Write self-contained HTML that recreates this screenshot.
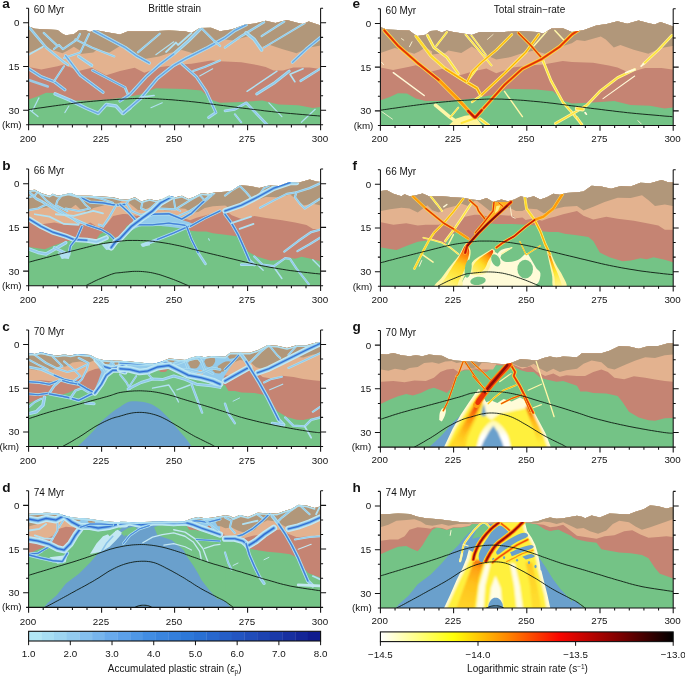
<!DOCTYPE html><html><head><meta charset="utf-8"><title>Figure</title>
<style>html,body{margin:0;padding:0;background:#fff}svg{display:block}text{font-family:"Liberation Sans", sans-serif;font-size:10px;fill:#111;opacity:0.99}.t{font-size:9.8px}</style></head><body>
<svg width="685" height="677" viewBox="0 0 685 677">
<rect width="685" height="677" fill="#fff"/>
<defs><linearGradient id="p1f" gradientUnits="userSpaceOnUse" x1="115.0" y1="84.2" x2="96.6" y2="125.1"><stop offset="0.00" stop-color="#d81c08"/><stop offset="0.18" stop-color="#ff7a08"/><stop offset="0.45" stop-color="#ffd21e"/><stop offset="0.80" stop-color="#ffee50"/><stop offset="1.00" stop-color="#fff590"/></linearGradient><linearGradient id="p2f" gradientUnits="userSpaceOnUse" x1="140.5" y1="88.7" x2="119.1" y2="112.8"><stop offset="0.00" stop-color="#e63208"/><stop offset="0.25" stop-color="#ff9a0a"/><stop offset="0.55" stop-color="#ffdf28"/><stop offset="1.00" stop-color="#fff38a"/></linearGradient><linearGradient id="p3f" gradientUnits="userSpaceOnUse" x1="195.7" y1="89.3" x2="208.0" y2="125.1"><stop offset="0.00" stop-color="#f05008"/><stop offset="0.30" stop-color="#ffb012"/><stop offset="0.60" stop-color="#ffe630"/><stop offset="1.00" stop-color="#fff590"/></linearGradient><filter id="sf1" x="-5%" y="-5%" width="110%" height="110%"><feGaussianBlur stdDeviation="0.55"/></filter><linearGradient id="pgl" gradientUnits="userSpaceOnUse" x1="129.3" y1="72.1" x2="102.7" y2="127.3"><stop offset="0.00" stop-color="#c81408"/><stop offset="0.22" stop-color="#f04a08"/><stop offset="0.45" stop-color="#ff960e"/><stop offset="0.75" stop-color="#ffc81e"/><stop offset="1.00" stop-color="#ffe030"/></linearGradient><linearGradient id="pgr" gradientUnits="userSpaceOnUse" x1="175.3" y1="84.4" x2="189.6" y2="121.1"><stop offset="0.00" stop-color="#f05a08"/><stop offset="0.35" stop-color="#ffb416"/><stop offset="1.00" stop-color="#fff03c"/></linearGradient><linearGradient id="pgw" gradientUnits="userSpaceOnUse" x1="139.5" y1="99.7" x2="139.5" y2="115.0"><stop offset="0.00" stop-color="#fff9b0"/><stop offset="1.00" stop-color="#ffffff"/></linearGradient><clipPath id="bl2"><polygon points="89.4,127.3 92.5,124.2 100.7,106.8 108.9,92.5 117.0,80.3 123.2,71.1 127.2,66.4 134.4,79.9 139.5,78.2 145.6,80.7 151.8,76.6 159.9,79.2 168.1,75.2 174.3,78.2 179.4,84.4 184.5,93.6 193.7,110.9 198.8,124.2 199.8,127.3"/></clipPath><filter id="fbl2" x="-10%" y="-10%" width="120%" height="120%"><feGaussianBlur stdDeviation="0.90"/></filter><linearGradient id="pho" gradientUnits="userSpaceOnUse" x1="127.2" y1="74.3" x2="110.9" y2="127.4"><stop offset="0.00" stop-color="#f05a08"/><stop offset="0.20" stop-color="#ffa010"/><stop offset="0.50" stop-color="#ffc21c"/><stop offset="1.00" stop-color="#ffd62a"/></linearGradient><linearGradient id="phr" gradientUnits="userSpaceOnUse" x1="176.3" y1="78.4" x2="185.5" y2="127.4"><stop offset="0.00" stop-color="#ffc422"/><stop offset="0.40" stop-color="#ffd62a"/><stop offset="1.00" stop-color="#ffe030"/></linearGradient><clipPath id="bl3"><polygon points="90.5,127.4 92.5,124.4 98.6,111.1 104.8,96.8 110.9,84.5 114.6,75.3 117.0,66.5 122.9,69.8 126.4,61.9 131.5,54.0 138.5,46.1 145.1,39.5 148.6,37.4 170.5,37.4 173.3,39.5 175.3,47.9 180.0,54.9 183.5,61.9 186.1,70.6 187.9,79.4 188.8,86.8 189.6,87.6 192.6,99.8 195.7,112.1 198.4,124.4 198.8,127.4"/></clipPath><filter id="fbl3" x="-10%" y="-10%" width="120%" height="120%"><feGaussianBlur stdDeviation="1.10"/></filter>
<linearGradient id="hot" x1="0" x2="1" y1="0" y2="0">
<stop offset="0" stop-color="#ffffff"/><stop offset="0.125" stop-color="#ffff86"/><stop offset="0.25" stop-color="#ffff08"/><stop offset="0.4375" stop-color="#ff8400"/><stop offset="0.61" stop-color="#fa0600"/><stop offset="0.8125" stop-color="#800000"/><stop offset="1" stop-color="#000000"/>
</linearGradient>
</defs>
<clipPath id="c00"><rect x="28.6" y="8.2" width="292.0" height="116.6"/></clipPath>
<g clip-path="url(#c00)">
<g transform="translate(0.00,0.00)">
<clipPath id="ta"><polygon points="25.7,26.4 28.7,26.4 34.8,28.8 57.5,30.0 62.4,33.7 65.6,35.3 73.8,34.2 78.7,30.4 85.2,30.0 90.0,32.0 94.9,30.0 101.4,31.3 111.2,32.9 120.0,34.5 128.1,31.3 152.5,31.3 168.8,30.4 185.0,31.3 191.5,32.9 199.7,28.0 211.0,27.7 220.0,31.3 231.5,29.6 244.5,24.8 255.0,23.5 265.7,20.7 275.4,23.1 286.8,19.9 297.0,22.7 303.0,24.0 308.7,21.5 320.7,25.6 323.7,25.6 323.7,127.3 25.7,127.3"/></clipPath>
<g clip-path="url(#ta)">
<rect x="26.7" y="5.7" width="296.0" height="120.6" fill="#74c386"/>

<polygon points="25.7,2.7 25.7,99.6 28.7,99.6 38.0,96.3 46.1,92.7 55.1,93.0 64.0,97.9 73.8,100.4 90.0,100.4 106.3,99.6 120.0,97.9 139.5,94.7 155.8,88.2 185.0,89.0 201.3,90.6 211.0,99.6 220.0,102.8 241.3,102.0 262.4,100.4 278.7,104.4 298.2,105.2 312.8,108.0 320.7,106.9 323.7,106.9 323.7,2.7" fill="#c58473"/>
<polygon points="25.7,2.7 25.7,67.0 28.7,67.0 41.3,69.5 57.5,66.2 64.0,64.6 78.7,71.1 91.7,67.8 106.3,75.2 120.0,71.1 134.6,67.8 144.4,72.7 160.7,67.0 180.2,64.6 191.5,63.8 211.0,60.5 220.0,61.3 241.3,62.2 257.0,65.0 265.7,67.0 273.5,70.5 283.0,70.5 293.3,67.5 309.6,67.5 320.7,69.0 323.7,69.0 323.7,2.7" fill="#e3b28f"/>
<polygon points="25.7,2.7 25.7,52.4 28.7,52.4 42.9,47.5 52.6,50.0 62.4,53.2 67.3,50.8 73.8,46.7 80.3,50.8 80.3,54.0 93.3,52.4 96.5,50.0 109.5,52.4 120.0,45.9 129.8,52.4 144.4,58.9 159.0,56.5 168.8,53.2 181.8,50.0 193.2,53.2 204.6,47.5 220.0,42.6 225.0,39.5 233.0,40.5 249.0,36.0 254.0,39.0 262.0,47.0 268.6,44.5 281.9,49.1 296.5,53.2 309.5,47.5 320.7,45.5 323.7,45.5 323.7,2.7" fill="#b1977a"/>
<polyline points="29.0,27.2 46.1,47.5 64.0,62.2 68.0,65.0" fill="none" stroke="#b0e0f1" stroke-width="2.70" stroke-linecap="round" stroke-linejoin="round"/><polyline points="29.0,27.2 46.1,47.5 64.0,62.2 68.0,65.0" fill="none" stroke="#93cbec" stroke-width="1.35" stroke-linecap="round" stroke-linejoin="round"/>
<polyline points="43.7,32.9 57.5,45.9" fill="none" stroke="#b0e0f1" stroke-width="2.16" stroke-linecap="round" stroke-linejoin="round"/><polyline points="43.7,32.9 57.5,45.9" fill="none" stroke="#93cbec" stroke-width="1.08" stroke-linecap="round" stroke-linejoin="round"/>
<polyline points="54.0,49.0 59.0,45.0 63.0,49.2 77.0,39.5 80.0,34.0" fill="none" stroke="#b0e0f1" stroke-width="2.16" stroke-linecap="round" stroke-linejoin="round"/><polyline points="54.0,49.0 59.0,45.0 63.0,49.2 77.0,39.5 80.0,34.0" fill="none" stroke="#93cbec" stroke-width="1.08" stroke-linecap="round" stroke-linejoin="round"/>
<polyline points="89.0,34.0 80.3,52.4 64.0,58.0" fill="none" stroke="#b0e0f1" stroke-width="2.16" stroke-linecap="round" stroke-linejoin="round"/><polyline points="89.0,34.0 80.3,52.4 64.0,58.0" fill="none" stroke="#93cbec" stroke-width="1.08" stroke-linecap="round" stroke-linejoin="round"/>
<polyline points="28.7,54.8 42.9,46.7" fill="none" stroke="#b0e0f1" stroke-width="1.89" stroke-linecap="round" stroke-linejoin="round"/>
<polyline points="28.7,68.7 41.3,76.8 54.3,81.7 64.8,89.8" fill="none" stroke="#b0e0f1" stroke-width="3.24" stroke-linecap="round" stroke-linejoin="round"/><polyline points="28.7,68.7 41.3,76.8 54.3,81.7 64.8,89.8" fill="none" stroke="#93cbec" stroke-width="1.62" stroke-linecap="round" stroke-linejoin="round"/><polyline points="28.7,68.7 41.3,76.8 54.3,81.7 64.8,89.8" fill="none" stroke="#8fc6eb" stroke-width="1.87" stroke-linecap="round" stroke-linejoin="round"/><polyline points="28.7,68.7 41.3,76.8 54.3,81.7 64.8,89.8" fill="none" stroke="#5a9ae2" stroke-width="0.83" stroke-linecap="round" stroke-linejoin="round"/>
<polyline points="64.0,66.2 54.3,80.9" fill="none" stroke="#b0e0f1" stroke-width="2.03" stroke-linecap="round" stroke-linejoin="round"/><polyline points="64.0,66.2 54.3,80.9" fill="none" stroke="#93cbec" stroke-width="1.01" stroke-linecap="round" stroke-linejoin="round"/>
<polyline points="28.7,80.0 47.8,86.5" fill="none" stroke="#9ccbe6" stroke-width="2.43" stroke-linecap="round" stroke-linejoin="round"/>
<polyline points="65.6,55.7 80.3,75.2 103.0,92.2" fill="none" stroke="#b0e0f1" stroke-width="3.24" stroke-linecap="round" stroke-linejoin="round"/><polyline points="65.6,55.7 80.3,75.2 103.0,92.2" fill="none" stroke="#93cbec" stroke-width="1.62" stroke-linecap="round" stroke-linejoin="round"/><polyline points="65.6,55.7 80.3,75.2 103.0,92.2" fill="none" stroke="#8fc6eb" stroke-width="1.87" stroke-linecap="round" stroke-linejoin="round"/><polyline points="65.6,55.7 80.3,75.2 103.0,92.2" fill="none" stroke="#5a9ae2" stroke-width="0.83" stroke-linecap="round" stroke-linejoin="round"/>
<polyline points="75.4,39.4 91.7,47.5 114.4,56.5" fill="none" stroke="#b0e0f1" stroke-width="2.03" stroke-linecap="round" stroke-linejoin="round"/><polyline points="75.4,39.4 91.7,47.5 114.4,56.5" fill="none" stroke="#93cbec" stroke-width="1.01" stroke-linecap="round" stroke-linejoin="round"/>
<polyline points="78.7,56.5 91.7,65.4" fill="none" stroke="#b0e0f1" stroke-width="3.24" stroke-linecap="round" stroke-linejoin="round"/><polyline points="78.7,56.5 91.7,65.4" fill="none" stroke="#93cbec" stroke-width="1.62" stroke-linecap="round" stroke-linejoin="round"/>
<polyline points="93.3,30.4 125.0,47.5 136.3,55.7 149.3,63.0" fill="none" stroke="#b0e0f1" stroke-width="3.51" stroke-linecap="round" stroke-linejoin="round"/><polyline points="93.3,30.4 125.0,47.5 136.3,55.7 149.3,63.0" fill="none" stroke="#93cbec" stroke-width="1.76" stroke-linecap="round" stroke-linejoin="round"/><polyline points="93.3,30.4 125.0,47.5 136.3,55.7 149.3,63.0" fill="none" stroke="#8fc6eb" stroke-width="2.03" stroke-linecap="round" stroke-linejoin="round"/><polyline points="93.3,30.4 125.0,47.5 136.3,55.7 149.3,63.0" fill="none" stroke="#5a9ae2" stroke-width="0.90" stroke-linecap="round" stroke-linejoin="round"/>
<polyline points="92.5,70.3 125.0,87.4 128.1,94.7" fill="none" stroke="#b0e0f1" stroke-width="2.70" stroke-linecap="round" stroke-linejoin="round"/><polyline points="92.5,70.3 125.0,87.4 128.1,94.7" fill="none" stroke="#93cbec" stroke-width="1.35" stroke-linecap="round" stroke-linejoin="round"/><polyline points="92.5,70.3 125.0,87.4" fill="none" stroke="#8fc6eb" stroke-width="1.70" stroke-linecap="round" stroke-linejoin="round"/><polyline points="92.5,70.3 125.0,87.4" fill="none" stroke="#5a9ae2" stroke-width="0.75" stroke-linecap="round" stroke-linejoin="round"/>
<polyline points="55.1,93.9 70.5,100.4 86.8,108.5 98.2,113.4 106.3,104.4 116.0,106.0 122.6,113.4 130.0,108.0" fill="none" stroke="#b0e0f1" stroke-width="3.51" stroke-linecap="round" stroke-linejoin="round"/><polyline points="55.1,93.9 70.5,100.4 86.8,108.5 98.2,113.4 106.3,104.4 116.0,106.0 122.6,113.4 130.0,108.0" fill="none" stroke="#93cbec" stroke-width="1.76" stroke-linecap="round" stroke-linejoin="round"/><polyline points="70.5,100.4 86.8,108.5 98.2,113.4 106.3,104.4" fill="none" stroke="#8fc6eb" stroke-width="1.70" stroke-linecap="round" stroke-linejoin="round"/><polyline points="70.5,100.4 86.8,108.5 98.2,113.4 106.3,104.4" fill="none" stroke="#5a9ae2" stroke-width="0.75" stroke-linecap="round" stroke-linejoin="round"/>
<polyline points="38.8,97.9 32.3,110.9" fill="none" stroke="#b0e0f1" stroke-width="1.22" stroke-linecap="round" stroke-linejoin="round"/>
<polyline points="29.9,110.1 38.0,116.6" fill="none" stroke="#b0e0f1" stroke-width="1.22" stroke-linecap="round" stroke-linejoin="round"/>
<polyline points="68.9,106.0 64.8,112.6" fill="none" stroke="#b0e0f1" stroke-width="1.08" stroke-linecap="round" stroke-linejoin="round"/>
<polyline points="201.3,28.0 188.3,41.0 173.7,54.0 160.7,63.8 146.0,76.8 129.8,94.7 120.0,101.0" fill="none" stroke="#b0e0f1" stroke-width="3.24" stroke-linecap="round" stroke-linejoin="round"/><polyline points="201.3,28.0 188.3,41.0 173.7,54.0 160.7,63.8 146.0,76.8 129.8,94.7 120.0,101.0" fill="none" stroke="#93cbec" stroke-width="1.62" stroke-linecap="round" stroke-linejoin="round"/><polyline points="173.7,54.0 160.7,63.8 146.0,76.8 129.8,94.7 120.0,101.0" fill="none" stroke="#8fc6eb" stroke-width="2.12" stroke-linecap="round" stroke-linejoin="round"/><polyline points="173.7,54.0 160.7,63.8 146.0,76.8 129.8,94.7 120.0,101.0" fill="none" stroke="#5a9ae2" stroke-width="0.94" stroke-linecap="round" stroke-linejoin="round"/>
<polyline points="246.1,24.8 234.8,30.4 225.0,37.8 207.8,47.5 185.0,58.9 173.7,65.4 157.4,78.4 141.1,97.9 123.3,113.4" fill="none" stroke="#b0e0f1" stroke-width="3.51" stroke-linecap="round" stroke-linejoin="round"/><polyline points="246.1,24.8 234.8,30.4 225.0,37.8 207.8,47.5 185.0,58.9 173.7,65.4 157.4,78.4 141.1,97.9 123.3,113.4" fill="none" stroke="#93cbec" stroke-width="1.76" stroke-linecap="round" stroke-linejoin="round"/><polyline points="246.1,24.8 234.8,30.4 225.0,37.8 207.8,47.5 185.0,58.9 173.7,65.4 157.4,78.4 141.1,97.9 123.3,113.4" fill="none" stroke="#8fc6eb" stroke-width="2.12" stroke-linecap="round" stroke-linejoin="round"/><polyline points="246.1,24.8 234.8,30.4 225.0,37.8 207.8,47.5 185.0,58.9 173.7,65.4 157.4,78.4 141.1,97.9 123.3,113.4" fill="none" stroke="#5a9ae2" stroke-width="0.94" stroke-linecap="round" stroke-linejoin="round"/>
<polyline points="181.8,63.8 196.4,76.8 206.2,91.4 215.9,112.6 208.6,117.4" fill="none" stroke="#b0e0f1" stroke-width="2.97" stroke-linecap="round" stroke-linejoin="round"/><polyline points="181.8,63.8 196.4,76.8 206.2,91.4 215.9,112.6 208.6,117.4" fill="none" stroke="#93cbec" stroke-width="1.49" stroke-linecap="round" stroke-linejoin="round"/><polyline points="181.8,63.8 196.4,76.8 206.2,91.4 215.9,112.6" fill="none" stroke="#8fc6eb" stroke-width="1.49" stroke-linecap="round" stroke-linejoin="round"/><polyline points="181.8,63.8 196.4,76.8 206.2,91.4 215.9,112.6" fill="none" stroke="#5a9ae2" stroke-width="0.66" stroke-linecap="round" stroke-linejoin="round"/>
<polyline points="220.0,60.5 204.6,67.0 193.2,71.1" fill="none" stroke="#b0e0f1" stroke-width="2.16" stroke-linecap="round" stroke-linejoin="round"/><polyline points="220.0,60.5 204.6,67.0 193.2,71.1" fill="none" stroke="#93cbec" stroke-width="1.08" stroke-linecap="round" stroke-linejoin="round"/>
<polyline points="212.7,68.7 199.7,76.0" fill="none" stroke="#b0e0f1" stroke-width="1.08" stroke-linecap="round" stroke-linejoin="round"/>
<polyline points="159.8,33.7 137.9,52.4" fill="none" stroke="#b0e0f1" stroke-width="2.16" stroke-linecap="round" stroke-linejoin="round"/><polyline points="159.8,33.7 137.9,52.4" fill="none" stroke="#93cbec" stroke-width="1.08" stroke-linecap="round" stroke-linejoin="round"/>
<polyline points="173.7,41.8 155.8,54.8" fill="none" stroke="#b0e0f1" stroke-width="1.08" stroke-linecap="round" stroke-linejoin="round"/>
<polyline points="191.5,33.0 178.0,45.0 176.0,42.5 166.0,52.0" fill="none" stroke="#b0e0f1" stroke-width="1.76" stroke-linecap="round" stroke-linejoin="round"/>
<polyline points="201.3,28.0 214.3,41.0 220.0,45.9" fill="none" stroke="#b0e0f1" stroke-width="2.43" stroke-linecap="round" stroke-linejoin="round"/><polyline points="201.3,28.0 214.3,41.0 220.0,45.9" fill="none" stroke="#93cbec" stroke-width="1.22" stroke-linecap="round" stroke-linejoin="round"/>
<polyline points="141.1,97.1 154.1,95.5" fill="none" stroke="#b0e0f1" stroke-width="1.62" stroke-linecap="round" stroke-linejoin="round"/>
<polyline points="150.9,107.7 162.3,102.8" fill="none" stroke="#b0e0f1" stroke-width="1.08" stroke-linecap="round" stroke-linejoin="round"/>
<polyline points="225.0,47.5 241.3,36.1 264.0,22.3" fill="none" stroke="#b0e0f1" stroke-width="2.43" stroke-linecap="round" stroke-linejoin="round"/><polyline points="225.0,47.5 241.3,36.1 264.0,22.3" fill="none" stroke="#93cbec" stroke-width="1.22" stroke-linecap="round" stroke-linejoin="round"/>
<polyline points="246.1,32.9 254.3,39.4 261.6,50.0" fill="none" stroke="#b0e0f1" stroke-width="3.51" stroke-linecap="round" stroke-linejoin="round"/><polyline points="246.1,32.9 254.3,39.4 261.6,50.0" fill="none" stroke="#93cbec" stroke-width="1.76" stroke-linecap="round" stroke-linejoin="round"/>
<polyline points="284.3,21.5 261.6,36.1" fill="none" stroke="#b0e0f1" stroke-width="2.16" stroke-linecap="round" stroke-linejoin="round"/><polyline points="284.3,21.5 261.6,36.1" fill="none" stroke="#93cbec" stroke-width="1.08" stroke-linecap="round" stroke-linejoin="round"/>
<polyline points="304.7,23.1 264.0,47.5" fill="none" stroke="#b0e0f1" stroke-width="2.03" stroke-linecap="round" stroke-linejoin="round"/><polyline points="304.7,23.1 264.0,47.5" fill="none" stroke="#93cbec" stroke-width="1.01" stroke-linecap="round" stroke-linejoin="round"/>
<polyline points="320.1,37.8 306.3,49.1 292.5,62.2" fill="none" stroke="#b0e0f1" stroke-width="3.24" stroke-linecap="round" stroke-linejoin="round"/><polyline points="320.1,37.8 306.3,49.1 292.5,62.2" fill="none" stroke="#93cbec" stroke-width="1.62" stroke-linecap="round" stroke-linejoin="round"/><polyline points="320.1,37.8 306.3,49.1 292.5,62.2" fill="none" stroke="#8fc6eb" stroke-width="1.87" stroke-linecap="round" stroke-linejoin="round"/><polyline points="320.1,37.8 306.3,49.1 292.5,62.2" fill="none" stroke="#5a9ae2" stroke-width="0.83" stroke-linecap="round" stroke-linejoin="round"/>
<polyline points="320.1,68.7 300.6,80.9" fill="none" stroke="#b0e0f1" stroke-width="2.43" stroke-linecap="round" stroke-linejoin="round"/><polyline points="320.1,68.7 300.6,80.9" fill="none" stroke="#93cbec" stroke-width="1.22" stroke-linecap="round" stroke-linejoin="round"/>
<polyline points="289.2,71.1 273.8,83.3 256.7,93.9" fill="none" stroke="#b0e0f1" stroke-width="2.97" stroke-linecap="round" stroke-linejoin="round"/><polyline points="289.2,71.1 273.8,83.3 256.7,93.9" fill="none" stroke="#93cbec" stroke-width="1.49" stroke-linecap="round" stroke-linejoin="round"/>
<polyline points="277.0,71.1 247.0,91.4" fill="none" stroke="#b0e0f1" stroke-width="1.35" stroke-linecap="round" stroke-linejoin="round"/>
<polyline points="303.0,68.7 290.0,74.3 294.9,81.7" fill="none" stroke="#b0e0f1" stroke-width="1.62" stroke-linecap="round" stroke-linejoin="round"/>
<polyline points="225.0,110.9 234.8,109.3 246.1,102.8 267.3,125.0" fill="none" stroke="#b0e0f1" stroke-width="2.70" stroke-linecap="round" stroke-linejoin="round"/><polyline points="225.0,110.9 234.8,109.3 246.1,102.8 267.3,125.0" fill="none" stroke="#93cbec" stroke-width="1.35" stroke-linecap="round" stroke-linejoin="round"/>
<polyline points="234.8,114.2 241.3,122.3" fill="none" stroke="#b0e0f1" stroke-width="2.03" stroke-linecap="round" stroke-linejoin="round"/><polyline points="234.8,114.2 241.3,122.3" fill="none" stroke="#93cbec" stroke-width="1.01" stroke-linecap="round" stroke-linejoin="round"/>
<polyline points="268.9,102.8 281.9,116.6" fill="none" stroke="#b0e0f1" stroke-width="1.22" stroke-linecap="round" stroke-linejoin="round"/>
<polyline points="315.2,109.3 301.4,122.3" fill="none" stroke="#b0e0f1" stroke-width="1.22" stroke-linecap="round" stroke-linejoin="round"/>
</g>
<polyline points="28.7,109.6 30.3,109.4 32.5,109.0 35.0,108.7 37.9,108.2 40.9,107.8 44.0,107.4 47.1,106.9 50.0,106.5 52.8,106.1 55.7,105.7 58.6,105.3 61.6,104.9 64.6,104.5 67.6,104.1 70.7,103.7 73.8,103.3 77.0,102.9 80.2,102.6 83.5,102.2 86.8,101.8 90.2,101.5 93.5,101.2 96.8,100.9 100.0,100.6 103.2,100.3 106.5,100.1 109.7,99.9 112.9,99.7 116.1,99.5 119.2,99.3 122.2,99.1 125.0,99.0 127.7,98.9 130.1,98.7 132.5,98.6 134.7,98.5 137.0,98.4 139.3,98.4 141.8,98.4 144.4,98.4 147.2,98.5 150.1,98.5 153.1,98.7 156.2,98.8 159.3,99.0 162.5,99.2 165.6,99.4 168.8,99.6 172.0,99.8 175.3,100.1 178.5,100.4 181.9,100.7 185.2,101.0 188.5,101.3 191.8,101.7 195.0,102.0 198.1,102.4 201.2,102.7 204.2,103.1 207.3,103.5 210.3,103.9 213.4,104.3 216.6,104.8 220.0,105.2 223.5,105.6 227.1,106.1 230.9,106.6 234.7,107.1 238.5,107.6 242.4,108.1 246.2,108.5 250.0,109.0 253.7,109.5 257.2,109.9 260.8,110.3 264.3,110.8 268.0,111.2 271.7,111.6 275.7,112.1 280.0,112.5 284.9,113.0 290.4,113.5 296.3,114.0 302.2,114.5 307.9,115.0 313.1,115.5 317.5,115.8 320.7,116.1" fill="none" stroke="#0d1a12" stroke-width="0.90" stroke-linejoin="round"/>
</g></g>
<path d="M28.60 8.23V124.83H320.60V8.23M28.60 8.23h-2.50M320.60 8.23h2.50M28.60 22.80h-5.50M320.60 22.80h5.50M28.60 37.38h-2.50M320.60 37.38h2.50M28.60 51.95h-2.50M320.60 51.95h2.50M28.60 66.53h-5.50M320.60 66.53h5.50M28.60 81.10h-2.50M320.60 81.10h2.50M28.60 95.67h-2.50M320.60 95.67h2.50M28.60 110.25h-5.50M320.60 110.25h5.50M28.60 124.83h-2.50M320.60 124.83h2.50M28.60 124.83v5.30M43.20 124.83v2.60M57.80 124.83v2.60M72.40 124.83v2.60M87.00 124.83v2.60M101.60 124.83v5.30M116.20 124.83v2.60M130.80 124.83v2.60M145.40 124.83v2.60M160.00 124.83v2.60M174.60 124.83v5.30M189.20 124.83v2.60M203.80 124.83v2.60M218.40 124.83v2.60M233.00 124.83v2.60M247.60 124.83v5.30M262.20 124.83v2.60M276.80 124.83v2.60M291.40 124.83v2.60M306.00 124.83v2.60M320.60 124.83v5.30" fill="none" stroke="#111" stroke-width="1.05"/>
<text x="19.4" y="26.2" text-anchor="end" class="t">0</text>
<text x="19.4" y="69.9" text-anchor="end" class="t">15</text>
<text x="19.4" y="113.7" text-anchor="end" class="t">30</text>
<text x="21.6" y="127.8" text-anchor="end" class="t">(km)</text>
<text x="28.0" y="142.2" text-anchor="middle" class="t">200</text>
<text x="101.0" y="142.2" text-anchor="middle" class="t">225</text>
<text x="174.0" y="142.2" text-anchor="middle" class="t">250</text>
<text x="247.0" y="142.2" text-anchor="middle" class="t">275</text>
<text x="320.0" y="142.2" text-anchor="middle" class="t">300</text>
<text x="2.2" y="7.9" style="font-weight:bold;font-size:13.6px">a</text>
<text x="33.8" y="13.2">60 Myr</text>
<clipPath id="c10"><rect x="380.4" y="8.8" width="292.8" height="116.6"/></clipPath>
<g clip-path="url(#c10)">
<g transform="translate(351.80,0.60)">
<clipPath id="te"><polygon points="25.7,26.4 28.7,26.4 34.8,28.8 57.5,30.0 62.4,33.7 65.6,35.3 73.8,34.2 78.7,30.4 85.2,30.0 90.0,32.0 94.9,30.0 101.4,31.3 111.2,32.9 120.0,34.5 128.1,31.3 152.5,31.3 168.8,30.4 185.0,31.3 191.5,32.9 199.7,28.0 211.0,27.7 220.0,31.3 231.5,29.6 244.5,24.8 255.0,23.5 265.7,20.7 275.4,23.1 286.8,19.9 297.0,22.7 303.0,24.0 308.7,21.5 320.7,25.6 323.7,25.6 323.7,127.3 25.7,127.3"/></clipPath>
<g clip-path="url(#te)">
<rect x="26.7" y="5.7" width="296.0" height="120.6" fill="#74c386"/>

<polygon points="25.7,2.7 25.7,99.6 28.7,99.6 38.0,96.3 46.1,92.7 55.1,93.0 64.0,97.9 73.8,100.4 90.0,100.4 106.3,99.6 120.0,97.9 139.5,94.7 155.8,88.2 185.0,89.0 201.3,90.6 211.0,99.6 220.0,102.8 241.3,102.0 262.4,100.4 278.7,104.4 298.2,105.2 312.8,108.0 320.7,106.9 323.7,106.9 323.7,2.7" fill="#c58473"/>
<polygon points="25.7,2.7 25.7,67.0 28.7,67.0 41.3,69.5 57.5,66.2 64.0,64.6 78.7,71.1 91.7,67.8 106.3,75.2 120.0,71.1 134.6,67.8 144.4,72.7 160.7,67.0 180.2,64.6 191.5,63.8 211.0,60.5 220.0,61.3 241.3,62.2 257.0,65.0 265.7,67.0 273.5,70.5 283.0,70.5 293.3,67.5 309.6,67.5 320.7,69.0 323.7,69.0 323.7,2.7" fill="#e3b28f"/>
<polygon points="25.7,2.7 25.7,52.4 28.7,52.4 42.9,47.5 52.6,50.0 62.4,53.2 67.3,50.8 73.8,46.7 80.3,50.8 80.3,54.0 93.3,52.4 96.5,50.0 109.5,52.4 120.0,45.9 129.8,52.4 144.4,58.9 159.0,56.5 168.8,53.2 181.8,50.0 193.2,53.2 204.6,47.5 220.0,42.6 225.0,39.5 233.0,40.5 249.0,36.0 254.0,39.0 262.0,47.0 268.6,44.5 281.9,49.1 296.5,53.2 309.5,47.5 320.7,45.5 323.7,45.5 323.7,2.7" fill="#b1977a"/>
<polyline points="41.5,72.1 72.4,94.9" fill="none" stroke="#fff9d8" stroke-width="1.51" stroke-linecap="round" stroke-linejoin="round"/>
<polyline points="49.6,38.0 52.0,39.6" fill="none" stroke="#fff9d8" stroke-width="0.81" stroke-linecap="round" stroke-linejoin="round"/>
<polyline points="60.2,41.2 57.7,46.1" fill="none" stroke="#fff9d8" stroke-width="0.93" stroke-linecap="round" stroke-linejoin="round"/>
<polyline points="29.8,61.6 31.7,64.0" fill="none" stroke="#fff9d8" stroke-width="0.93" stroke-linecap="round" stroke-linejoin="round"/>
<polyline points="30.1,111.1 40.6,118.5" fill="none" stroke="#fff9d8" stroke-width="0.81" stroke-linecap="round" stroke-linejoin="round"/>
<polyline points="95.1,31.5 84.5,45.3" fill="none" stroke="#fdf4a0" stroke-width="2.17" stroke-linecap="round" stroke-linejoin="round"/><polyline points="95.1,31.5 84.5,45.3" fill="none" stroke="#ffe53a" stroke-width="1.09" stroke-linecap="round" stroke-linejoin="round"/>
<polyline points="113.8,33.9 139.7,64.8" fill="none" stroke="#fdf4a0" stroke-width="2.17" stroke-linecap="round" stroke-linejoin="round"/><polyline points="113.8,33.9 139.7,64.8" fill="none" stroke="#ffe53a" stroke-width="1.09" stroke-linecap="round" stroke-linejoin="round"/>
<polyline points="119.5,34.7 134.0,54.2" fill="none" stroke="#fdf4a0" stroke-width="1.89" stroke-linecap="round" stroke-linejoin="round"/><polyline points="119.5,34.7 134.0,54.2" fill="none" stroke="#ffe53a" stroke-width="0.94" stroke-linecap="round" stroke-linejoin="round"/>
<polyline points="125.2,68.1 115.4,81.1" fill="none" stroke="#fdf4a0" stroke-width="2.17" stroke-linecap="round" stroke-linejoin="round"/><polyline points="125.2,68.1 115.4,81.1" fill="none" stroke="#ffe53a" stroke-width="1.09" stroke-linecap="round" stroke-linejoin="round"/>
<polyline points="83.7,104.6 98.4,116.8 109.8,124.5" fill="none" stroke="#fff6a8" stroke-width="3.48" stroke-linecap="round" stroke-linejoin="round"/>
<polyline points="106.5,107.1 98.4,116.8" fill="none" stroke="#fdf4a0" stroke-width="2.03" stroke-linecap="round" stroke-linejoin="round"/><polyline points="106.5,107.1 98.4,116.8" fill="none" stroke="#ffe53a" stroke-width="1.01" stroke-linecap="round" stroke-linejoin="round"/>
<polyline points="75.6,34.7 82.1,46.9 95.1,56.7 106.5,72.9" fill="none" stroke="#fdf4a0" stroke-width="2.90" stroke-linecap="round" stroke-linejoin="round"/><polyline points="75.6,34.7 82.1,46.9 95.1,56.7 106.5,72.9" fill="none" stroke="#ffe53a" stroke-width="1.45" stroke-linecap="round" stroke-linejoin="round"/>
<polyline points="64.2,35.5 78.9,55.1 93.5,68.1 111.4,79.4 125.2,87.6 129.1,94.9" fill="none" stroke="#fdf08a" stroke-width="3.33" stroke-linecap="round" stroke-linejoin="round"/><polyline points="64.2,35.5 78.9,55.1 93.5,68.1 111.4,79.4 125.2,87.6 129.1,94.9" fill="none" stroke="#ffd828" stroke-width="2.20" stroke-linecap="round" stroke-linejoin="round"/><polyline points="93.5,68.1 111.4,79.4 125.2,87.6 129.1,94.9" fill="none" stroke="#ffa200" stroke-width="1.07" stroke-linecap="round" stroke-linejoin="round"/>
<polyline points="129.1,94.9 120.2,101.4" fill="none" stroke="#fdf4a0" stroke-width="2.32" stroke-linecap="round" stroke-linejoin="round"/><polyline points="129.1,94.9 120.2,101.4" fill="none" stroke="#ffe53a" stroke-width="1.16" stroke-linecap="round" stroke-linejoin="round"/>
<polyline points="152.7,90.8 170.6,116.0" fill="none" stroke="#fff6a8" stroke-width="1.45" stroke-linecap="round" stroke-linejoin="round"/>
<polyline points="195.0,30.7 182.0,45.3" fill="none" stroke="#fff6a8" stroke-width="1.45" stroke-linecap="round" stroke-linejoin="round"/>
<polyline points="203.1,29.8 212.9,40.4" fill="none" stroke="#fff6a8" stroke-width="1.45" stroke-linecap="round" stroke-linejoin="round"/>
<polyline points="141.3,33.9 135.6,38.8" fill="none" stroke="#fff9d8" stroke-width="0.70" stroke-linecap="round" stroke-linejoin="round"/>
<polyline points="128.3,118.5 136.5,124.5" fill="none" stroke="#fdf4a0" stroke-width="3.48" stroke-linecap="round" stroke-linejoin="round"/><polyline points="128.3,118.5 136.5,124.5" fill="none" stroke="#ffe53a" stroke-width="1.74" stroke-linecap="round" stroke-linejoin="round"/>
<polyline points="160.0,33.9 144.6,49.4 130.0,61.6 120.2,71.3 115.4,81.1" fill="none" stroke="#fdf08a" stroke-width="2.61" stroke-linecap="round" stroke-linejoin="round"/><polyline points="160.0,33.9 144.6,49.4 130.0,61.6 120.2,71.3 115.4,81.1" fill="none" stroke="#ffd828" stroke-width="1.72" stroke-linecap="round" stroke-linejoin="round"/><polyline points="160.0,33.9 144.6,49.4 130.0,61.6 120.2,71.3 115.4,81.1" fill="none" stroke="#ffa200" stroke-width="0.84" stroke-linecap="round" stroke-linejoin="round"/>
<polyline points="186.9,33.9 173.9,51.8 152.7,72.9 130.0,94.1" fill="none" stroke="#fdf08a" stroke-width="2.90" stroke-linecap="round" stroke-linejoin="round"/><polyline points="186.9,33.9 173.9,51.8 152.7,72.9 130.0,94.1" fill="none" stroke="#ffd828" stroke-width="1.91" stroke-linecap="round" stroke-linejoin="round"/><polyline points="186.9,33.9 173.9,51.8 152.7,72.9 130.0,94.1" fill="none" stroke="#ffa200" stroke-width="0.93" stroke-linecap="round" stroke-linejoin="round"/>
<polyline points="190.1,57.5 199.2,80.1 211.3,102.0 221.2,112.9 230.0,123.8" fill="none" stroke="#fdf4a0" stroke-width="2.90" stroke-linecap="round" stroke-linejoin="round"/><polyline points="190.1,57.5 199.2,80.1 211.3,102.0 221.2,112.9 230.0,123.8" fill="none" stroke="#ffe53a" stroke-width="1.45" stroke-linecap="round" stroke-linejoin="round"/>
<polyline points="166.5,32.3 178.7,44.5 190.1,57.5" fill="none" stroke="#fde058" stroke-width="2.90" stroke-linecap="round" stroke-linejoin="round"/><polyline points="166.5,32.3 178.7,44.5 190.1,57.5" fill="none" stroke="#ff9a0a" stroke-width="2.09" stroke-linecap="round" stroke-linejoin="round"/><polyline points="166.5,32.3 178.7,44.5 190.1,57.5" fill="none" stroke="#e0300a" stroke-width="1.22" stroke-linecap="round" stroke-linejoin="round"/>
<polygon points="103.2,118.5 113.0,115.2 125.2,113.6 123.5,116.0 130.0,124.5 97.4,124.5" fill="#fff39a"/>
<polyline points="109.8,122.5 121.1,118.5 123.5,117.2" fill="none" stroke="#fdf4a0" stroke-width="4.35" stroke-linecap="round" stroke-linejoin="round"/><polyline points="109.8,122.5 121.1,118.5 123.5,117.2" fill="none" stroke="#ffe53a" stroke-width="2.17" stroke-linecap="round" stroke-linejoin="round"/>
<polyline points="32.5,29.8 46.3,45.3 65.9,62.4 87.0,79.4 106.5,99.0 122.8,116.8" fill="none" stroke="#fde058" stroke-width="3.92" stroke-linecap="round" stroke-linejoin="round"/><polyline points="32.5,29.8 46.3,45.3 65.9,62.4 87.0,79.4 106.5,99.0 122.8,116.8" fill="none" stroke="#ff9a0a" stroke-width="2.82" stroke-linecap="round" stroke-linejoin="round"/><polyline points="32.5,29.8 46.3,45.3 65.9,62.4 87.0,79.4" fill="none" stroke="#e0300a" stroke-width="1.64" stroke-linecap="round" stroke-linejoin="round"/>
<polyline points="123.5,116.8 138.1,100.6 152.7,84.3 170.6,68.1 190.1,58.3 208.0,46.1 220.2,33.9 226.8,29.4" fill="none" stroke="#fde058" stroke-width="3.92" stroke-linecap="round" stroke-linejoin="round"/><polyline points="123.5,116.8 138.1,100.6 152.7,84.3 170.6,68.1 190.1,58.3 208.0,46.1 220.2,33.9 226.8,29.4" fill="none" stroke="#ff9a0a" stroke-width="2.82" stroke-linecap="round" stroke-linejoin="round"/><polyline points="123.5,116.8 138.1,100.6 152.7,84.3 170.6,68.1 190.1,58.3 208.0,46.1 220.2,33.9 226.8,29.4" fill="none" stroke="#e0300a" stroke-width="1.64" stroke-linecap="round" stroke-linejoin="round"/>
<polyline points="116.3,110.3 122.8,116.8 123.5,116.8 130.0,109.5" fill="none" stroke="#fdc040" stroke-width="3.92" stroke-linecap="round" stroke-linejoin="round"/><polyline points="116.3,110.3 122.8,116.8 123.5,116.8 130.0,109.5" fill="none" stroke="#f4600a" stroke-width="2.94" stroke-linecap="round" stroke-linejoin="round"/><polyline points="116.3,110.3 122.8,116.8 123.5,116.8 130.0,109.5" fill="none" stroke="#bd1408" stroke-width="1.80" stroke-linecap="round" stroke-linejoin="round"/>
<polyline points="320.3,34.7 306.5,49.4 291.9,63.2" fill="none" stroke="#fdf4a0" stroke-width="2.90" stroke-linecap="round" stroke-linejoin="round"/><polyline points="320.3,34.7 306.5,49.4 291.9,63.2" fill="none" stroke="#ffe53a" stroke-width="1.45" stroke-linecap="round" stroke-linejoin="round"/>
<polyline points="291.9,63.2 289.4,65.6" fill="none" stroke="#fff9d8" stroke-width="1.86" stroke-linecap="round" stroke-linejoin="round"/>
<polyline points="282.9,68.9 265.9,77.0 248.0,90.8 235.0,104.6 221.1,112.9 203.6,122.9" fill="none" stroke="#fdf4a0" stroke-width="2.90" stroke-linecap="round" stroke-linejoin="round"/><polyline points="282.9,68.9 265.9,77.0 248.0,90.8 235.0,104.6 221.1,112.9 203.6,122.9" fill="none" stroke="#ffe53a" stroke-width="1.45" stroke-linecap="round" stroke-linejoin="round"/>
<polyline points="282.9,68.9 274.0,72.1" fill="none" stroke="#fff9d8" stroke-width="1.86" stroke-linecap="round" stroke-linejoin="round"/>
<polyline points="282.9,75.4 251.2,98.1" fill="none" stroke="#fff9d8" stroke-width="1.04" stroke-linecap="round" stroke-linejoin="round"/>
<polyline points="225.2,107.9 230.9,108.7" fill="none" stroke="#fdf4a0" stroke-width="4.35" stroke-linecap="round" stroke-linejoin="round"/><polyline points="225.2,107.9 230.9,108.7" fill="none" stroke="#ffe53a" stroke-width="2.17" stroke-linecap="round" stroke-linejoin="round"/>
<polyline points="225.2,116.8 230.1,124.5" fill="none" stroke="#fdf4a0" stroke-width="2.32" stroke-linecap="round" stroke-linejoin="round"/><polyline points="225.2,116.8 230.1,124.5" fill="none" stroke="#ffe53a" stroke-width="1.16" stroke-linecap="round" stroke-linejoin="round"/>
<polyline points="286.2,120.1 289.4,123.3" fill="none" stroke="#fff9d8" stroke-width="0.93" stroke-linecap="round" stroke-linejoin="round"/>
<polyline points="233.3,112.0 234.6,113.6" fill="none" stroke="#fff9d8" stroke-width="1.74" stroke-linecap="round" stroke-linejoin="round"/>
</g>
<polyline points="28.7,109.6 30.3,109.4 32.5,109.0 35.0,108.7 37.9,108.2 40.9,107.8 44.0,107.4 47.1,106.9 50.0,106.5 52.8,106.1 55.7,105.7 58.6,105.3 61.6,104.9 64.6,104.5 67.6,104.1 70.7,103.7 73.8,103.3 77.0,102.9 80.2,102.6 83.5,102.2 86.8,101.8 90.2,101.5 93.5,101.2 96.8,100.9 100.0,100.6 103.2,100.3 106.5,100.1 109.7,99.9 112.9,99.7 116.1,99.5 119.2,99.3 122.2,99.1 125.0,99.0 127.7,98.9 130.1,98.7 132.5,98.6 134.7,98.5 137.0,98.4 139.3,98.4 141.8,98.4 144.4,98.4 147.2,98.5 150.1,98.5 153.1,98.7 156.2,98.8 159.3,99.0 162.5,99.2 165.6,99.4 168.8,99.6 172.0,99.8 175.3,100.1 178.5,100.4 181.9,100.7 185.2,101.0 188.5,101.3 191.8,101.7 195.0,102.0 198.1,102.4 201.2,102.7 204.2,103.1 207.3,103.5 210.3,103.9 213.4,104.3 216.6,104.8 220.0,105.2 223.5,105.6 227.1,106.1 230.9,106.6 234.7,107.1 238.5,107.6 242.4,108.1 246.2,108.5 250.0,109.0 253.7,109.5 257.2,109.9 260.8,110.3 264.3,110.8 268.0,111.2 271.7,111.6 275.7,112.1 280.0,112.5 284.9,113.0 290.4,113.5 296.3,114.0 302.2,114.5 307.9,115.0 313.1,115.5 317.5,115.8 320.7,116.1" fill="none" stroke="#0d1a12" stroke-width="0.90" stroke-linejoin="round"/>
</g></g>
<path d="M380.40 8.83V125.43H673.20V8.83M380.40 8.83h-2.50M673.20 8.83h2.50M380.40 23.40h-5.50M673.20 23.40h5.50M380.40 37.98h-2.50M673.20 37.98h2.50M380.40 52.55h-2.50M673.20 52.55h2.50M380.40 67.12h-5.50M673.20 67.12h5.50M380.40 81.70h-2.50M673.20 81.70h2.50M380.40 96.28h-2.50M673.20 96.28h2.50M380.40 110.85h-5.50M673.20 110.85h5.50M380.40 125.43h-2.50M673.20 125.43h2.50M380.40 125.43v5.30M395.04 125.43v2.60M409.68 125.43v2.60M424.32 125.43v2.60M438.96 125.43v2.60M453.60 125.43v5.30M468.24 125.43v2.60M482.88 125.43v2.60M497.52 125.43v2.60M512.16 125.43v2.60M526.80 125.43v5.30M541.44 125.43v2.60M556.08 125.43v2.60M570.72 125.43v2.60M585.36 125.43v2.60M600.00 125.43v5.30M614.64 125.43v2.60M629.28 125.43v2.60M643.92 125.43v2.60M658.56 125.43v2.60M673.20 125.43v5.30" fill="none" stroke="#111" stroke-width="1.05"/>
<text x="371.2" y="26.8" text-anchor="end" class="t">0</text>
<text x="371.2" y="70.5" text-anchor="end" class="t">15</text>
<text x="371.2" y="114.3" text-anchor="end" class="t">30</text>
<text x="373.4" y="129.3" text-anchor="end" class="t">(km)</text>
<text x="379.8" y="141.6" text-anchor="middle" class="t">200</text>
<text x="453.0" y="141.6" text-anchor="middle" class="t">225</text>
<text x="526.2" y="141.6" text-anchor="middle" class="t">250</text>
<text x="599.4" y="141.6" text-anchor="middle" class="t">275</text>
<text x="672.6" y="141.6" text-anchor="middle" class="t">300</text>
<text x="352.6" y="7.9" style="font-weight:bold;font-size:13.6px">e</text>
<text x="385.6" y="13.8">60 Myr</text>
<clipPath id="c01"><rect x="28.6" y="169.1" width="292.0" height="116.6"/></clipPath>
<g clip-path="url(#c01)">
<g transform="translate(0.00,160.85)">
<clipPath id="tb"><polygon points="25.7,29.5 29.3,29.5 35.0,28.9 41.5,32.4 49.6,34.9 52.8,32.8 57.7,34.9 64.2,33.7 70.7,32.1 77.2,34.9 90.2,34.9 101.6,35.7 113.0,36.5 119.5,38.1 125.1,38.6 128.3,38.9 134.8,36.5 141.3,40.6 149.5,38.1 156.0,39.8 162.5,38.1 169.0,34.9 175.5,36.5 182.0,34.9 188.5,38.1 195.0,35.7 201.5,32.4 208.0,33.2 214.5,31.6 225.2,30.8 231.7,30.0 239.8,24.3 249.6,25.1 259.3,27.2 269.1,24.6 278.9,25.1 288.6,21.4 298.4,21.9 309.8,18.6 316.3,20.7 321.1,21.1 323.7,21.1 323.7,127.3 25.7,127.3"/></clipPath>
<g clip-path="url(#tb)">
<rect x="26.7" y="5.7" width="296.0" height="120.6" fill="#74c386"/>

<polygon points="25.7,2.7 25.7,86.1 29.3,86.1 44.7,88.5 54.5,84.5 65.9,80.4 77.2,78.8 87.0,79.6 93.5,82.8 100.0,73.1 106.5,69.8 113.0,74.7 117.9,79.6 120.2,78.8 126.7,65.0 136.5,61.7 144.6,62.5 160.9,62.5 173.9,63.3 185.2,64.1 190.1,69.8 198.2,70.6 206.4,70.6 212.9,72.3 225.2,73.9 236.6,75.5 241.5,79.6 248.0,91.0 257.7,95.9 270.7,99.9 278.9,99.1 288.6,96.7 295.1,97.8 301.6,95.9 313.0,98.3 321.1,100.7 323.7,100.7 323.7,2.7" fill="#c58473"/>
<polygon points="25.7,2.7 25.7,60.9 29.3,60.9 41.5,63.3 54.5,61.7 65.9,64.1 74.0,63.3 87.0,63.3 90.2,61.7 98.4,66.6 106.5,63.3 113.0,55.2 122.8,53.2 125.1,53.2 130.0,53.6 136.5,55.2 147.8,53.6 160.9,54.4 164.1,56.8 170.6,56.0 173.9,58.5 182.0,56.8 190.1,59.3 196.6,56.8 203.1,55.2 211.3,52.8 225.2,49.5 231.7,54.4 241.5,58.1 254.5,55.2 265.9,57.2 282.1,59.3 295.1,61.7 306.5,64.1 313.0,68.2 321.1,68.2 323.7,68.2 323.7,2.7" fill="#e3b28f"/>
<polygon points="25.7,2.7 25.7,49.5 29.3,49.5 38.2,47.9 49.6,46.3 57.7,47.1 65.9,51.1 75.6,43.8 80.5,48.7 87.0,51.1 93.5,47.1 103.2,44.6 109.8,42.2 116.3,44.6 122.8,39.3 125.1,39.3 130.0,43.0 138.1,49.5 144.6,48.7 152.7,45.4 159.2,47.1 164.1,49.5 170.6,49.5 175.5,47.1 185.2,47.9 191.7,51.9 198.2,51.1 204.8,47.1 212.9,45.4 225.2,44.6 231.7,49.0 241.5,45.4 252.8,40.6 265.9,36.2 278.9,36.5 290.2,33.7 296.7,38.9 303.2,44.6 313.0,43.0 321.1,44.6 323.7,44.6 323.7,2.7" fill="#b1977a"/>
<polyline points="29.1,31.4 36.4,37.9 42.9,41.2 57.5,50.1 73.8,58.2 86.8,63.9 101.4,68.8 109.6,73.7 116.1,80.2" fill="none" stroke="#b0e0f1" stroke-width="2.70" stroke-linecap="round" stroke-linejoin="round"/><polyline points="29.1,31.4 36.4,37.9 42.9,41.2 57.5,50.1 73.8,58.2 86.8,63.9 101.4,68.8 109.6,73.7 116.1,80.2" fill="none" stroke="#93cbec" stroke-width="1.35" stroke-linecap="round" stroke-linejoin="round"/><polyline points="86.8,63.9 101.4,68.8 109.6,73.7 116.1,80.2" fill="none" stroke="#86c0ea" stroke-width="1.84" stroke-linecap="round" stroke-linejoin="round"/><polyline points="86.8,63.9 101.4,68.8 109.6,73.7 116.1,80.2" fill="none" stroke="#609fe3" stroke-width="1.22" stroke-linecap="round" stroke-linejoin="round"/><polyline points="86.8,63.9 101.4,68.8 109.6,73.7 116.1,80.2" fill="none" stroke="#2f6ad0" stroke-width="0.61" stroke-linecap="round" stroke-linejoin="round"/>
<polyline points="39.6,32.2 46.1,39.5 57.5,47.7 67.3,54.2 78.7,62.3" fill="none" stroke="#b0e0f1" stroke-width="2.16" stroke-linecap="round" stroke-linejoin="round"/><polyline points="39.6,32.2 46.1,39.5 57.5,47.7 67.3,54.2 78.7,62.3" fill="none" stroke="#93cbec" stroke-width="1.08" stroke-linecap="round" stroke-linejoin="round"/>
<polyline points="29.1,49.3 38.0,47.7 46.1,43.6 42.9,41.2" fill="none" stroke="#b0e0f1" stroke-width="2.16" stroke-linecap="round" stroke-linejoin="round"/><polyline points="29.1,49.3 38.0,47.7 46.1,43.6 42.9,41.2" fill="none" stroke="#93cbec" stroke-width="1.08" stroke-linecap="round" stroke-linejoin="round"/>
<polyline points="29.1,36.3 34.8,34.7 38.0,30.6" fill="none" stroke="#b0e0f1" stroke-width="2.03" stroke-linecap="round" stroke-linejoin="round"/><polyline points="29.1,36.3 34.8,34.7 38.0,30.6" fill="none" stroke="#93cbec" stroke-width="1.01" stroke-linecap="round" stroke-linejoin="round"/>
<polyline points="64.0,32.2 57.5,39.5 55.9,44.4 67.3,50.1" fill="none" stroke="#b0e0f1" stroke-width="2.16" stroke-linecap="round" stroke-linejoin="round"/><polyline points="64.0,32.2 57.5,39.5 55.9,44.4 67.3,50.1" fill="none" stroke="#93cbec" stroke-width="1.08" stroke-linecap="round" stroke-linejoin="round"/>
<polyline points="49.4,33.0 65.7,32.2 78.7,35.5 90.0,41.2 103.0,42.0 116.1,44.4 125.0,43.6" fill="none" stroke="#b0e0f1" stroke-width="3.24" stroke-linecap="round" stroke-linejoin="round"/><polyline points="49.4,33.0 65.7,32.2 78.7,35.5 90.0,41.2 103.0,42.0 116.1,44.4 125.0,43.6" fill="none" stroke="#93cbec" stroke-width="1.62" stroke-linecap="round" stroke-linejoin="round"/><polyline points="78.7,35.5 90.0,41.2 103.0,42.0 116.1,44.4 125.0,43.6" fill="none" stroke="#86c0ea" stroke-width="2.10" stroke-linecap="round" stroke-linejoin="round"/><polyline points="78.7,35.5 90.0,41.2 103.0,42.0 116.1,44.4 125.0,43.6" fill="none" stroke="#609fe3" stroke-width="1.40" stroke-linecap="round" stroke-linejoin="round"/><polyline points="78.7,35.5 90.0,41.2 103.0,42.0 116.1,44.4 125.0,43.6" fill="none" stroke="#2f6ad0" stroke-width="0.70" stroke-linecap="round" stroke-linejoin="round"/>
<polyline points="78.7,35.5 85.2,43.6 90.0,47.7 78.7,50.1 65.7,47.7" fill="none" stroke="#b0e0f1" stroke-width="2.03" stroke-linecap="round" stroke-linejoin="round"/><polyline points="78.7,35.5 85.2,43.6 90.0,47.7 78.7,50.1 65.7,47.7" fill="none" stroke="#93cbec" stroke-width="1.01" stroke-linecap="round" stroke-linejoin="round"/>
<polyline points="90.0,35.5 101.4,37.9 112.8,42.0" fill="none" stroke="#b0e0f1" stroke-width="2.16" stroke-linecap="round" stroke-linejoin="round"/><polyline points="90.0,35.5 101.4,37.9 112.8,42.0" fill="none" stroke="#93cbec" stroke-width="1.08" stroke-linecap="round" stroke-linejoin="round"/>
<polyline points="116.1,44.4 109.6,55.8 103.0,65.6 99.0,63.9" fill="none" stroke="#b0e0f1" stroke-width="2.43" stroke-linecap="round" stroke-linejoin="round"/><polyline points="116.1,44.4 109.6,55.8 103.0,65.6 99.0,63.9" fill="none" stroke="#93cbec" stroke-width="1.22" stroke-linecap="round" stroke-linejoin="round"/>
<polyline points="55.9,53.4 73.8,55.0 93.3,50.1 103.0,52.5" fill="none" stroke="#b0e0f1" stroke-width="1.89" stroke-linecap="round" stroke-linejoin="round"/>
<polyline points="29.1,58.2 41.3,65.6 52.6,71.2 65.7,75.3 73.8,78.6 86.8,79.4 96.5,81.0 106.3,76.9" fill="none" stroke="#c3e8f4" stroke-width="5.09" stroke-linecap="round" stroke-linejoin="round"/><polyline points="29.1,58.2 41.3,65.6 52.6,71.2 65.7,75.3 73.8,78.6 86.8,79.4 96.5,81.0 106.3,76.9" fill="none" stroke="#b0e0f1" stroke-width="3.51" stroke-linecap="round" stroke-linejoin="round"/><polyline points="29.1,58.2 41.3,65.6 52.6,71.2 65.7,75.3 73.8,78.6 86.8,79.4 96.5,81.0 106.3,76.9" fill="none" stroke="#93cbec" stroke-width="1.76" stroke-linecap="round" stroke-linejoin="round"/><polyline points="29.1,58.2 41.3,65.6 52.6,71.2 65.7,75.3 73.8,78.6 86.8,79.4" fill="none" stroke="#86c0ea" stroke-width="2.62" stroke-linecap="round" stroke-linejoin="round"/><polyline points="29.1,58.2 41.3,65.6 52.6,71.2 65.7,75.3 73.8,78.6 86.8,79.4" fill="none" stroke="#609fe3" stroke-width="1.75" stroke-linecap="round" stroke-linejoin="round"/><polyline points="29.1,58.2 41.3,65.6 52.6,71.2 65.7,75.3 73.8,78.6 86.8,79.4" fill="none" stroke="#2f6ad0" stroke-width="0.88" stroke-linecap="round" stroke-linejoin="round"/>
<polyline points="34.8,53.4 49.4,55.8 64.0,63.1 78.7,63.9" fill="none" stroke="#b0e0f1" stroke-width="1.76" stroke-linecap="round" stroke-linejoin="round"/>
<polyline points="29.1,88.3 38.0,91.6 46.1,93.2 57.5,86.7 65.7,81.8" fill="none" stroke="#b0e0f1" stroke-width="3.51" stroke-linecap="round" stroke-linejoin="round"/><polyline points="29.1,88.3 38.0,91.6 46.1,93.2 57.5,86.7 65.7,81.8" fill="none" stroke="#93cbec" stroke-width="1.76" stroke-linecap="round" stroke-linejoin="round"/>
<polyline points="81.9,65.6 77.0,76.9 70.5,85.1 68.9,93.2 62.4,96.5" fill="none" stroke="#b0e0f1" stroke-width="2.97" stroke-linecap="round" stroke-linejoin="round"/><polyline points="81.9,65.6 77.0,76.9 70.5,85.1 68.9,93.2 62.4,96.5" fill="none" stroke="#93cbec" stroke-width="1.49" stroke-linecap="round" stroke-linejoin="round"/><polyline points="81.9,65.6 77.0,76.9 70.5,85.1 68.9,93.2" fill="none" stroke="#86c0ea" stroke-width="1.84" stroke-linecap="round" stroke-linejoin="round"/><polyline points="81.9,65.6 77.0,76.9 70.5,85.1 68.9,93.2" fill="none" stroke="#609fe3" stroke-width="1.22" stroke-linecap="round" stroke-linejoin="round"/><polyline points="81.9,65.6 77.0,76.9 70.5,85.1 68.9,93.2" fill="none" stroke="#2f6ad0" stroke-width="0.61" stroke-linecap="round" stroke-linejoin="round"/>
<polyline points="54.3,86.7 68.9,94.0" fill="none" stroke="#b0e0f1" stroke-width="2.97" stroke-linecap="round" stroke-linejoin="round"/><polyline points="54.3,86.7 68.9,94.0" fill="none" stroke="#93cbec" stroke-width="1.49" stroke-linecap="round" stroke-linejoin="round"/>
<polygon points="57.5,91.6 70.5,91.6 68.9,98.1 61.6,97.3" fill="#b0e0f1"/>
<polygon points="101.4,83.4 116.9,81.0 113.6,88.3 106.3,89.1" fill="#b0e0f1"/>
<polygon points="133.2,59.4 136.4,57.8 141.2,55.6 146.3,53.8 152.0,52.9 158.1,52.3 163.7,52.5 168.4,53.9 172.5,55.9 176.9,57.9 182.7,59.5 188.6,61.1 192.2,62.6 192.1,64.5 189.5,66.5 185.7,67.7 180.6,67.6 174.2,66.7 168.1,65.9 162.8,65.3 157.7,64.7 152.8,64.4 148.2,64.4 143.8,64.7 139.7,65.6 135.5,67.3 131.5,69.6 128.8,71.2" fill="#93cbec"/>
<polyline points="120.0,43.6 128.1,50.9 136.3,59.9" fill="none" stroke="#b0e0f1" stroke-width="3.24" stroke-linecap="round" stroke-linejoin="round"/><polyline points="120.0,43.6 128.1,50.9 136.3,59.9" fill="none" stroke="#93cbec" stroke-width="1.62" stroke-linecap="round" stroke-linejoin="round"/><polyline points="120.0,43.6 128.1,50.9 136.3,59.9" fill="none" stroke="#86c0ea" stroke-width="1.84" stroke-linecap="round" stroke-linejoin="round"/><polyline points="120.0,43.6 128.1,50.9 136.3,59.9" fill="none" stroke="#609fe3" stroke-width="1.22" stroke-linecap="round" stroke-linejoin="round"/><polyline points="120.0,43.6 128.1,50.9 136.3,59.9" fill="none" stroke="#2f6ad0" stroke-width="0.61" stroke-linecap="round" stroke-linejoin="round"/>
<polyline points="129.8,37.9 126.5,42.8 131.4,50.1 141.1,54.2 152.5,50.1" fill="none" stroke="#b0e0f1" stroke-width="2.43" stroke-linecap="round" stroke-linejoin="round"/><polyline points="129.8,37.9 126.5,42.8 131.4,50.1 141.1,54.2 152.5,50.1" fill="none" stroke="#93cbec" stroke-width="1.22" stroke-linecap="round" stroke-linejoin="round"/>
<polyline points="142.8,39.5 141.1,47.7 147.6,50.1 157.4,41.2" fill="none" stroke="#b0e0f1" stroke-width="2.16" stroke-linecap="round" stroke-linejoin="round"/><polyline points="142.8,39.5 141.1,47.7 147.6,50.1 157.4,41.2" fill="none" stroke="#93cbec" stroke-width="1.08" stroke-linecap="round" stroke-linejoin="round"/>
<polyline points="173.7,37.9 175.3,47.7 180.2,50.1" fill="none" stroke="#b0e0f1" stroke-width="2.03" stroke-linecap="round" stroke-linejoin="round"/><polyline points="173.7,37.9 175.3,47.7 180.2,50.1" fill="none" stroke="#93cbec" stroke-width="1.01" stroke-linecap="round" stroke-linejoin="round"/>
<polyline points="159.0,47.7 175.3,48.5 189.9,39.5 198.0,34.7" fill="none" stroke="#b0e0f1" stroke-width="2.16" stroke-linecap="round" stroke-linejoin="round"/><polyline points="159.0,47.7 175.3,48.5 189.9,39.5 198.0,34.7" fill="none" stroke="#93cbec" stroke-width="1.08" stroke-linecap="round" stroke-linejoin="round"/>
<polyline points="176.9,55.8 189.9,50.1 201.3,42.8" fill="none" stroke="#b0e0f1" stroke-width="2.16" stroke-linecap="round" stroke-linejoin="round"/><polyline points="176.9,55.8 189.9,50.1 201.3,42.8" fill="none" stroke="#93cbec" stroke-width="1.08" stroke-linecap="round" stroke-linejoin="round"/>
<polyline points="212.7,33.0 201.3,42.8 191.5,52.5 181.8,58.2 168.8,52.9 152.5,53.4 141.1,58.2" fill="none" stroke="#b0e0f1" stroke-width="3.24" stroke-linecap="round" stroke-linejoin="round"/><polyline points="212.7,33.0 201.3,42.8 191.5,52.5 181.8,58.2 168.8,52.9 152.5,53.4 141.1,58.2" fill="none" stroke="#93cbec" stroke-width="1.62" stroke-linecap="round" stroke-linejoin="round"/><polyline points="212.7,33.0 201.3,42.8 191.5,52.5 181.8,58.2 168.8,52.9 152.5,53.4 141.1,58.2" fill="none" stroke="#86c0ea" stroke-width="2.10" stroke-linecap="round" stroke-linejoin="round"/><polyline points="212.7,33.0 201.3,42.8 191.5,52.5 181.8,58.2 168.8,52.9 152.5,53.4 141.1,58.2" fill="none" stroke="#609fe3" stroke-width="1.40" stroke-linecap="round" stroke-linejoin="round"/><polyline points="212.7,33.0 201.3,42.8 191.5,52.5 181.8,58.2 168.8,52.9 152.5,53.4 141.1,58.2" fill="none" stroke="#2f6ad0" stroke-width="0.70" stroke-linecap="round" stroke-linejoin="round"/>
<polyline points="220.0,50.1 204.6,57.4 189.9,65.6 181.8,63.9 168.8,62.3 152.5,63.9 136.3,63.9" fill="none" stroke="#b0e0f1" stroke-width="2.97" stroke-linecap="round" stroke-linejoin="round"/><polyline points="220.0,50.1 204.6,57.4 189.9,65.6 181.8,63.9 168.8,62.3 152.5,63.9 136.3,63.9" fill="none" stroke="#93cbec" stroke-width="1.49" stroke-linecap="round" stroke-linejoin="round"/><polyline points="220.0,50.1 204.6,57.4 189.9,65.6 181.8,63.9 168.8,62.3 152.5,63.9 136.3,63.9" fill="none" stroke="#86c0ea" stroke-width="1.84" stroke-linecap="round" stroke-linejoin="round"/><polyline points="220.0,50.1 204.6,57.4 189.9,65.6 181.8,63.9 168.8,62.3 152.5,63.9 136.3,63.9" fill="none" stroke="#609fe3" stroke-width="1.22" stroke-linecap="round" stroke-linejoin="round"/><polyline points="220.0,50.1 204.6,57.4 189.9,65.6 181.8,63.9 168.8,62.3 152.5,63.9 136.3,63.9" fill="none" stroke="#2f6ad0" stroke-width="0.61" stroke-linecap="round" stroke-linejoin="round"/>
<polyline points="188.3,65.6 173.7,72.1 157.4,78.6 142.8,84.3" fill="none" stroke="#b0e0f1" stroke-width="3.24" stroke-linecap="round" stroke-linejoin="round"/><polyline points="188.3,65.6 173.7,72.1 157.4,78.6 142.8,84.3" fill="none" stroke="#93cbec" stroke-width="1.62" stroke-linecap="round" stroke-linejoin="round"/><polyline points="188.3,65.6 173.7,72.1 157.4,78.6" fill="none" stroke="#86c0ea" stroke-width="1.84" stroke-linecap="round" stroke-linejoin="round"/><polyline points="188.3,65.6 173.7,72.1 157.4,78.6" fill="none" stroke="#609fe3" stroke-width="1.22" stroke-linecap="round" stroke-linejoin="round"/><polyline points="188.3,65.6 173.7,72.1 157.4,78.6" fill="none" stroke="#2f6ad0" stroke-width="0.61" stroke-linecap="round" stroke-linejoin="round"/>
<polygon points="140.3,83.1 149.3,80.2 150.1,84.3 142.8,85.9" fill="#b0e0f1"/>
<polyline points="186.7,65.6 191.5,78.6 198.0,91.6 205.4,103.0" fill="none" stroke="#b0e0f1" stroke-width="2.70" stroke-linecap="round" stroke-linejoin="round"/><polyline points="186.7,65.6 191.5,78.6 198.0,91.6 205.4,103.0" fill="none" stroke="#93cbec" stroke-width="1.35" stroke-linecap="round" stroke-linejoin="round"/><polyline points="186.7,65.6 191.5,78.6 198.0,91.6" fill="none" stroke="#86c0ea" stroke-width="1.84" stroke-linecap="round" stroke-linejoin="round"/><polyline points="186.7,65.6 191.5,78.6 198.0,91.6" fill="none" stroke="#609fe3" stroke-width="1.22" stroke-linecap="round" stroke-linejoin="round"/><polyline points="186.7,65.6 191.5,78.6 198.0,91.6" fill="none" stroke="#2f6ad0" stroke-width="0.61" stroke-linecap="round" stroke-linejoin="round"/>
<polyline points="208.6,77.8 209.4,79.4" fill="none" stroke="#b0e0f1" stroke-width="1.08" stroke-linecap="round" stroke-linejoin="round"/>
<polyline points="172.0,35.5 160.7,42.0 152.5,50.1 141.1,58.2 131.4,65.6 120.0,77.8 116.1,80.2 111.2,86.7" fill="none" stroke="#c3e8f4" stroke-width="5.87" stroke-linecap="round" stroke-linejoin="round"/><polyline points="172.0,35.5 160.7,42.0 152.5,50.1 141.1,58.2 131.4,65.6 120.0,77.8 116.1,80.2 111.2,86.7" fill="none" stroke="#b0e0f1" stroke-width="4.05" stroke-linecap="round" stroke-linejoin="round"/><polyline points="172.0,35.5 160.7,42.0 152.5,50.1 141.1,58.2 131.4,65.6 120.0,77.8 116.1,80.2 111.2,86.7" fill="none" stroke="#93cbec" stroke-width="2.03" stroke-linecap="round" stroke-linejoin="round"/><polyline points="172.0,35.5 160.7,42.0 152.5,50.1 141.1,58.2 131.4,65.6 120.0,77.8 116.1,80.2 111.2,86.7" fill="none" stroke="#86c0ea" stroke-width="3.15" stroke-linecap="round" stroke-linejoin="round"/><polyline points="172.0,35.5 160.7,42.0 152.5,50.1 141.1,58.2 131.4,65.6 120.0,77.8 116.1,80.2 111.2,86.7" fill="none" stroke="#609fe3" stroke-width="2.10" stroke-linecap="round" stroke-linejoin="round"/><polyline points="172.0,35.5 160.7,42.0 152.5,50.1 141.1,58.2 131.4,65.6 120.0,77.8 116.1,80.2 111.2,86.7" fill="none" stroke="#2f6ad0" stroke-width="1.05" stroke-linecap="round" stroke-linejoin="round"/>
<polyline points="198.0,32.2 204.6,39.5 211.1,34.7" fill="none" stroke="#b0e0f1" stroke-width="2.03" stroke-linecap="round" stroke-linejoin="round"/><polyline points="198.0,32.2 204.6,39.5 211.1,34.7" fill="none" stroke="#93cbec" stroke-width="1.01" stroke-linecap="round" stroke-linejoin="round"/>
<polyline points="225.0,34.7 231.5,29.8 239.6,24.9 246.1,31.4 251.0,37.1" fill="none" stroke="#b0e0f1" stroke-width="2.16" stroke-linecap="round" stroke-linejoin="round"/><polyline points="225.0,34.7 231.5,29.8 239.6,24.9 246.1,31.4 251.0,37.1" fill="none" stroke="#93cbec" stroke-width="1.08" stroke-linecap="round" stroke-linejoin="round"/>
<polyline points="258.3,35.5 264.0,27.3 268.9,24.9" fill="none" stroke="#b0e0f1" stroke-width="2.03" stroke-linecap="round" stroke-linejoin="round"/><polyline points="258.3,35.5 264.0,27.3 268.9,24.9" fill="none" stroke="#93cbec" stroke-width="1.01" stroke-linecap="round" stroke-linejoin="round"/>
<polyline points="260.0,46.9 273.8,39.5 286.8,33.0 296.5,31.4" fill="none" stroke="#b0e0f1" stroke-width="2.16" stroke-linecap="round" stroke-linejoin="round"/><polyline points="260.0,46.9 273.8,39.5 286.8,33.0 296.5,31.4" fill="none" stroke="#93cbec" stroke-width="1.08" stroke-linecap="round" stroke-linejoin="round"/>
<polyline points="320.1,22.5 309.6,27.3 296.5,31.4 294.9,36.3 299.8,42.8 304.7,47.7 320.1,37.9" fill="none" stroke="#b0e0f1" stroke-width="2.29" stroke-linecap="round" stroke-linejoin="round"/><polyline points="320.1,22.5 309.6,27.3 296.5,31.4 294.9,36.3 299.8,42.8 304.7,47.7 320.1,37.9" fill="none" stroke="#93cbec" stroke-width="1.15" stroke-linecap="round" stroke-linejoin="round"/>
<polyline points="225.0,50.1 241.3,44.4 257.5,36.3 273.8,27.3 290.0,21.7 296.5,21.7" fill="none" stroke="#c3e8f4" stroke-width="5.48" stroke-linecap="round" stroke-linejoin="round"/><polyline points="225.0,50.1 241.3,44.4 257.5,36.3 273.8,27.3 290.0,21.7 296.5,21.7" fill="none" stroke="#b0e0f1" stroke-width="3.78" stroke-linecap="round" stroke-linejoin="round"/><polyline points="225.0,50.1 241.3,44.4 257.5,36.3 273.8,27.3 290.0,21.7 296.5,21.7" fill="none" stroke="#93cbec" stroke-width="1.89" stroke-linecap="round" stroke-linejoin="round"/><polyline points="225.0,50.1 241.3,44.4 257.5,36.3 273.8,27.3 290.0,21.7" fill="none" stroke="#86c0ea" stroke-width="2.62" stroke-linecap="round" stroke-linejoin="round"/><polyline points="225.0,50.1 241.3,44.4 257.5,36.3 273.8,27.3 290.0,21.7" fill="none" stroke="#609fe3" stroke-width="1.75" stroke-linecap="round" stroke-linejoin="round"/><polyline points="225.0,50.1 241.3,44.4 257.5,36.3 273.8,27.3 290.0,21.7" fill="none" stroke="#2f6ad0" stroke-width="0.88" stroke-linecap="round" stroke-linejoin="round"/>
<polyline points="225.0,53.4 231.5,62.3 238.0,73.7 244.5,88.3 249.4,99.7 254.3,103.8" fill="none" stroke="#b0e0f1" stroke-width="3.24" stroke-linecap="round" stroke-linejoin="round"/><polyline points="225.0,53.4 231.5,62.3 238.0,73.7 244.5,88.3 249.4,99.7 254.3,103.8" fill="none" stroke="#93cbec" stroke-width="1.62" stroke-linecap="round" stroke-linejoin="round"/><polyline points="225.0,53.4 231.5,62.3 238.0,73.7 244.5,88.3 249.4,99.7" fill="none" stroke="#86c0ea" stroke-width="2.10" stroke-linecap="round" stroke-linejoin="round"/><polyline points="225.0,53.4 231.5,62.3 238.0,73.7 244.5,88.3 249.4,99.7" fill="none" stroke="#609fe3" stroke-width="1.40" stroke-linecap="round" stroke-linejoin="round"/><polyline points="225.0,53.4 231.5,62.3 238.0,73.7 244.5,88.3 249.4,99.7" fill="none" stroke="#2f6ad0" stroke-width="0.70" stroke-linecap="round" stroke-linejoin="round"/>
<polyline points="241.3,103.8 254.3,103.8" fill="none" stroke="#b0e0f1" stroke-width="2.70" stroke-linecap="round" stroke-linejoin="round"/><polyline points="241.3,103.8 254.3,103.8" fill="none" stroke="#93cbec" stroke-width="1.35" stroke-linecap="round" stroke-linejoin="round"/>
<polyline points="231.5,62.3 241.3,59.1 251.0,55.8" fill="none" stroke="#b0e0f1" stroke-width="1.89" stroke-linecap="round" stroke-linejoin="round"/>
<polyline points="239.6,68.0 253.5,63.1" fill="none" stroke="#b0e0f1" stroke-width="1.76" stroke-linecap="round" stroke-linejoin="round"/>
<polyline points="320.1,68.8 311.2,71.2 298.2,80.2 284.3,90.8" fill="none" stroke="#b0e0f1" stroke-width="2.29" stroke-linecap="round" stroke-linejoin="round"/><polyline points="320.1,68.8 311.2,71.2 298.2,80.2 284.3,90.8" fill="none" stroke="#93cbec" stroke-width="1.15" stroke-linecap="round" stroke-linejoin="round"/>
<polyline points="320.1,76.9 309.6,83.4 297.4,90.3" fill="none" stroke="#b0e0f1" stroke-width="2.16" stroke-linecap="round" stroke-linejoin="round"/><polyline points="320.1,76.9 309.6,83.4 297.4,90.3" fill="none" stroke="#93cbec" stroke-width="1.08" stroke-linecap="round" stroke-linejoin="round"/>
<polyline points="254.3,95.6 262.4,103.8 273.8,105.4 285.2,97.3 290.0,98.1 296.5,107.8 308.7,123.3" fill="none" stroke="#b0e0f1" stroke-width="2.29" stroke-linecap="round" stroke-linejoin="round"/><polyline points="254.3,95.6 262.4,103.8 273.8,105.4 285.2,97.3 290.0,98.1 296.5,107.8 308.7,123.3" fill="none" stroke="#93cbec" stroke-width="1.15" stroke-linecap="round" stroke-linejoin="round"/>
<polyline points="257.5,103.8 263.2,109.5" fill="none" stroke="#b0e0f1" stroke-width="1.35" stroke-linecap="round" stroke-linejoin="round"/>
<polyline points="273.8,106.2 281.9,117.6" fill="none" stroke="#b0e0f1" stroke-width="1.49" stroke-linecap="round" stroke-linejoin="round"/>
<polyline points="312.8,98.9 320.1,106.2" fill="none" stroke="#b0e0f1" stroke-width="1.35" stroke-linecap="round" stroke-linejoin="round"/>
<polyline points="29.3,30.4 35.0,29.8 41.5,33.3 49.6,35.8 52.8,33.7 57.7,35.8 64.2,34.6 70.7,33.0 77.2,35.8 90.2,35.8 101.6,36.6 113.0,37.4 119.5,39.0 125.1,39.5 128.3,39.8 134.8,37.4 141.3,41.5 149.5,39.0 156.0,40.7 162.5,39.0 169.0,35.8 175.5,37.4 182.0,35.8 188.5,39.0 195.0,36.6 201.5,33.3 208.0,34.1 214.5,32.5" fill="none" stroke="#b0e0f1" stroke-width="1.70" stroke-linecap="round" stroke-linejoin="round"/>
</g>
<polyline points="29.3,101.2 30.8,100.8 32.8,100.3 35.2,99.6 37.9,98.9 40.8,98.2 43.7,97.4 46.7,96.6 49.6,95.9 52.4,95.1 55.4,94.4 58.4,93.6 61.5,92.8 64.7,92.0 67.8,91.2 70.9,90.4 74.0,89.7 77.1,88.9 80.2,88.1 83.4,87.3 86.6,86.5 89.7,85.7 92.7,84.9 95.6,84.3 98.4,83.7 100.9,83.1 103.4,82.7 105.7,82.3 108.0,82.0 110.1,81.7 112.2,81.4 114.3,81.1 116.3,80.9 118.1,80.6 119.8,80.4 121.3,80.2 122.8,80.0 124.3,79.9 126.0,79.7 127.8,79.6 130.0,79.6 132.4,79.6 135.0,79.6 137.8,79.6 140.7,79.7 143.7,79.8 146.7,79.9 149.7,80.1 152.7,80.4 155.7,80.8 158.8,81.2 162.0,81.7 165.1,82.2 168.3,82.7 171.3,83.3 174.3,83.9 177.1,84.5 179.7,85.0 182.1,85.6 184.4,86.1 186.6,86.7 188.9,87.3 191.2,88.0 193.8,88.6 196.6,89.3 199.7,90.1 203.0,90.9 206.5,91.8 210.1,92.7 213.8,93.6 217.6,94.5 221.4,95.4 225.2,96.3 229.1,97.3 233.1,98.2 237.1,99.2 241.2,100.2 245.4,101.2 249.5,102.2 253.6,103.1 257.7,104.0 261.8,104.8 265.9,105.6 270.0,106.4 274.1,107.1 278.2,107.8 282.2,108.4 286.3,109.1 290.2,109.7 294.4,110.2 298.8,110.8 303.3,111.3 307.7,111.8 311.9,112.3 315.6,112.7 318.8,113.0 321.1,113.2" fill="none" stroke="#0d1a12" stroke-width="0.90" stroke-linejoin="round"/><polyline points="86.2,124.6 87.1,124.2 88.3,123.5 89.7,122.8 91.4,122.0 93.1,121.1 94.9,120.2 96.6,119.4 98.4,118.6 100.1,117.9 102.0,117.1 104.0,116.3 106.0,115.5 108.0,114.7 109.8,114.0 111.5,113.4 113.0,112.9 114.2,112.6 115.1,112.3 115.8,112.2 116.5,112.1 117.2,112.0 117.9,112.0 118.9,111.9 120.2,111.8 121.8,111.6 123.6,111.4 125.6,111.2 127.8,111.0 130.0,110.8 132.2,110.6 134.4,110.5 136.5,110.5 138.5,110.5 140.5,110.6 142.6,110.7 144.6,110.9 146.6,111.1 148.7,111.4 150.7,111.7 152.7,112.1 154.8,112.6 156.8,113.1 158.8,113.6 160.9,114.2 162.9,114.9 164.9,115.6 166.9,116.3 169.0,117.0 171.1,117.8 173.4,118.6 175.6,119.5 177.9,120.4 180.1,121.3 182.1,122.2 183.8,122.9 185.2,123.5 186.3,123.9 187.0,124.3 187.6,124.5 187.9,124.7 188.1,124.8 188.2,124.9 188.3,125.0 188.5,125.1" fill="none" stroke="#0d1a12" stroke-width="0.90" stroke-linejoin="round"/>
</g></g>
<path d="M28.60 169.08V285.68H320.60V169.08M28.60 169.08h-2.50M320.60 169.08h2.50M28.60 183.65h-5.50M320.60 183.65h5.50M28.60 198.22h-2.50M320.60 198.22h2.50M28.60 212.80h-2.50M320.60 212.80h2.50M28.60 227.38h-5.50M320.60 227.38h5.50M28.60 241.95h-2.50M320.60 241.95h2.50M28.60 256.52h-2.50M320.60 256.52h2.50M28.60 271.10h-5.50M320.60 271.10h5.50M28.60 285.68h-2.50M320.60 285.68h2.50M28.60 285.68v5.30M43.20 285.68v2.60M57.80 285.68v2.60M72.40 285.68v2.60M87.00 285.68v2.60M101.60 285.68v5.30M116.20 285.68v2.60M130.80 285.68v2.60M145.40 285.68v2.60M160.00 285.68v2.60M174.60 285.68v5.30M189.20 285.68v2.60M203.80 285.68v2.60M218.40 285.68v2.60M233.00 285.68v2.60M247.60 285.68v5.30M262.20 285.68v2.60M276.80 285.68v2.60M291.40 285.68v2.60M306.00 285.68v2.60M320.60 285.68v5.30" fill="none" stroke="#111" stroke-width="1.05"/>
<text x="19.4" y="187.1" text-anchor="end" class="t">0</text>
<text x="19.4" y="230.8" text-anchor="end" class="t">15</text>
<text x="19.4" y="274.5" text-anchor="end" class="t">30</text>
<text x="21.6" y="288.7" text-anchor="end" class="t">(km)</text>
<text x="28.0" y="303.1" text-anchor="middle" class="t">200</text>
<text x="101.0" y="303.1" text-anchor="middle" class="t">225</text>
<text x="174.0" y="303.1" text-anchor="middle" class="t">250</text>
<text x="247.0" y="303.1" text-anchor="middle" class="t">275</text>
<text x="320.0" y="303.1" text-anchor="middle" class="t">300</text>
<text x="2.2" y="169.8" style="font-weight:bold;font-size:13.6px">b</text>
<text x="33.8" y="174.1">66 Myr</text>
<clipPath id="c11"><rect x="380.4" y="169.7" width="292.8" height="116.6"/></clipPath>
<g clip-path="url(#c11)">
<g transform="translate(351.80,161.45)">
<clipPath id="tf"><polygon points="25.7,29.5 29.3,29.5 35.0,28.9 41.5,32.4 49.6,34.9 52.8,32.8 57.7,34.9 64.2,33.7 70.7,32.1 77.2,34.9 90.2,34.9 101.6,35.7 113.0,36.5 119.5,38.1 125.1,38.6 128.3,38.9 134.8,36.5 141.3,40.6 149.5,38.1 156.0,39.8 162.5,38.1 169.0,34.9 175.5,36.5 182.0,34.9 188.5,38.1 195.0,35.7 201.5,32.4 208.0,33.2 214.5,31.6 225.2,30.8 231.7,30.0 239.8,24.3 249.6,25.1 259.3,27.2 269.1,24.6 278.9,25.1 288.6,21.4 298.4,21.9 309.8,18.6 316.3,20.7 321.1,21.1 323.7,21.1 323.7,127.3 25.7,127.3"/></clipPath>
<g clip-path="url(#tf)">
<rect x="26.7" y="5.7" width="296.0" height="120.6" fill="#74c386"/>

<polygon points="25.7,2.7 25.7,86.1 29.3,86.1 44.7,88.5 54.5,84.5 65.9,80.4 77.2,78.8 87.0,79.6 93.5,82.8 100.0,73.1 106.5,69.8 113.0,74.7 117.9,79.6 120.2,78.8 126.7,65.0 136.5,61.7 144.6,62.5 160.9,62.5 173.9,63.3 185.2,64.1 190.1,69.8 198.2,70.6 206.4,70.6 212.9,72.3 225.2,73.9 236.6,75.5 241.5,79.6 248.0,91.0 257.7,95.9 270.7,99.9 278.9,99.1 288.6,96.7 295.1,97.8 301.6,95.9 313.0,98.3 321.1,100.7 323.7,100.7 323.7,2.7" fill="#c58473"/>
<polygon points="25.7,2.7 25.7,60.9 29.3,60.9 41.5,63.3 54.5,61.7 65.9,64.1 74.0,63.3 87.0,63.3 90.2,61.7 98.4,66.6 106.5,63.3 113.0,55.2 122.8,53.2 125.1,53.2 130.0,53.6 136.5,55.2 147.8,53.6 160.9,54.4 164.1,56.8 170.6,56.0 173.9,58.5 182.0,56.8 190.1,59.3 196.6,56.8 203.1,55.2 211.3,52.8 225.2,49.5 231.7,54.4 241.5,58.1 254.5,55.2 265.9,57.2 282.1,59.3 295.1,61.7 306.5,64.1 313.0,68.2 321.1,68.2 323.7,68.2 323.7,2.7" fill="#e3b28f"/>
<polygon points="25.7,2.7 25.7,49.5 29.3,49.5 38.2,47.9 49.6,46.3 57.7,47.1 65.9,51.1 75.6,43.8 80.5,48.7 87.0,51.1 93.5,47.1 103.2,44.6 109.8,42.2 116.3,44.6 122.8,39.3 125.1,39.3 130.0,43.0 138.1,49.5 144.6,48.7 152.7,45.4 159.2,47.1 164.1,49.5 170.6,49.5 175.5,47.1 185.2,47.9 191.7,51.9 198.2,51.1 204.8,47.1 212.9,45.4 225.2,44.6 231.7,49.0 241.5,45.4 252.8,40.6 265.9,36.2 278.9,36.5 290.2,33.7 296.7,38.9 303.2,44.6 313.0,43.0 321.1,44.6 323.7,44.6 323.7,2.7" fill="#b1977a"/>
<g filter="url(#sf1)"><polygon points="108.9,124.1 109.7,122.3 110.9,119.7 112.4,116.9 114.0,114.9 115.7,113.7 117.5,112.9 119.7,112.4 122.1,111.8 125.1,111.0 128.5,110.1 132.1,109.4 135.4,109.1 138.5,109.3 141.4,109.8 144.4,110.5 147.7,111.4 151.5,112.4 155.7,113.7 160.0,115.1 164.0,116.5 168.0,118.0 172.1,119.7 175.7,121.3 178.3,122.6 181.4,123.6 184.7,124.4 185.3,125.1 180.4,125.5 166.0,125.7 144.7,125.7 123.4,125.6 108.9,125.5" fill="#fffbd8"/>
<polygon points="118.1,112.8 118.2,111.3 118.4,109.1 118.7,106.7 119.1,104.6 119.6,103.1 120.2,101.8 121.0,100.7 122.1,99.5 123.6,98.4 125.3,97.4 127.2,96.4 129.3,95.4 131.8,94.3 134.5,93.1 137.2,92.1 139.5,91.4 141.2,90.9 142.4,90.8 143.5,90.9 144.6,91.4 145.7,92.4 146.6,93.9 147.6,95.5 148.7,96.9 149.8,98.1 151.0,99.2 152.4,100.1 154.2,100.6 156.8,100.6 160.0,100.2 163.2,99.5 166.1,98.5 168.5,97.0 170.7,95.0 172.7,93.1 174.3,92.0 175.3,91.7 175.9,92.0 176.4,92.9 177.3,94.4 178.9,97.0 180.8,100.4 182.8,103.9 184.5,106.7 185.9,108.4 187.1,109.4 188.0,110.4 188.6,111.8 188.6,114.0 188.2,116.5 187.5,119.0 186.5,121.0 185.3,122.4 183.8,123.5 181.8,124.2 179.4,124.1 176.1,122.9 172.3,121.0 168.1,118.8 164.0,116.9 159.9,115.4 155.7,114.0 151.5,112.8 147.7,111.8 144.3,110.9 141.2,110.3 138.3,109.8 135.4,109.5 132.5,109.7 129.5,110.2 127.0,110.8 125.2,111.2" fill="#fffbd8"/>
<polygon points="145.6,92.4 146.5,91.2 147.8,89.7 149.7,88.3 153.4,87.1 157.8,86.2 159.9,86.2 157.7,88.0 153.2,90.8 149.7,93.4 148.7,95.7 148.6,98.0 148.7,99.5" fill="#fffbd8"/>
<polygon points="114.6,81.1 115.4,82.5 116.7,84.4 117.9,86.5 118.7,88.7 118.8,90.8 118.7,92.9 118.3,95.2 117.8,97.5 117.4,99.9 116.9,102.4 116.2,105.0 115.4,107.7 114.4,110.6 113.1,113.6 111.9,116.4 110.9,118.9 110.7,121.1 111.0,122.9 110.6,124.4 108.4,125.5 103.0,126.2 95.3,126.4 87.9,126.2 83.3,125.5 82.6,124.0 84.3,121.9 87.0,119.4 89.4,116.9 91.3,114.3 93.3,111.5 95.5,108.5 97.6,105.7 100.0,102.8 102.4,99.9 104.8,97.0 106.8,94.4 108.4,91.9 109.6,89.4 110.6,87.3 111.3,85.8" fill="#fff7a6"/>
<polygon points="115.0,82.2 115.5,83.5 116.3,85.5 117.1,87.7 117.4,89.9 117.4,92.0 117.0,94.1 116.4,96.2 115.8,98.5 115.2,101.0 114.4,103.5 113.5,106.1 112.5,108.7 111.3,111.4 109.9,114.1 108.5,116.7 107.2,118.9 106.5,121.0 106.1,122.9 105.4,124.4 103.7,125.5 100.3,126.2 95.5,126.5 91.0,126.3 88.4,125.5 88.3,123.8 89.9,121.4 92.1,118.6 94.1,115.9 95.8,113.2 97.5,110.4 99.3,107.5 101.1,104.6 103.0,101.7 105.0,98.8 106.9,96.0 108.4,93.4 109.7,91.1 110.7,88.9 111.6,87.1 112.1,85.8" fill="url(#p1f)"/>
<polygon points="140.5,87.3 141.2,87.7 142.1,88.3 142.9,89.1 143.2,90.3 142.7,92.0 141.6,94.1 140.5,96.3 139.5,98.5 139.0,100.6 138.6,102.7 138.2,104.8 137.5,106.7 136.5,108.5 135.3,110.2 133.8,111.7 131.7,112.8 128.8,113.5 125.1,113.9 121.5,113.9 119.1,113.2 118.0,111.6 117.9,109.3 118.2,106.8 118.7,104.6 119.2,103.0 119.9,101.6 120.9,100.2 122.1,98.9 123.8,97.5 125.9,96.1 127.9,94.9 129.3,94.0" fill="#fff7a6"/>
<polygon points="140.5,88.3 140.8,88.7 141.1,89.3 141.4,90.2 141.1,91.4 140.3,93.1 139.1,95.2 137.7,97.4 136.4,99.5 135.5,101.5 134.8,103.5 134.0,105.4 133.0,107.1 131.7,108.6 130.3,109.9 128.8,111.0 127.2,111.8 125.6,112.3 123.8,112.5 122.2,112.4 121.1,111.8 120.6,110.6 120.5,108.8 120.7,106.8 121.1,105.1 121.7,103.6 122.5,102.2 123.6,100.9 124.8,99.5 126.5,98.0 128.5,96.4 130.4,95.0 131.7,94.0" fill="url(#p2f)"/>
<polygon points="194.7,88.3 195.2,88.2 195.8,88.0 196.7,88.2 197.8,89.3 199.1,91.8 200.6,95.3 202.2,99.1 203.9,102.6 205.7,105.8 207.6,108.9 209.5,111.9 211.0,114.9 212.6,117.9 214.1,120.9 215.0,123.6 214.7,125.5 212.4,126.5 208.6,126.8 204.6,126.5 201.8,125.5 200.7,123.6 200.5,120.9 200.6,117.9 200.4,114.9 199.8,111.6 199.0,108.1 198.3,104.8 197.8,102.6" fill="#fff7a6"/>
<polygon points="195.5,89.3 195.7,89.1 196.0,88.8 196.5,88.9 197.1,89.9 198.1,92.3 199.3,95.5 200.6,99.2 201.8,102.6 203.1,105.7 204.5,108.9 205.8,111.9 207.0,114.9 208.1,117.9 209.2,120.9 209.9,123.6 210.0,125.5 209.0,126.5 207.2,126.8 205.3,126.5 203.9,125.5 203.2,123.6 203.0,120.9 202.8,117.9 202.5,114.9 201.7,111.6 200.7,108.1 199.8,104.8 199.2,102.6" fill="url(#p3f)"/>
<ellipse cx="116.4" cy="107.1" rx="3.3" ry="9.2" transform="rotate(8 116.4 107.1)" fill="#74c386"/>
<ellipse cx="144.0" cy="98.9" rx="4.1" ry="6.5" transform="rotate(-25 144.0 98.9)" fill="#74c386"/>
<ellipse cx="173.4" cy="107.7" rx="7.8" ry="9.4" transform="rotate(0 173.4 107.7)" fill="#74c386"/>
<ellipse cx="126.2" cy="119.4" rx="7.8" ry="4.1" transform="rotate(-8 126.2 119.4)" fill="#74c386"/></g>
<polyline points="168.1,80.1 174.3,93.4 188.6,84.2" fill="none" stroke="#fdf08a" stroke-width="1.30" stroke-linecap="round" stroke-linejoin="round"/><polyline points="168.1,80.1 174.3,93.4 188.6,84.2" fill="none" stroke="#ffd828" stroke-width="0.86" stroke-linecap="round" stroke-linejoin="round"/><polyline points="168.1,80.1 174.3,93.4 188.6,84.2" fill="none" stroke="#ffa200" stroke-width="0.42" stroke-linecap="round" stroke-linejoin="round"/>
<polyline points="159.9,86.2 149.7,92.4" fill="none" stroke="#fff6a8" stroke-width="1.45" stroke-linecap="round" stroke-linejoin="round"/>
<polyline points="78.9,34.9 85.4,43.0 90.2,49.5" fill="none" stroke="#fdf4a0" stroke-width="2.17" stroke-linecap="round" stroke-linejoin="round"/><polyline points="78.9,34.9 85.4,43.0 90.2,49.5" fill="none" stroke="#ffe53a" stroke-width="1.09" stroke-linecap="round" stroke-linejoin="round"/>
<polyline points="91.9,45.4 95.1,43.0" fill="none" stroke="#fff9d8" stroke-width="1.39" stroke-linecap="round" stroke-linejoin="round"/>
<polyline points="118.7,43.0 109.8,56.8 103.2,66.6 93.5,79.6" fill="none" stroke="#fdf4a0" stroke-width="2.61" stroke-linecap="round" stroke-linejoin="round"/><polyline points="118.7,43.0 109.8,56.8 103.2,66.6 93.5,79.6" fill="none" stroke="#ffe53a" stroke-width="1.30" stroke-linecap="round" stroke-linejoin="round"/>
<polyline points="71.5,76.3 78.9,78.0 90.2,81.2 98.4,86.1 106.5,92.6" fill="none" stroke="#fdf4a0" stroke-width="1.74" stroke-linecap="round" stroke-linejoin="round"/><polyline points="71.5,76.3 78.9,78.0 90.2,81.2 98.4,86.1 106.5,92.6" fill="none" stroke="#ffe53a" stroke-width="0.87" stroke-linecap="round" stroke-linejoin="round"/>
<polyline points="101.6,73.1 96.7,82.8" fill="none" stroke="#fff6a8" stroke-width="1.45" stroke-linecap="round" stroke-linejoin="round"/>
<polyline points="69.9,92.6 81.3,100.7" fill="none" stroke="#fff6a8" stroke-width="1.45" stroke-linecap="round" stroke-linejoin="round"/>
<polyline points="69.9,99.1 67.5,104.8" fill="none" stroke="#fff9d8" stroke-width="0.93" stroke-linecap="round" stroke-linejoin="round"/>
<polyline points="111.4,37.3 101.6,50.3 91.9,61.7 82.1,71.5 77.2,78.8 70.7,91.0 62.6,107.2" fill="none" stroke="#fdf08a" stroke-width="2.46" stroke-linecap="round" stroke-linejoin="round"/><polyline points="111.4,37.3 101.6,50.3 91.9,61.7 82.1,71.5 77.2,78.8 70.7,91.0 62.6,107.2" fill="none" stroke="#ffd828" stroke-width="1.63" stroke-linecap="round" stroke-linejoin="round"/><polyline points="111.4,37.3 101.6,50.3 91.9,61.7 82.1,71.5" fill="none" stroke="#ffa200" stroke-width="0.79" stroke-linecap="round" stroke-linejoin="round"/>
<polyline points="61.0,34.9 74.0,47.1 91.9,61.7 101.6,67.4 116.3,77.2" fill="none" stroke="#fde058" stroke-width="2.90" stroke-linecap="round" stroke-linejoin="round"/><polyline points="61.0,34.9 74.0,47.1 91.9,61.7 101.6,67.4 116.3,77.2" fill="none" stroke="#ff9a0a" stroke-width="2.09" stroke-linecap="round" stroke-linejoin="round"/><polyline points="74.0,47.1 91.9,61.7 101.6,67.4" fill="none" stroke="#e0300a" stroke-width="1.22" stroke-linecap="round" stroke-linejoin="round"/>
<polyline points="117.9,38.9 125.2,45.4 126.7,49.5 133.2,57.6" fill="none" stroke="#fde058" stroke-width="2.61" stroke-linecap="round" stroke-linejoin="round"/><polyline points="117.9,38.9 125.2,45.4 126.7,49.5 133.2,57.6" fill="none" stroke="#ff9a0a" stroke-width="1.88" stroke-linecap="round" stroke-linejoin="round"/><polyline points="117.9,38.9 125.2,45.4 126.7,49.5 133.2,57.6" fill="none" stroke="#e0300a" stroke-width="1.10" stroke-linecap="round" stroke-linejoin="round"/>
<polyline points="158.4,45.4 160.0,55.2 163.3,56.8" fill="none" stroke="#fff9d8" stroke-width="0.81" stroke-linecap="round" stroke-linejoin="round"/>
<polyline points="173.0,35.7 174.7,47.1 182.8,58.5 188.5,69.8 193.4,82.8 198.2,92.6" fill="none" stroke="#fdf08a" stroke-width="2.90" stroke-linecap="round" stroke-linejoin="round"/><polyline points="173.0,35.7 174.7,47.1 182.8,58.5 188.5,69.8 193.4,82.8 198.2,92.6" fill="none" stroke="#ffd828" stroke-width="1.91" stroke-linecap="round" stroke-linejoin="round"/><polyline points="182.8,58.5 188.5,69.8 193.4,82.8 198.2,92.6" fill="none" stroke="#ffa200" stroke-width="0.93" stroke-linecap="round" stroke-linejoin="round"/>
<polyline points="210.4,33.2 201.5,47.1 191.7,55.2 182.8,58.5 173.9,65.0 162.5,74.7 151.1,81.2 144.6,86.1" fill="none" stroke="#fde058" stroke-width="3.19" stroke-linecap="round" stroke-linejoin="round"/><polyline points="210.4,33.2 201.5,47.1 191.7,55.2 182.8,58.5 173.9,65.0 162.5,74.7 151.1,81.2 144.6,86.1" fill="none" stroke="#ff9a0a" stroke-width="2.30" stroke-linecap="round" stroke-linejoin="round"/><polyline points="182.8,58.5 173.9,65.0 162.5,74.7 151.1,81.2 144.6,86.1" fill="none" stroke="#e0300a" stroke-width="1.34" stroke-linecap="round" stroke-linejoin="round"/>
<polyline points="182.8,58.5 173.9,65.0 162.5,74.7 152.7,80.4" fill="none" stroke="#c41a08" stroke-width="1.20" stroke-linecap="round" stroke-linejoin="round"/>
<polygon points="142.2,40.6 159.2,40.6 149.5,49.5 136.5,61.7 131.6,61.7 141.3,49.5" fill="#ffb020"/>
<polygon points="144.6,44.6 148.7,43.8 146.2,49.5 143.0,51.9" fill="#fff080"/>
<polyline points="142.2,40.6 141.3,49.5 131.6,61.7 123.5,71.5" fill="none" stroke="#fde058" stroke-width="2.61" stroke-linecap="round" stroke-linejoin="round"/><polyline points="142.2,40.6 141.3,49.5 131.6,61.7 123.5,71.5" fill="none" stroke="#ff9a0a" stroke-width="1.88" stroke-linecap="round" stroke-linejoin="round"/><polyline points="142.2,40.6 141.3,49.5 131.6,61.7 123.5,71.5" fill="none" stroke="#e0300a" stroke-width="1.10" stroke-linecap="round" stroke-linejoin="round"/>
<polyline points="147.0,41.4 152.7,46.3" fill="none" stroke="#fde058" stroke-width="2.03" stroke-linecap="round" stroke-linejoin="round"/><polyline points="147.0,41.4 152.7,46.3" fill="none" stroke="#ff9a0a" stroke-width="1.46" stroke-linecap="round" stroke-linejoin="round"/><polyline points="147.0,41.4 152.7,46.3" fill="none" stroke="#e0300a" stroke-width="0.85" stroke-linecap="round" stroke-linejoin="round"/>
<polyline points="159.2,40.6 149.5,49.5 136.5,61.7 126.7,71.5 120.2,78.8 115.4,84.2 113.4,91.4" fill="none" stroke="#fdc040" stroke-width="3.92" stroke-linecap="round" stroke-linejoin="round"/><polyline points="159.2,40.6 149.5,49.5 136.5,61.7 126.7,71.5 120.2,78.8 115.4,84.2 113.4,91.4" fill="none" stroke="#f4600a" stroke-width="2.94" stroke-linecap="round" stroke-linejoin="round"/><polyline points="159.2,40.6 149.5,49.5 136.5,61.7 126.7,71.5 120.2,78.8 115.4,84.2 113.4,91.4" fill="none" stroke="#bd1408" stroke-width="1.80" stroke-linecap="round" stroke-linejoin="round"/>
<polyline points="155.2,44.6 136.5,61.7 126.7,71.5 120.2,78.8 116.0,84.2" fill="none" stroke="#7a0c0c" stroke-width="1.50" stroke-linecap="round" stroke-linejoin="round"/>
</g>
<polyline points="29.3,101.2 30.8,100.8 32.8,100.3 35.2,99.6 37.9,98.9 40.8,98.2 43.7,97.4 46.7,96.6 49.6,95.9 52.4,95.1 55.4,94.4 58.4,93.6 61.5,92.8 64.7,92.0 67.8,91.2 70.9,90.4 74.0,89.7 77.1,88.9 80.2,88.1 83.4,87.3 86.6,86.5 89.7,85.7 92.7,84.9 95.6,84.3 98.4,83.7 100.9,83.1 103.4,82.7 105.7,82.3 108.0,82.0 110.1,81.7 112.2,81.4 114.3,81.1 116.3,80.9 118.1,80.6 119.8,80.4 121.3,80.2 122.8,80.0 124.3,79.9 126.0,79.7 127.8,79.6 130.0,79.6 132.4,79.6 135.0,79.6 137.8,79.6 140.7,79.7 143.7,79.8 146.7,79.9 149.7,80.1 152.7,80.4 155.7,80.8 158.8,81.2 162.0,81.7 165.1,82.2 168.3,82.7 171.3,83.3 174.3,83.9 177.1,84.5 179.7,85.0 182.1,85.6 184.4,86.1 186.6,86.7 188.9,87.3 191.2,88.0 193.8,88.6 196.6,89.3 199.7,90.1 203.0,90.9 206.5,91.8 210.1,92.7 213.8,93.6 217.6,94.5 221.4,95.4 225.2,96.3 229.1,97.3 233.1,98.2 237.1,99.2 241.2,100.2 245.4,101.2 249.5,102.2 253.6,103.1 257.7,104.0 261.8,104.8 265.9,105.6 270.0,106.4 274.1,107.1 278.2,107.8 282.2,108.4 286.3,109.1 290.2,109.7 294.4,110.2 298.8,110.8 303.3,111.3 307.7,111.8 311.9,112.3 315.6,112.7 318.8,113.0 321.1,113.2" fill="none" stroke="#0d1a12" stroke-width="0.90" stroke-linejoin="round"/><polyline points="86.2,124.6 87.1,124.2 88.3,123.5 89.7,122.8 91.4,122.0 93.1,121.1 94.9,120.2 96.6,119.4 98.4,118.6 100.1,117.9 102.0,117.1 104.0,116.3 106.0,115.5 108.0,114.7 109.8,114.0 111.5,113.4 113.0,112.9 114.2,112.6 115.1,112.3 115.8,112.2 116.5,112.1 117.2,112.0 117.9,112.0 118.9,111.9 120.2,111.8 121.8,111.6 123.6,111.4 125.6,111.2 127.8,111.0 130.0,110.8 132.2,110.6 134.4,110.5 136.5,110.5 138.5,110.5 140.5,110.6 142.6,110.7 144.6,110.9 146.6,111.1 148.7,111.4 150.7,111.7 152.7,112.1 154.8,112.6 156.8,113.1 158.8,113.6 160.9,114.2 162.9,114.9 164.9,115.6 166.9,116.3 169.0,117.0 171.1,117.8 173.4,118.6 175.6,119.5 177.9,120.4 180.1,121.3 182.1,122.2 183.8,122.9 185.2,123.5 186.3,123.9 187.0,124.3 187.6,124.5 187.9,124.7 188.1,124.8 188.2,124.9 188.3,125.0 188.5,125.1" fill="none" stroke="#0d1a12" stroke-width="0.90" stroke-linejoin="round"/>
</g></g>
<path d="M380.40 169.68V286.27H673.20V169.68M380.40 169.68h-2.50M673.20 169.68h2.50M380.40 184.25h-5.50M673.20 184.25h5.50M380.40 198.82h-2.50M673.20 198.82h2.50M380.40 213.40h-2.50M673.20 213.40h2.50M380.40 227.97h-5.50M673.20 227.97h5.50M380.40 242.55h-2.50M673.20 242.55h2.50M380.40 257.12h-2.50M673.20 257.12h2.50M380.40 271.70h-5.50M673.20 271.70h5.50M380.40 286.27h-2.50M673.20 286.27h2.50M380.40 286.27v5.30M395.04 286.27v2.60M409.68 286.27v2.60M424.32 286.27v2.60M438.96 286.27v2.60M453.60 286.27v5.30M468.24 286.27v2.60M482.88 286.27v2.60M497.52 286.27v2.60M512.16 286.27v2.60M526.80 286.27v5.30M541.44 286.27v2.60M556.08 286.27v2.60M570.72 286.27v2.60M585.36 286.27v2.60M600.00 286.27v5.30M614.64 286.27v2.60M629.28 286.27v2.60M643.92 286.27v2.60M658.56 286.27v2.60M673.20 286.27v5.30" fill="none" stroke="#111" stroke-width="1.05"/>
<text x="371.2" y="187.7" text-anchor="end" class="t">0</text>
<text x="371.2" y="231.4" text-anchor="end" class="t">15</text>
<text x="371.2" y="275.1" text-anchor="end" class="t">30</text>
<text x="372.4" y="290.2" text-anchor="end" class="t">(km)</text>
<text x="379.8" y="302.5" text-anchor="middle" class="t">200</text>
<text x="453.0" y="302.5" text-anchor="middle" class="t">225</text>
<text x="526.2" y="302.5" text-anchor="middle" class="t">250</text>
<text x="599.4" y="302.5" text-anchor="middle" class="t">275</text>
<text x="672.6" y="302.5" text-anchor="middle" class="t">300</text>
<text x="352.6" y="169.8" style="font-weight:bold;font-size:13.6px">f</text>
<text x="385.6" y="174.7">66 Myr</text>
<clipPath id="c02"><rect x="28.6" y="329.9" width="292.0" height="116.6"/></clipPath>
<g clip-path="url(#c02)">
<g transform="translate(0.00,321.70)">
<clipPath id="tc"><polygon points="25.7,31.8 29.3,31.8 35.0,32.3 41.5,30.6 49.6,32.9 57.7,33.9 64.2,32.9 70.7,33.9 77.2,32.3 83.7,32.9 90.2,33.4 96.7,36.7 103.2,38.3 109.8,38.8 116.3,39.1 120.2,39.1 130.0,39.9 139.7,40.7 146.2,41.5 152.7,42.0 159.2,40.7 169.0,36.7 177.1,37.5 185.2,38.3 191.7,35.8 198.2,34.2 204.8,35.5 211.3,34.2 225.2,35.0 230.1,31.0 241.5,31.0 249.6,31.0 257.7,28.5 267.5,23.6 277.2,24.1 287.0,26.4 296.7,23.6 306.5,23.6 316.3,20.9 321.1,20.9 323.7,20.9 323.7,127.3 25.7,127.3"/></clipPath>
<g clip-path="url(#tc)">
<rect x="26.7" y="5.7" width="296.0" height="120.6" fill="#74c386"/>
<polygon points="76.2,125.9 78.8,123.5 82.4,120.2 86.4,116.4 90.0,112.9 93.1,109.5 95.9,106.2 98.6,102.9 101.4,99.9 104.4,97.1 107.4,94.5 110.3,92.1 112.8,90.1 114.9,88.5 116.6,87.4 118.2,86.3 120.0,85.2 122.0,83.9 124.0,82.5 126.1,81.3 128.1,80.3 130.1,79.8 132.0,79.5 134.0,79.5 136.3,79.5 138.9,79.7 141.8,80.0 144.8,80.5 147.6,81.2 150.2,82.0 152.6,83.1 155.0,84.5 157.4,86.0 159.8,87.9 162.3,90.1 164.7,92.5 167.2,95.0 169.6,97.6 172.0,100.5 174.5,103.5 176.9,106.4 179.4,109.3 182.0,112.3 184.5,115.1 186.7,117.7 188.5,120.2 190.1,122.5 191.4,124.5 192.4,125.9" fill="#6aa0cc"/>
<polygon points="25.7,2.7 25.7,81.4 29.3,81.4 38.2,77.3 46.3,74.0 54.5,71.6 61.0,73.2 69.1,70.8 77.2,66.7 82.1,65.4 90.2,68.4 95.1,70.8 100.0,65.1 104.9,55.4 107.3,49.7 113.0,48.0 122.8,48.0 122.6,46.7 128.3,49.7 134.8,49.7 143.0,42.7 160.9,44.3 169.0,48.0 175.5,49.7 182.0,49.7 188.5,55.4 196.6,57.8 204.8,59.4 211.3,58.6 225.2,63.5 228.5,69.2 235.0,69.2 241.5,70.8 254.5,71.3 265.9,73.6 270.7,79.7 277.2,89.5 287.0,95.2 296.7,98.0 303.2,98.4 313.0,96.0 321.1,95.7 323.7,95.7 323.7,2.7" fill="#c58473"/>
<polygon points="25.7,2.7 25.7,59.4 29.3,59.4 41.5,58.6 52.8,59.9 62.6,58.3 74.0,58.6 82.1,55.4 88.6,49.7 95.1,47.2 101.6,46.4 106.5,49.7 113.0,47.2 122.8,47.2 122.6,45.9 130.0,47.2 141.3,47.2 144.6,42.0 160.9,42.3 170.6,46.4 178.7,44.0 185.2,49.7 193.4,53.7 201.5,51.3 208.0,54.5 214.5,52.9 225.2,53.7 233.3,53.7 241.5,49.7 249.6,47.2 256.1,49.7 262.6,55.4 272.4,57.0 282.1,54.0 293.5,55.4 303.2,57.3 313.0,58.6 321.1,59.4 323.7,59.4 323.7,2.7" fill="#e3b28f"/>
<polygon points="25.7,2.7 25.7,47.2 29.3,47.2 36.6,48.5 43.1,46.4 52.8,48.0 57.7,45.6 65.9,44.8 72.4,40.7 80.5,39.9 87.0,41.5 93.5,39.1 100.0,38.6 104.9,40.7 111.4,39.4 116.3,45.6 122.8,46.4 122.6,45.3 126.7,44.8 130.0,40.4 139.7,41.0 160.9,41.5 169.0,44.8 175.5,44.8 182.0,41.5 188.5,46.4 195.0,49.7 201.5,46.4 208.0,49.7 214.5,48.0 225.2,46.4 231.7,41.5 239.8,38.3 249.6,39.9 256.1,45.6 262.6,47.2 274.0,42.3 283.7,38.3 293.5,35.0 303.2,35.8 313.0,32.9 321.1,32.3 323.7,32.3 323.7,2.7" fill="#b1977a"/>
<polygon points="94.9,36.4 103.0,38.1 112.8,38.9 125.0,38.9 129.8,39.7 152.5,41.3 162.3,38.1 173.7,39.7 185.0,37.3 198.0,34.0 207.8,34.5 220.0,34.0 230.6,30.9 238.7,29.6 238.7,34.5 232.2,42.9 224.9,53.5 220.0,64.1 211.1,62.5 201.3,57.9 188.3,55.6 180.2,51.9 168.8,46.2 157.4,47.5 147.6,51.4 139.5,52.4 129.8,49.8 120.0,49.0 119.3,50.3 112.8,49.8 106.3,54.3 101.4,62.5 96.5,69.8 94.1,69.0 98.2,59.2 101.4,50.3 96.5,42.1" fill="#93cbec"/>
<polygon points="166.8,39.7 167.3,39.0 167.9,38.1 168.8,37.4 170.1,37.3 171.6,37.4 172.8,37.7 173.6,38.4 174.0,39.2 174.0,40.0 173.1,40.7 171.7,41.2 170.7,41.6" fill="#b1977a"/>
<polygon points="188.0,41.3 188.8,40.3 190.0,38.8 191.5,37.7 193.7,37.2 196.1,37.0 198.0,37.3 199.2,38.2 199.9,39.7 200.0,41.3 199.3,43.2 198.0,45.2 196.4,46.5 194.5,46.8 192.3,46.5 190.7,46.2" fill="#b1977a"/>
<polygon points="204.2,39.7 205.1,38.4 206.3,36.5 207.8,35.1 209.7,34.5 211.8,34.4 213.5,34.8 214.5,36.0 215.2,37.8 215.1,39.7 214.2,41.8 212.7,43.9 211.1,45.4 209.3,45.6 207.5,45.0 206.2,44.6" fill="#b1977a"/>
<polygon points="212.4,48.6 213.8,47.9 215.8,46.9 217.6,46.2 218.9,46.1 220.0,46.4 220.8,47.0 221.3,48.4 221.4,50.1 220.8,51.4 219.1,51.7 216.8,51.6 215.1,51.4" fill="#b1977a"/>
<polygon points="157.7,47.8 158.6,47.3 160.0,46.6 161.5,46.2 163.3,46.2 165.4,46.5 166.8,47.0 167.3,47.9 167.1,48.9 166.3,49.8 164.6,50.2 162.3,50.3 160.7,50.4" fill="#c58473"/>
<polygon points="180.2,51.4 181.1,51.0 182.5,50.5 183.7,50.3 184.9,50.6 186.1,51.3 186.7,52.0 186.4,52.8 185.6,53.5 184.7,54.0 183.6,54.0 182.4,53.8 181.5,53.7" fill="#c58473"/>
<polygon points="196.4,50.3 197.4,49.4 198.7,48.4 200.0,47.8 201.2,48.2 202.3,49.2 202.9,50.3 203.1,51.5 202.8,53.0 202.1,54.0 200.8,54.4 199.0,54.4 197.7,54.3" fill="#e3b28f"/>
<polygon points="226.5,33.5 228.0,32.8 230.1,31.9 232.2,31.2 234.2,31.0 236.2,31.1 237.4,31.6 237.7,32.7 237.3,34.3 236.3,35.6 234.2,36.4 231.6,36.9 229.8,37.3" fill="#b1977a"/>
<polygon points="217.6,44.6 219.7,43.1 222.8,41.0 225.7,39.7 228.5,39.5 231.1,40.1 232.2,41.3 231.0,43.5 228.3,46.4 225.7,48.6 223.3,49.7 220.9,50.0 219.2,50.3" fill="#b1977a"/>
<polygon points="103.0,40.0 103.9,39.6 105.1,39.1 106.3,38.9 107.6,39.0 109.0,39.5 109.9,40.0 110.0,40.8 109.5,41.7 108.7,42.3 107.5,42.5 105.8,42.4 104.7,42.3" fill="#b1977a"/>
<polygon points="113.6,41.3 114.6,40.8 116.1,40.1 117.7,39.7 119.5,39.8 121.3,40.3 122.6,41.0 122.9,42.2 122.7,43.7 121.9,44.9 120.1,45.4 117.8,45.5 116.1,45.5" fill="#b1977a"/>
<polyline points="29.1,32.4 38.0,30.7 49.4,32.4 62.4,31.6 77.0,32.4 90.0,34.0 96.5,38.1" fill="none" stroke="#b0e0f1" stroke-width="2.70" stroke-linecap="round" stroke-linejoin="round"/><polyline points="29.1,32.4 38.0,30.7 49.4,32.4 62.4,31.6 77.0,32.4 90.0,34.0 96.5,38.1" fill="none" stroke="#93cbec" stroke-width="1.35" stroke-linecap="round" stroke-linejoin="round"/><polyline points="29.1,32.4 38.0,30.7 49.4,32.4 62.4,31.6 77.0,32.4 90.0,34.0 96.5,38.1" fill="none" stroke="#86c0ea" stroke-width="1.31" stroke-linecap="round" stroke-linejoin="round"/><polyline points="29.1,32.4 38.0,30.7 49.4,32.4 62.4,31.6 77.0,32.4 90.0,34.0 96.5,38.1" fill="none" stroke="#609fe3" stroke-width="0.88" stroke-linecap="round" stroke-linejoin="round"/><polyline points="29.1,32.4 38.0,30.7 49.4,32.4 62.4,31.6 77.0,32.4 90.0,34.0 96.5,38.1" fill="none" stroke="#2f6ad0" stroke-width="0.44" stroke-linecap="round" stroke-linejoin="round"/>
<polyline points="34.8,33.2 46.1,41.3 57.5,47.0 62.4,44.6 52.6,34.8" fill="none" stroke="#b0e0f1" stroke-width="2.16" stroke-linecap="round" stroke-linejoin="round"/><polyline points="34.8,33.2 46.1,41.3 57.5,47.0 62.4,44.6 52.6,34.8" fill="none" stroke="#93cbec" stroke-width="1.08" stroke-linecap="round" stroke-linejoin="round"/>
<polyline points="29.1,45.4 41.3,47.8 54.3,53.5 64.0,57.6 78.7,60.8" fill="none" stroke="#b0e0f1" stroke-width="2.70" stroke-linecap="round" stroke-linejoin="round"/><polyline points="29.1,45.4 41.3,47.8 54.3,53.5 64.0,57.6 78.7,60.8" fill="none" stroke="#93cbec" stroke-width="1.35" stroke-linecap="round" stroke-linejoin="round"/><polyline points="54.3,53.5 64.0,57.6 78.7,60.8" fill="none" stroke="#86c0ea" stroke-width="1.58" stroke-linecap="round" stroke-linejoin="round"/><polyline points="54.3,53.5 64.0,57.6 78.7,60.8" fill="none" stroke="#609fe3" stroke-width="1.05" stroke-linecap="round" stroke-linejoin="round"/><polyline points="54.3,53.5 64.0,57.6 78.7,60.8" fill="none" stroke="#2f6ad0" stroke-width="0.52" stroke-linecap="round" stroke-linejoin="round"/>
<polyline points="29.1,38.1 38.0,42.9 47.8,47.8" fill="none" stroke="#b0e0f1" stroke-width="2.03" stroke-linecap="round" stroke-linejoin="round"/><polyline points="29.1,38.1 38.0,42.9 47.8,47.8" fill="none" stroke="#93cbec" stroke-width="1.01" stroke-linecap="round" stroke-linejoin="round"/>
<polyline points="64.0,39.7 73.8,47.8 80.3,54.3 73.8,59.2" fill="none" stroke="#b0e0f1" stroke-width="2.16" stroke-linecap="round" stroke-linejoin="round"/><polyline points="64.0,39.7 73.8,47.8 80.3,54.3 73.8,59.2" fill="none" stroke="#93cbec" stroke-width="1.08" stroke-linecap="round" stroke-linejoin="round"/>
<polyline points="78.7,36.4 88.4,41.3 86.8,47.8 81.9,57.6 78.7,60.8" fill="none" stroke="#b0e0f1" stroke-width="2.29" stroke-linecap="round" stroke-linejoin="round"/><polyline points="78.7,36.4 88.4,41.3 86.8,47.8 81.9,57.6 78.7,60.8" fill="none" stroke="#93cbec" stroke-width="1.15" stroke-linecap="round" stroke-linejoin="round"/>
<polyline points="57.5,47.0 67.3,50.3 77.0,47.8 86.8,42.9" fill="none" stroke="#b0e0f1" stroke-width="2.03" stroke-linecap="round" stroke-linejoin="round"/><polyline points="57.5,47.0 67.3,50.3 77.0,47.8 86.8,42.9" fill="none" stroke="#93cbec" stroke-width="1.01" stroke-linecap="round" stroke-linejoin="round"/>
<polyline points="29.1,60.0 39.6,60.8 49.4,62.5 60.8,58.4 68.9,60.8 78.7,62.5" fill="none" stroke="#b0e0f1" stroke-width="2.97" stroke-linecap="round" stroke-linejoin="round"/><polyline points="29.1,60.0 39.6,60.8 49.4,62.5 60.8,58.4 68.9,60.8 78.7,62.5" fill="none" stroke="#93cbec" stroke-width="1.49" stroke-linecap="round" stroke-linejoin="round"/><polyline points="29.1,60.0 39.6,60.8 49.4,62.5 60.8,58.4 68.9,60.8 78.7,62.5" fill="none" stroke="#86c0ea" stroke-width="1.58" stroke-linecap="round" stroke-linejoin="round"/><polyline points="29.1,60.0 39.6,60.8 49.4,62.5 60.8,58.4 68.9,60.8 78.7,62.5" fill="none" stroke="#609fe3" stroke-width="1.05" stroke-linecap="round" stroke-linejoin="round"/><polyline points="29.1,60.0 39.6,60.8 49.4,62.5 60.8,58.4 68.9,60.8 78.7,62.5" fill="none" stroke="#2f6ad0" stroke-width="0.52" stroke-linecap="round" stroke-linejoin="round"/>
<polyline points="29.1,72.2 38.0,73.0 49.4,71.4 54.3,64.1 60.8,58.4" fill="none" stroke="#b0e0f1" stroke-width="2.70" stroke-linecap="round" stroke-linejoin="round"/><polyline points="29.1,72.2 38.0,73.0 49.4,71.4 54.3,64.1 60.8,58.4" fill="none" stroke="#93cbec" stroke-width="1.35" stroke-linecap="round" stroke-linejoin="round"/><polyline points="29.1,72.2 38.0,73.0 49.4,71.4" fill="none" stroke="#86c0ea" stroke-width="1.58" stroke-linecap="round" stroke-linejoin="round"/><polyline points="29.1,72.2 38.0,73.0 49.4,71.4" fill="none" stroke="#609fe3" stroke-width="1.05" stroke-linecap="round" stroke-linejoin="round"/><polyline points="29.1,72.2 38.0,73.0 49.4,71.4" fill="none" stroke="#2f6ad0" stroke-width="0.52" stroke-linecap="round" stroke-linejoin="round"/>
<polyline points="49.4,72.2 62.4,74.6 70.5,76.3 78.7,78.7 90.0,73.0 96.5,70.6" fill="none" stroke="#b0e0f1" stroke-width="3.24" stroke-linecap="round" stroke-linejoin="round"/><polyline points="49.4,72.2 62.4,74.6 70.5,76.3 78.7,78.7 90.0,73.0 96.5,70.6" fill="none" stroke="#93cbec" stroke-width="1.62" stroke-linecap="round" stroke-linejoin="round"/><polyline points="49.4,72.2 62.4,74.6 70.5,76.3 78.7,78.7 90.0,73.0 96.5,70.6" fill="none" stroke="#86c0ea" stroke-width="2.10" stroke-linecap="round" stroke-linejoin="round"/><polyline points="49.4,72.2 62.4,74.6 70.5,76.3 78.7,78.7 90.0,73.0 96.5,70.6" fill="none" stroke="#609fe3" stroke-width="1.40" stroke-linecap="round" stroke-linejoin="round"/><polyline points="49.4,72.2 62.4,74.6 70.5,76.3 78.7,78.7 90.0,73.0 96.5,70.6" fill="none" stroke="#2f6ad0" stroke-width="0.70" stroke-linecap="round" stroke-linejoin="round"/>
<polyline points="70.5,76.3 75.4,69.0 81.9,66.5 88.4,70.6" fill="none" stroke="#b0e0f1" stroke-width="2.43" stroke-linecap="round" stroke-linejoin="round"/><polyline points="70.5,76.3 75.4,69.0 81.9,66.5 88.4,70.6" fill="none" stroke="#93cbec" stroke-width="1.22" stroke-linecap="round" stroke-linejoin="round"/>
<polyline points="78.7,62.5 86.8,67.3 94.9,71.4" fill="none" stroke="#b0e0f1" stroke-width="2.97" stroke-linecap="round" stroke-linejoin="round"/><polyline points="78.7,62.5 86.8,67.3 94.9,71.4" fill="none" stroke="#93cbec" stroke-width="1.49" stroke-linecap="round" stroke-linejoin="round"/><polyline points="78.7,62.5 86.8,67.3 94.9,71.4" fill="none" stroke="#86c0ea" stroke-width="2.12" stroke-linecap="round" stroke-linejoin="round"/><polyline points="78.7,62.5 86.8,67.3 94.9,71.4" fill="none" stroke="#609fe3" stroke-width="1.41" stroke-linecap="round" stroke-linejoin="round"/><polyline points="78.7,62.5 86.8,67.3 94.9,71.4" fill="none" stroke="#2f6ad0" stroke-width="0.71" stroke-linecap="round" stroke-linejoin="round"/>
<polyline points="44.5,75.5 42.9,83.6 36.4,90.1 29.9,91.7" fill="none" stroke="#b0e0f1" stroke-width="3.51" stroke-linecap="round" stroke-linejoin="round"/><polyline points="44.5,75.5 42.9,83.6 36.4,90.1 29.9,91.7" fill="none" stroke="#93cbec" stroke-width="1.76" stroke-linecap="round" stroke-linejoin="round"/>
<polyline points="29.1,85.2 34.8,80.3 41.3,77.1" fill="none" stroke="#b0e0f1" stroke-width="2.16" stroke-linecap="round" stroke-linejoin="round"/><polyline points="29.1,85.2 34.8,80.3 41.3,77.1" fill="none" stroke="#93cbec" stroke-width="1.08" stroke-linecap="round" stroke-linejoin="round"/>
<polyline points="85.2,81.2 94.1,82.0" fill="none" stroke="#b0e0f1" stroke-width="2.97" stroke-linecap="round" stroke-linejoin="round"/><polyline points="85.2,81.2 94.1,82.0" fill="none" stroke="#93cbec" stroke-width="1.49" stroke-linecap="round" stroke-linejoin="round"/>
<polyline points="96.5,38.1 103.0,44.6 111.2,47.0 119.3,45.4 125.0,42.1" fill="none" stroke="#c3e8f4" stroke-width="5.87" stroke-linecap="round" stroke-linejoin="round"/><polyline points="96.5,38.1 103.0,44.6 111.2,47.0 119.3,45.4 125.0,42.1" fill="none" stroke="#b0e0f1" stroke-width="4.05" stroke-linecap="round" stroke-linejoin="round"/><polyline points="96.5,38.1 103.0,44.6 111.2,47.0 119.3,45.4 125.0,42.1" fill="none" stroke="#93cbec" stroke-width="2.03" stroke-linecap="round" stroke-linejoin="round"/><polyline points="96.5,38.1 103.0,44.6 111.2,47.0 119.3,45.4 125.0,42.1" fill="none" stroke="#86c0ea" stroke-width="2.62" stroke-linecap="round" stroke-linejoin="round"/><polyline points="96.5,38.1 103.0,44.6 111.2,47.0 119.3,45.4 125.0,42.1" fill="none" stroke="#609fe3" stroke-width="1.75" stroke-linecap="round" stroke-linejoin="round"/><polyline points="96.5,38.1 103.0,44.6 111.2,47.0 119.3,45.4 125.0,42.1" fill="none" stroke="#2f6ad0" stroke-width="0.88" stroke-linecap="round" stroke-linejoin="round"/>
<polyline points="94.9,71.4 101.4,62.5 106.3,53.5 112.8,48.6 119.3,48.6 125.0,50.3" fill="none" stroke="#c3e8f4" stroke-width="5.09" stroke-linecap="round" stroke-linejoin="round"/><polyline points="94.9,71.4 101.4,62.5 106.3,53.5 112.8,48.6 119.3,48.6 125.0,50.3" fill="none" stroke="#b0e0f1" stroke-width="3.51" stroke-linecap="round" stroke-linejoin="round"/><polyline points="94.9,71.4 101.4,62.5 106.3,53.5 112.8,48.6 119.3,48.6 125.0,50.3" fill="none" stroke="#93cbec" stroke-width="1.76" stroke-linecap="round" stroke-linejoin="round"/><polyline points="94.9,71.4 101.4,62.5 106.3,53.5 112.8,48.6 119.3,48.6 125.0,50.3" fill="none" stroke="#86c0ea" stroke-width="2.62" stroke-linecap="round" stroke-linejoin="round"/><polyline points="94.9,71.4 101.4,62.5 106.3,53.5 112.8,48.6 119.3,48.6 125.0,50.3" fill="none" stroke="#609fe3" stroke-width="1.75" stroke-linecap="round" stroke-linejoin="round"/><polyline points="94.9,71.4 101.4,62.5 106.3,53.5 112.8,48.6 119.3,48.6 125.0,50.3" fill="none" stroke="#2f6ad0" stroke-width="0.88" stroke-linecap="round" stroke-linejoin="round"/>
<polyline points="96.5,38.9 101.4,42.9 105.5,50.3" fill="none" stroke="#b0e0f1" stroke-width="2.43" stroke-linecap="round" stroke-linejoin="round"/><polyline points="96.5,38.9 101.4,42.9 105.5,50.3" fill="none" stroke="#93cbec" stroke-width="1.22" stroke-linecap="round" stroke-linejoin="round"/>
<polyline points="111.2,38.1 114.4,43.8" fill="none" stroke="#b0e0f1" stroke-width="2.03" stroke-linecap="round" stroke-linejoin="round"/><polyline points="111.2,38.1 114.4,43.8" fill="none" stroke="#93cbec" stroke-width="1.01" stroke-linecap="round" stroke-linejoin="round"/>
<polyline points="120.0,41.3 136.3,42.1 152.5,42.9 162.3,39.7 173.7,42.9 185.0,38.9 198.0,35.6 201.3,39.7" fill="none" stroke="#b0e0f1" stroke-width="3.51" stroke-linecap="round" stroke-linejoin="round"/><polyline points="120.0,41.3 136.3,42.1 152.5,42.9 162.3,39.7 173.7,42.9 185.0,38.9 198.0,35.6 201.3,39.7" fill="none" stroke="#93cbec" stroke-width="1.76" stroke-linecap="round" stroke-linejoin="round"/><polyline points="120.0,41.3 136.3,42.1 152.5,42.9 162.3,39.7 173.7,42.9" fill="none" stroke="#86c0ea" stroke-width="1.58" stroke-linecap="round" stroke-linejoin="round"/><polyline points="120.0,41.3 136.3,42.1 152.5,42.9 162.3,39.7 173.7,42.9" fill="none" stroke="#609fe3" stroke-width="1.05" stroke-linecap="round" stroke-linejoin="round"/><polyline points="120.0,41.3 136.3,42.1 152.5,42.9 162.3,39.7 173.7,42.9" fill="none" stroke="#2f6ad0" stroke-width="0.52" stroke-linecap="round" stroke-linejoin="round"/>
<polyline points="185.0,38.9 188.3,47.8 196.4,55.1" fill="none" stroke="#b0e0f1" stroke-width="2.43" stroke-linecap="round" stroke-linejoin="round"/><polyline points="185.0,38.9 188.3,47.8 196.4,55.1" fill="none" stroke="#93cbec" stroke-width="1.22" stroke-linecap="round" stroke-linejoin="round"/>
<polyline points="201.3,39.7 204.6,47.8 212.7,51.9" fill="none" stroke="#b0e0f1" stroke-width="2.43" stroke-linecap="round" stroke-linejoin="round"/><polyline points="201.3,39.7 204.6,47.8 212.7,51.9" fill="none" stroke="#93cbec" stroke-width="1.22" stroke-linecap="round" stroke-linejoin="round"/>
<polyline points="173.7,42.9 178.5,47.8 188.3,47.8 201.3,51.1 211.1,46.2 220.0,47.8" fill="none" stroke="#b0e0f1" stroke-width="2.70" stroke-linecap="round" stroke-linejoin="round"/><polyline points="173.7,42.9 178.5,47.8 188.3,47.8 201.3,51.1 211.1,46.2 220.0,47.8" fill="none" stroke="#93cbec" stroke-width="1.35" stroke-linecap="round" stroke-linejoin="round"/>
<polyline points="120.0,47.0 129.8,47.8 139.5,50.3 147.6,49.4 157.4,45.4 168.8,43.8 180.2,49.4 188.3,53.5 201.3,56.0 212.7,59.2 220.0,62.5" fill="none" stroke="#c3e8f4" stroke-width="6.66" stroke-linecap="round" stroke-linejoin="round"/><polyline points="120.0,47.0 129.8,47.8 139.5,50.3 147.6,49.4 157.4,45.4 168.8,43.8 180.2,49.4 188.3,53.5 201.3,56.0 212.7,59.2 220.0,62.5" fill="none" stroke="#b0e0f1" stroke-width="4.59" stroke-linecap="round" stroke-linejoin="round"/><polyline points="120.0,47.0 129.8,47.8 139.5,50.3 147.6,49.4 157.4,45.4 168.8,43.8 180.2,49.4 188.3,53.5 201.3,56.0 212.7,59.2 220.0,62.5" fill="none" stroke="#93cbec" stroke-width="2.29" stroke-linecap="round" stroke-linejoin="round"/><polyline points="120.0,47.0 129.8,47.8 139.5,50.3 147.6,49.4 157.4,45.4 168.8,43.8 180.2,49.4 188.3,53.5 201.3,56.0 212.7,59.2 220.0,62.5" fill="none" stroke="#86c0ea" stroke-width="3.15" stroke-linecap="round" stroke-linejoin="round"/><polyline points="120.0,47.0 129.8,47.8 139.5,50.3 147.6,49.4 157.4,45.4 168.8,43.8 180.2,49.4 188.3,53.5 201.3,56.0 212.7,59.2 220.0,62.5" fill="none" stroke="#609fe3" stroke-width="2.10" stroke-linecap="round" stroke-linejoin="round"/><polyline points="120.0,47.0 129.8,47.8 139.5,50.3 147.6,49.4 157.4,45.4 168.8,43.8 180.2,49.4 188.3,53.5 201.3,56.0 212.7,59.2 220.0,62.5" fill="none" stroke="#2f6ad0" stroke-width="1.05" stroke-linecap="round" stroke-linejoin="round"/>
<polyline points="120.0,52.7 126.5,60.8 129.8,67.3" fill="none" stroke="#b0e0f1" stroke-width="2.16" stroke-linecap="round" stroke-linejoin="round"/><polyline points="120.0,52.7 126.5,60.8 129.8,67.3" fill="none" stroke="#93cbec" stroke-width="1.08" stroke-linecap="round" stroke-linejoin="round"/>
<polyline points="136.3,54.3 129.8,64.1" fill="none" stroke="#b0e0f1" stroke-width="2.03" stroke-linecap="round" stroke-linejoin="round"/><polyline points="136.3,54.3 129.8,64.1" fill="none" stroke="#93cbec" stroke-width="1.01" stroke-linecap="round" stroke-linejoin="round"/>
<polyline points="128.1,67.3 141.1,60.8 152.5,57.3 162.3,57.9 173.7,54.3 185.0,57.6 196.4,62.5 211.1,64.1 220.0,65.7" fill="none" stroke="#b0e0f1" stroke-width="2.97" stroke-linecap="round" stroke-linejoin="round"/><polyline points="128.1,67.3 141.1,60.8 152.5,57.3 162.3,57.9 173.7,54.3 185.0,57.6 196.4,62.5 211.1,64.1 220.0,65.7" fill="none" stroke="#93cbec" stroke-width="1.49" stroke-linecap="round" stroke-linejoin="round"/>
<polyline points="152.5,66.5 168.8,63.3 173.7,70.6 178.5,80.3" fill="none" stroke="#b0e0f1" stroke-width="1.35" stroke-linecap="round" stroke-linejoin="round"/>
<polyline points="176.9,68.1 189.9,63.3" fill="none" stroke="#b0e0f1" stroke-width="1.35" stroke-linecap="round" stroke-linejoin="round"/>
<polyline points="191.5,62.5 196.4,75.5 202.1,90.9" fill="none" stroke="#b0e0f1" stroke-width="2.43" stroke-linecap="round" stroke-linejoin="round"/><polyline points="191.5,62.5 196.4,75.5 202.1,90.9" fill="none" stroke="#93cbec" stroke-width="1.22" stroke-linecap="round" stroke-linejoin="round"/>
<polyline points="148.5,52.7 152.5,57.3" fill="none" stroke="#b0e0f1" stroke-width="2.16" stroke-linecap="round" stroke-linejoin="round"/><polyline points="148.5,52.7 152.5,57.3" fill="none" stroke="#93cbec" stroke-width="1.08" stroke-linecap="round" stroke-linejoin="round"/>
<polyline points="225.0,47.8 233.1,39.7 240.4,31.6" fill="none" stroke="#b0e0f1" stroke-width="2.70" stroke-linecap="round" stroke-linejoin="round"/><polyline points="225.0,47.8 233.1,39.7 240.4,31.6" fill="none" stroke="#93cbec" stroke-width="1.35" stroke-linecap="round" stroke-linejoin="round"/><polyline points="225.0,47.8 233.1,39.7 240.4,31.6" fill="none" stroke="#86c0ea" stroke-width="1.58" stroke-linecap="round" stroke-linejoin="round"/><polyline points="225.0,47.8 233.1,39.7 240.4,31.6" fill="none" stroke="#609fe3" stroke-width="1.05" stroke-linecap="round" stroke-linejoin="round"/><polyline points="225.0,47.8 233.1,39.7 240.4,31.6" fill="none" stroke="#2f6ad0" stroke-width="0.52" stroke-linecap="round" stroke-linejoin="round"/>
<polyline points="268.9,23.4 260.8,29.9 254.3,36.4 249.4,41.3" fill="none" stroke="#b0e0f1" stroke-width="2.29" stroke-linecap="round" stroke-linejoin="round"/><polyline points="268.9,23.4 260.8,29.9 254.3,36.4 249.4,41.3" fill="none" stroke="#93cbec" stroke-width="1.15" stroke-linecap="round" stroke-linejoin="round"/>
<polyline points="268.9,23.4 277.0,33.2 280.3,36.4" fill="none" stroke="#b0e0f1" stroke-width="2.03" stroke-linecap="round" stroke-linejoin="round"/><polyline points="268.9,23.4 277.0,33.2 280.3,36.4" fill="none" stroke="#93cbec" stroke-width="1.01" stroke-linecap="round" stroke-linejoin="round"/>
<polyline points="296.5,24.2 288.4,33.2" fill="none" stroke="#b0e0f1" stroke-width="2.03" stroke-linecap="round" stroke-linejoin="round"/><polyline points="296.5,24.2 288.4,33.2" fill="none" stroke="#93cbec" stroke-width="1.01" stroke-linecap="round" stroke-linejoin="round"/>
<polyline points="320.1,31.6 306.3,38.1 288.4,46.2" fill="none" stroke="#b0e0f1" stroke-width="2.16" stroke-linecap="round" stroke-linejoin="round"/><polyline points="320.1,31.6 306.3,38.1 288.4,46.2" fill="none" stroke="#93cbec" stroke-width="1.08" stroke-linecap="round" stroke-linejoin="round"/>
<polyline points="281.9,55.1 270.5,57.6 264.0,60.8" fill="none" stroke="#b0e0f1" stroke-width="2.03" stroke-linecap="round" stroke-linejoin="round"/><polyline points="281.9,55.1 270.5,57.6 264.0,60.8" fill="none" stroke="#93cbec" stroke-width="1.01" stroke-linecap="round" stroke-linejoin="round"/>
<polyline points="282.7,62.5 269.7,68.1" fill="none" stroke="#b0e0f1" stroke-width="1.22" stroke-linecap="round" stroke-linejoin="round"/>
<polyline points="320.1,85.2 312.8,90.1" fill="none" stroke="#b0e0f1" stroke-width="2.03" stroke-linecap="round" stroke-linejoin="round"/><polyline points="320.1,85.2 312.8,90.1" fill="none" stroke="#93cbec" stroke-width="1.01" stroke-linecap="round" stroke-linejoin="round"/>
<polyline points="320.1,95.8 311.2,98.2 304.7,104.7 293.3,103.9 285.2,95.8" fill="none" stroke="#b0e0f1" stroke-width="2.43" stroke-linecap="round" stroke-linejoin="round"/><polyline points="320.1,95.8 311.2,98.2 304.7,104.7 293.3,103.9 285.2,95.8" fill="none" stroke="#93cbec" stroke-width="1.22" stroke-linecap="round" stroke-linejoin="round"/>
<polyline points="304.7,104.7 311.2,116.1" fill="none" stroke="#b0e0f1" stroke-width="1.76" stroke-linecap="round" stroke-linejoin="round"/>
<polyline points="225.0,82.0 228.3,91.7 234.8,101.5" fill="none" stroke="#b0e0f1" stroke-width="2.43" stroke-linecap="round" stroke-linejoin="round"/><polyline points="225.0,82.0 228.3,91.7 234.8,101.5" fill="none" stroke="#93cbec" stroke-width="1.22" stroke-linecap="round" stroke-linejoin="round"/>
<polyline points="233.1,79.5 239.6,76.3" fill="none" stroke="#b0e0f1" stroke-width="0.94" stroke-linecap="round" stroke-linejoin="round"/>
<polyline points="320.1,21.8 306.3,28.3 293.3,34.8 280.3,41.3 268.9,47.0 257.5,51.1" fill="none" stroke="#c3e8f4" stroke-width="5.87" stroke-linecap="round" stroke-linejoin="round"/><polyline points="320.1,21.8 306.3,28.3 293.3,34.8 280.3,41.3 268.9,47.0 257.5,51.1" fill="none" stroke="#b0e0f1" stroke-width="4.05" stroke-linecap="round" stroke-linejoin="round"/><polyline points="320.1,21.8 306.3,28.3 293.3,34.8 280.3,41.3 268.9,47.0 257.5,51.1" fill="none" stroke="#93cbec" stroke-width="2.03" stroke-linecap="round" stroke-linejoin="round"/><polyline points="320.1,21.8 306.3,28.3 293.3,34.8 280.3,41.3 268.9,47.0 257.5,51.1" fill="none" stroke="#86c0ea" stroke-width="2.62" stroke-linecap="round" stroke-linejoin="round"/><polyline points="320.1,21.8 306.3,28.3 293.3,34.8 280.3,41.3 268.9,47.0 257.5,51.1" fill="none" stroke="#609fe3" stroke-width="1.75" stroke-linecap="round" stroke-linejoin="round"/><polyline points="320.1,21.8 306.3,28.3 293.3,34.8 280.3,41.3 268.9,47.0 257.5,51.1" fill="none" stroke="#2f6ad0" stroke-width="0.88" stroke-linecap="round" stroke-linejoin="round"/>
<polyline points="225.0,59.2 236.4,52.7 249.4,45.4" fill="none" stroke="#c3e8f4" stroke-width="5.87" stroke-linecap="round" stroke-linejoin="round"/><polyline points="225.0,59.2 236.4,52.7 249.4,45.4" fill="none" stroke="#b0e0f1" stroke-width="4.05" stroke-linecap="round" stroke-linejoin="round"/><polyline points="225.0,59.2 236.4,52.7 249.4,45.4" fill="none" stroke="#93cbec" stroke-width="2.03" stroke-linecap="round" stroke-linejoin="round"/><polyline points="225.0,59.2 236.4,52.7 249.4,45.4" fill="none" stroke="#86c0ea" stroke-width="3.15" stroke-linecap="round" stroke-linejoin="round"/><polyline points="225.0,59.2 236.4,52.7 249.4,45.4" fill="none" stroke="#609fe3" stroke-width="2.10" stroke-linecap="round" stroke-linejoin="round"/><polyline points="225.0,59.2 236.4,52.7 249.4,45.4" fill="none" stroke="#2f6ad0" stroke-width="1.05" stroke-linecap="round" stroke-linejoin="round"/>
<polyline points="240.4,31.6 246.1,39.7 251.0,47.8 259.1,60.8 267.3,75.5 273.8,88.5 278.7,98.2 283.5,103.1" fill="none" stroke="#b0e0f1" stroke-width="3.78" stroke-linecap="round" stroke-linejoin="round"/><polyline points="240.4,31.6 246.1,39.7 251.0,47.8 259.1,60.8 267.3,75.5 273.8,88.5 278.7,98.2 283.5,103.1" fill="none" stroke="#93cbec" stroke-width="1.89" stroke-linecap="round" stroke-linejoin="round"/><polyline points="246.1,39.7 251.0,47.8 259.1,60.8 267.3,75.5 273.8,88.5 278.7,98.2" fill="none" stroke="#86c0ea" stroke-width="2.10" stroke-linecap="round" stroke-linejoin="round"/><polyline points="246.1,39.7 251.0,47.8 259.1,60.8 267.3,75.5 273.8,88.5 278.7,98.2" fill="none" stroke="#609fe3" stroke-width="1.40" stroke-linecap="round" stroke-linejoin="round"/><polyline points="246.1,39.7 251.0,47.8 259.1,60.8 267.3,75.5 273.8,88.5 278.7,98.2" fill="none" stroke="#2f6ad0" stroke-width="0.70" stroke-linecap="round" stroke-linejoin="round"/>
<polyline points="272.2,101.5 283.5,103.1" fill="none" stroke="#b0e0f1" stroke-width="2.97" stroke-linecap="round" stroke-linejoin="round"/><polyline points="272.2,101.5 283.5,103.1" fill="none" stroke="#93cbec" stroke-width="1.49" stroke-linecap="round" stroke-linejoin="round"/>
<polyline points="29.3,32.7 35.0,33.2 41.5,31.5 49.6,33.8 57.7,34.8 64.2,33.8 70.7,34.8 77.2,33.2 83.7,33.8 90.2,34.3 96.7,37.6 103.2,39.2 109.8,39.7 116.3,40.0 120.2,40.0 130.0,40.8 139.7,41.6 146.2,42.4 152.7,42.9 159.2,41.6 169.0,37.6 177.1,38.4 185.2,39.2 191.7,36.7 198.2,35.1 204.8,36.4 211.3,35.1 225.2,35.9 230.1,31.9 241.5,31.9 249.6,31.9 257.7,29.4 267.5,24.5 277.2,25.0 287.0,27.3 296.7,24.5 306.5,24.5 316.3,21.8" fill="none" stroke="#b0e0f1" stroke-width="1.70" stroke-linecap="round" stroke-linejoin="round"/>
</g>
<polyline points="29.3,96.8 30.8,96.3 32.8,95.6 35.2,94.9 37.9,94.0 40.8,93.0 43.7,92.1 46.7,91.2 49.6,90.3 52.5,89.5 55.5,88.7 58.6,87.8 61.7,87.0 64.9,86.2 68.0,85.4 71.1,84.6 74.0,83.8 76.8,83.0 79.6,82.3 82.4,81.5 85.2,80.8 87.8,80.1 90.4,79.4 92.8,78.7 95.1,78.1 97.3,77.5 99.3,77.0 101.3,76.4 103.1,75.9 104.9,75.4 106.5,75.0 108.2,74.5 109.8,74.0 111.2,73.6 112.5,73.1 113.7,72.7 114.9,72.3 116.0,71.9 117.3,71.5 118.6,71.1 120.2,70.8 122.0,70.5 123.9,70.2 125.9,70.0 128.0,69.7 130.1,69.5 132.3,69.4 134.4,69.2 136.5,69.2 138.5,69.1 140.5,69.1 142.6,69.2 144.6,69.3 146.6,69.4 148.7,69.6 150.7,69.7 152.7,70.0 154.8,70.3 156.8,70.6 158.8,71.0 160.9,71.4 162.9,71.8 164.9,72.3 166.9,72.7 169.0,73.2 171.0,73.8 173.0,74.3 175.1,74.9 177.1,75.6 179.1,76.2 181.2,76.9 183.2,77.5 185.2,78.1 187.2,78.7 189.1,79.3 191.0,79.8 192.9,80.4 194.9,81.0 196.9,81.6 199.1,82.3 201.5,83.0 204.2,83.8 207.1,84.7 210.2,85.6 213.4,86.6 216.5,87.6 219.6,88.6 222.5,89.5 225.2,90.3 227.5,91.1 229.6,91.8 231.5,92.4 233.3,93.1 235.1,93.7 237.0,94.3 239.1,95.0 241.5,95.7 244.1,96.4 247.0,97.2 250.0,97.9 253.1,98.7 256.3,99.5 259.6,100.3 262.7,101.0 265.9,101.7 268.9,102.4 272.0,103.0 275.1,103.7 278.1,104.3 281.2,104.9 284.3,105.5 287.3,106.0 290.2,106.6 293.3,107.1 296.4,107.7 299.5,108.2 302.6,108.7 305.6,109.2 308.4,109.6 310.9,110.0 313.0,110.3 314.8,110.5 316.3,110.7 317.5,110.8 318.5,110.9 319.3,110.9 320.0,110.9 320.6,110.9 321.1,111.0" fill="none" stroke="#0d1a12" stroke-width="0.90" stroke-linejoin="round"/><polyline points="61.8,125.3 63.1,124.5 64.9,123.5 67.0,122.4 69.3,121.1 71.8,119.7 74.2,118.2 76.6,116.8 78.9,115.5 80.9,114.2 83.0,112.9 85.1,111.5 87.1,110.1 89.2,108.7 91.2,107.4 93.2,106.1 95.1,104.9 97.1,103.8 99.0,102.8 100.9,101.8 102.8,100.8 104.6,99.9 106.4,99.1 108.1,98.3 109.8,97.6 111.2,97.0 112.6,96.5 113.9,96.1 115.1,95.7 116.3,95.4 117.5,95.1 118.8,94.8 120.2,94.4 121.7,93.9 123.3,93.5 124.9,93.0 126.5,92.5 128.2,92.1 129.9,91.7 131.6,91.4 133.2,91.1 134.8,90.9 136.4,90.8 138.0,90.7 139.6,90.7 141.2,90.7 142.8,90.8 144.5,90.9 146.2,91.1 148.0,91.4 149.7,91.7 151.5,92.1 153.3,92.6 155.2,93.1 157.0,93.7 158.9,94.4 160.9,95.2 162.8,96.1 164.8,97.1 166.8,98.1 168.9,99.3 170.9,100.5 173.0,101.7 175.1,102.9 177.1,104.1 179.1,105.3 181.1,106.5 183.1,107.8 185.1,109.0 187.2,110.3 189.2,111.5 191.3,112.7 193.4,113.9 195.6,115.1 198.1,116.3 200.6,117.6 203.1,118.8 205.5,120.0 207.7,121.1 209.7,122.0 211.3,122.8 212.5,123.5 213.3,124.0 214.0,124.3 214.4,124.6 214.7,124.8 214.9,125.0 215.1,125.1 215.3,125.3" fill="none" stroke="#0d1a12" stroke-width="0.90" stroke-linejoin="round"/>
</g></g>
<path d="M28.60 329.93V446.52H320.60V329.93M28.60 329.93h-2.50M320.60 329.93h2.50M28.60 344.50h-5.50M320.60 344.50h5.50M28.60 359.07h-2.50M320.60 359.07h2.50M28.60 373.65h-2.50M320.60 373.65h2.50M28.60 388.23h-5.50M320.60 388.23h5.50M28.60 402.80h-2.50M320.60 402.80h2.50M28.60 417.38h-2.50M320.60 417.38h2.50M28.60 431.95h-5.50M320.60 431.95h5.50M28.60 446.52h-2.50M320.60 446.52h2.50M28.60 446.52v5.30M43.20 446.52v2.60M57.80 446.52v2.60M72.40 446.52v2.60M87.00 446.52v2.60M101.60 446.52v5.30M116.20 446.52v2.60M130.80 446.52v2.60M145.40 446.52v2.60M160.00 446.52v2.60M174.60 446.52v5.30M189.20 446.52v2.60M203.80 446.52v2.60M218.40 446.52v2.60M233.00 446.52v2.60M247.60 446.52v5.30M262.20 446.52v2.60M276.80 446.52v2.60M291.40 446.52v2.60M306.00 446.52v2.60M320.60 446.52v5.30" fill="none" stroke="#111" stroke-width="1.05"/>
<text x="19.4" y="347.9" text-anchor="end" class="t">0</text>
<text x="19.4" y="391.6" text-anchor="end" class="t">15</text>
<text x="19.4" y="435.3" text-anchor="end" class="t">30</text>
<text x="19.1" y="449.5" text-anchor="end" class="t">(km)</text>
<text x="28.0" y="463.9" text-anchor="middle" class="t">200</text>
<text x="101.0" y="463.9" text-anchor="middle" class="t">225</text>
<text x="174.0" y="463.9" text-anchor="middle" class="t">250</text>
<text x="247.0" y="463.9" text-anchor="middle" class="t">275</text>
<text x="320.0" y="463.9" text-anchor="middle" class="t">300</text>
<text x="2.2" y="330.7" style="font-weight:bold;font-size:13.6px">c</text>
<text x="33.8" y="334.9">70 Myr</text>
<clipPath id="c12"><rect x="380.4" y="330.5" width="292.8" height="116.6"/></clipPath>
<g clip-path="url(#c12)">
<g transform="translate(351.80,322.30)">
<clipPath id="tg"><polygon points="25.7,31.8 29.3,31.8 35.0,32.3 41.5,30.6 49.6,32.9 57.7,33.9 64.2,32.9 70.7,33.9 77.2,32.3 83.7,32.9 90.2,33.4 96.7,36.7 103.2,38.3 109.8,38.8 116.3,39.1 120.2,39.1 130.0,39.9 139.7,40.7 146.2,41.5 152.7,42.0 159.2,40.7 169.0,36.7 177.1,37.5 185.2,38.3 191.7,35.8 198.2,34.2 204.8,35.5 211.3,34.2 225.2,35.0 230.1,31.0 241.5,31.0 249.6,31.0 257.7,28.5 267.5,23.6 277.2,24.1 287.0,26.4 296.7,23.6 306.5,23.6 316.3,20.9 321.1,20.9 323.7,20.9 323.7,127.3 25.7,127.3"/></clipPath>
<g clip-path="url(#tg)">
<rect x="26.7" y="5.7" width="296.0" height="120.6" fill="#74c386"/>
<polygon points="76.2,125.9 78.8,123.5 82.4,120.2 86.4,116.4 90.0,112.9 93.1,109.5 95.9,106.2 98.6,102.9 101.4,99.9 104.4,97.1 107.4,94.5 110.3,92.1 112.8,90.1 114.9,88.5 116.6,87.4 118.2,86.3 120.0,85.2 122.0,83.9 124.0,82.5 126.1,81.3 128.1,80.3 130.1,79.8 132.0,79.5 134.0,79.5 136.3,79.5 138.9,79.7 141.8,80.0 144.8,80.5 147.6,81.2 150.2,82.0 152.6,83.1 155.0,84.5 157.4,86.0 159.8,87.9 162.3,90.1 164.7,92.5 167.2,95.0 169.6,97.6 172.0,100.5 174.5,103.5 176.9,106.4 179.4,109.3 182.0,112.3 184.5,115.1 186.7,117.7 188.5,120.2 190.1,122.5 191.4,124.5 192.4,125.9" fill="#6aa0cc"/>
<polygon points="25.7,2.7 25.7,81.4 29.3,81.4 38.2,77.3 46.3,74.0 54.5,71.6 61.0,73.2 69.1,70.8 77.2,66.7 82.1,65.4 90.2,68.4 95.1,70.8 100.0,65.1 104.9,55.4 107.3,49.7 113.0,48.0 122.8,48.0 122.6,46.7 128.3,49.7 134.8,49.7 143.0,42.7 160.9,44.3 169.0,48.0 175.5,49.7 182.0,49.7 188.5,55.4 196.6,57.8 204.8,59.4 211.3,58.6 225.2,63.5 228.5,69.2 235.0,69.2 241.5,70.8 254.5,71.3 265.9,73.6 270.7,79.7 277.2,89.5 287.0,95.2 296.7,98.0 303.2,98.4 313.0,96.0 321.1,95.7 323.7,95.7 323.7,2.7" fill="#c58473"/>
<polygon points="25.7,2.7 25.7,59.4 29.3,59.4 41.5,58.6 52.8,59.9 62.6,58.3 74.0,58.6 82.1,55.4 88.6,49.7 95.1,47.2 101.6,46.4 106.5,49.7 113.0,47.2 122.8,47.2 122.6,45.9 130.0,47.2 141.3,47.2 144.6,42.0 160.9,42.3 170.6,46.4 178.7,44.0 185.2,49.7 193.4,53.7 201.5,51.3 208.0,54.5 214.5,52.9 225.2,53.7 233.3,53.7 241.5,49.7 249.6,47.2 256.1,49.7 262.6,55.4 272.4,57.0 282.1,54.0 293.5,55.4 303.2,57.3 313.0,58.6 321.1,59.4 323.7,59.4 323.7,2.7" fill="#e3b28f"/>
<polygon points="25.7,2.7 25.7,47.2 29.3,47.2 36.6,48.5 43.1,46.4 52.8,48.0 57.7,45.6 65.9,44.8 72.4,40.7 80.5,39.9 87.0,41.5 93.5,39.1 100.0,38.6 104.9,40.7 111.4,39.4 116.3,45.6 122.8,46.4 122.6,45.3 126.7,44.8 130.0,40.4 139.7,41.0 160.9,41.5 169.0,44.8 175.5,44.8 182.0,41.5 188.5,46.4 195.0,49.7 201.5,46.4 208.0,49.7 214.5,48.0 225.2,46.4 231.7,41.5 239.8,38.3 249.6,39.9 256.1,45.6 262.6,47.2 274.0,42.3 283.7,38.3 293.5,35.0 303.2,35.8 313.0,32.9 321.1,32.3 323.7,32.3 323.7,2.7" fill="#b1977a"/>
<g clip-path="url(#bl2)"><g filter="url(#fbl2)"><rect x="81.4" y="58.4" width="126.4" height="76.9" fill="#fffbd8"/><polygon points="89.4,127.3 92.5,124.2 100.7,106.8 108.9,92.5 117.0,80.3 123.2,71.1 127.2,66.4 134.4,79.9 139.5,78.2 145.6,80.7 151.8,76.6 159.9,79.2 168.1,75.2 174.3,78.2 179.4,84.4 184.5,93.6 193.7,110.9 198.8,124.2 199.8,127.3" fill="#fffbd8"/>
<polygon points="93.5,127.3 96.2,121.1 103.7,105.8 111.3,93.6 119.1,81.3 124.8,73.1 128.3,70.0 131.7,82.3 134.4,93.6 139.5,97.6 147.7,91.5 159.9,88.9 172.2,86.0 177.9,86.4 182.8,94.6 191.0,110.9 196.3,127.3" fill="#fff03c"/>
<polygon points="135.0,81.3 136.1,80.8 137.7,80.1 139.5,79.9 141.4,80.6 143.5,81.8 145.6,82.3 147.7,81.2 149.9,79.3 152.2,78.2 154.7,79.0 157.3,80.6 159.9,81.3 162.8,80.0 165.7,77.7 168.1,76.6 170.1,77.4 171.7,79.3 172.6,81.3 172.9,83.1 172.6,84.9 171.2,86.4 168.2,87.2 164.1,87.6 159.9,88.0 155.8,88.6 151.5,89.2 147.7,90.1 144.5,91.6 141.8,93.5 139.5,94.6 137.7,94.3 136.3,93.3 135.4,92.5" fill="#fffbd8"/>
<polygon points="128.9,70.0 129.9,71.5 131.2,73.5 131.7,76.2 131.2,79.4 129.9,83.3 128.3,87.4 126.4,92.0 124.3,96.9 122.1,101.7 120.0,106.3 117.9,110.7 116.0,115.0 114.9,119.6 114.0,124.1 111.9,127.3 107.2,128.6 101.3,128.6 97.6,127.3 97.8,124.2 100.1,119.8 102.7,115.0 105.2,110.1 108.1,104.8 110.9,99.7 113.7,94.7 116.5,89.8 119.1,85.4 121.4,81.3 123.4,77.7 124.8,75.2" fill="#ffd726"/>
<polygon points="129.3,71.7 129.8,72.7 130.5,74.3 130.5,76.6 129.6,79.6 128.0,83.3 126.2,87.4 124.2,92.0 121.8,96.9 119.5,101.7 117.2,106.3 114.9,110.7 112.9,115.0 111.5,119.6 110.4,124.1 108.9,127.3 106.1,128.6 102.9,128.6 101.1,127.3 101.6,124.2 103.5,119.8 105.8,115.0 108.1,110.1 110.7,104.8 113.4,99.7 116.0,94.7 118.7,89.8 121.1,85.4 123.2,81.5 125.0,78.1 126.2,75.8" fill="url(#pgl)"/>
<polygon points="173.8,84.4 175.0,83.9 176.6,83.5 178.3,84.4 180.0,87.2 181.7,91.3 183.5,95.6 185.5,99.9 187.7,104.5 189.6,108.9 191.2,113.5 192.4,118.0 192.6,121.1 191.2,122.5 188.8,122.5 186.5,121.1 185.0,118.0 183.7,113.4 182.4,108.9 180.8,104.3 179.1,99.8 177.9,96.6" fill="url(#pgr)"/>
<polygon points="124.2,127.7 124.9,124.9 125.8,121.0 127.0,116.7 128.3,113.0 129.8,110.0 131.5,107.2 133.3,104.8 135.0,102.7 136.7,101.0 138.3,99.6 139.9,98.6 141.6,98.3 143.3,98.6 145.1,99.6 146.9,101.0 148.7,102.7 150.6,104.8 152.5,107.2 154.3,110.0 155.9,113.0 157.1,116.7 158.1,121.0 159.0,124.9 159.5,127.7" fill="url(#pgw)"/>
<polygon points="128.1,128.1 131.7,119.1 137.5,108.9 141.6,103.4 146.1,109.9 150.1,119.1 153.0,128.1" fill="#6aa0cc"/>
<polygon points="129.3,92.9 129.6,91.2 130.1,88.7 130.5,86.4 131.0,84.4 131.5,82.6 132.0,81.9 132.4,83.0 132.9,85.2 133.4,87.4 133.8,89.3 134.2,91.1 134.2,92.5 133.5,93.4 132.5,93.9 131.7,94.2" fill="#6aa0cc"/></g></g>
<polygon points="87.4,97.6 87.5,95.7 87.6,92.9 88.0,90.5 88.8,88.6 89.8,87.0 90.9,86.0 92.1,85.9 93.4,86.4 94.1,87.4 94.1,89.1 93.6,91.4 92.9,93.6 92.0,95.6 90.9,97.7 90.1,99.1" fill="#fffbd8"/>
<polyline points="104.8,53.7 100.7,66.0 95.6,80.3 91.5,88.4" fill="none" stroke="#fde058" stroke-width="1.89" stroke-linecap="round" stroke-linejoin="round"/><polyline points="104.8,53.7 100.7,66.0 95.6,80.3 91.5,88.4" fill="none" stroke="#ff9a0a" stroke-width="1.36" stroke-linecap="round" stroke-linejoin="round"/><polyline points="104.8,53.7 100.7,66.0 95.6,80.3 91.5,88.4" fill="none" stroke="#e0300a" stroke-width="0.79" stroke-linecap="round" stroke-linejoin="round"/>
<polyline points="111.4,39.1 106.5,52.1 104.8,53.7" fill="none" stroke="#fde058" stroke-width="1.89" stroke-linecap="round" stroke-linejoin="round"/><polyline points="111.4,39.1 106.5,52.1 104.8,53.7" fill="none" stroke="#ff9a0a" stroke-width="1.36" stroke-linecap="round" stroke-linejoin="round"/><polyline points="111.4,39.1 106.5,52.1 104.8,53.7" fill="none" stroke="#e0300a" stroke-width="0.79" stroke-linecap="round" stroke-linejoin="round"/>
<polyline points="113.0,39.1 116.3,44.0 122.8,53.7 130.0,63.5 134.8,68.4" fill="none" stroke="#fde058" stroke-width="1.89" stroke-linecap="round" stroke-linejoin="round"/><polyline points="113.0,39.1 116.3,44.0 122.8,53.7 130.0,63.5 134.8,68.4" fill="none" stroke="#ff9a0a" stroke-width="1.36" stroke-linecap="round" stroke-linejoin="round"/><polyline points="113.0,39.1 116.3,44.0 122.8,53.7 130.0,63.5 134.8,68.4" fill="none" stroke="#e0300a" stroke-width="0.79" stroke-linecap="round" stroke-linejoin="round"/>
<polyline points="119.5,39.1 130.0,48.8 139.7,58.6" fill="none" stroke="#fde058" stroke-width="1.74" stroke-linecap="round" stroke-linejoin="round"/><polyline points="119.5,39.1 130.0,48.8 139.7,58.6" fill="none" stroke="#ff9a0a" stroke-width="1.25" stroke-linecap="round" stroke-linejoin="round"/><polyline points="119.5,39.1 130.0,48.8 139.7,58.6" fill="none" stroke="#e0300a" stroke-width="0.73" stroke-linecap="round" stroke-linejoin="round"/>
<polyline points="184.4,39.1 190.1,57.0 196.6,76.5 202.3,94.4" fill="none" stroke="#fff6a8" stroke-width="1.30" stroke-linecap="round" stroke-linejoin="round"/>
<polyline points="159.2,51.3 147.8,59.4" fill="none" stroke="#fff6a8" stroke-width="1.16" stroke-linecap="round" stroke-linejoin="round"/>
<polyline points="189.6,61.9 176.3,68.0" fill="none" stroke="#fff6a8" stroke-width="1.16" stroke-linecap="round" stroke-linejoin="round"/>
<polyline points="189.6,82.3 181.4,85.4" fill="none" stroke="#fff6a8" stroke-width="1.16" stroke-linecap="round" stroke-linejoin="round"/>
<polyline points="164.0,62.9 151.8,68.0 141.6,76.2 136.4,81.3" fill="none" stroke="#fdf08a" stroke-width="1.74" stroke-linecap="round" stroke-linejoin="round"/><polyline points="164.0,62.9 151.8,68.0 141.6,76.2 136.4,81.3" fill="none" stroke="#ffd828" stroke-width="1.15" stroke-linecap="round" stroke-linejoin="round"/><polyline points="164.0,62.9 151.8,68.0 141.6,76.2 136.4,81.3" fill="none" stroke="#ffa200" stroke-width="0.56" stroke-linecap="round" stroke-linejoin="round"/>
<polyline points="171.2,72.1 159.9,76.2 149.7,81.3" fill="none" stroke="#fde058" stroke-width="1.89" stroke-linecap="round" stroke-linejoin="round"/><polyline points="171.2,72.1 159.9,76.2 149.7,81.3" fill="none" stroke="#ff9a0a" stroke-width="1.36" stroke-linecap="round" stroke-linejoin="round"/><polyline points="171.2,72.1 159.9,76.2 149.7,81.3" fill="none" stroke="#e0300a" stroke-width="0.79" stroke-linecap="round" stroke-linejoin="round"/>
<polyline points="158.4,41.5 163.3,49.7 162.0,53.7 168.1,63.9 173.2,74.1 178.3,84.4 181.4,90.5" fill="none" stroke="#fde058" stroke-width="3.48" stroke-linecap="round" stroke-linejoin="round"/><polyline points="158.4,41.5 163.3,49.7 162.0,53.7 168.1,63.9 173.2,74.1 178.3,84.4 181.4,90.5" fill="none" stroke="#ff9a0a" stroke-width="2.51" stroke-linecap="round" stroke-linejoin="round"/><polyline points="158.4,41.5 163.3,49.7 162.0,53.7 168.1,63.9 173.2,74.1 178.3,84.4 181.4,90.5" fill="none" stroke="#e0300a" stroke-width="1.46" stroke-linecap="round" stroke-linejoin="round"/>
<polyline points="171.2,73.1 175.3,82.3 178.3,89.5" fill="none" stroke="#fde058" stroke-width="1.74" stroke-linecap="round" stroke-linejoin="round"/><polyline points="171.2,73.1 175.3,82.3 178.3,89.5" fill="none" stroke="#ff9a0a" stroke-width="1.25" stroke-linecap="round" stroke-linejoin="round"/><polyline points="171.2,73.1 175.3,82.3 178.3,89.5" fill="none" stroke="#e0300a" stroke-width="0.73" stroke-linecap="round" stroke-linejoin="round"/>
<polyline points="157.3,42.0 146.7,53.7 139.5,61.9 132.4,71.1 127.2,78.2 124.8,82.3" fill="none" stroke="#ff9a10" stroke-width="6.60" stroke-linecap="round" stroke-linejoin="round"/>
<polyline points="157.3,42.0 146.7,53.7 139.5,61.9 132.4,71.1 127.2,78.2 126.0,80.3" fill="none" stroke="#e83208" stroke-width="4.80" stroke-linecap="round" stroke-linejoin="round"/>
<polyline points="155.6,42.7 145.6,54.7 139.1,62.3 133.0,70.0" fill="none" stroke="#8a0e0a" stroke-width="2.40" stroke-linecap="round" stroke-linejoin="round"/>
<polyline points="121.1,53.7 129.3,62.9 135.4,69.6" fill="none" stroke="#fde058" stroke-width="1.74" stroke-linecap="round" stroke-linejoin="round"/><polyline points="121.1,53.7 129.3,62.9 135.4,69.6" fill="none" stroke="#ff9a0a" stroke-width="1.25" stroke-linecap="round" stroke-linejoin="round"/><polyline points="121.1,53.7 129.3,62.9 135.4,69.6" fill="none" stroke="#e0300a" stroke-width="0.73" stroke-linecap="round" stroke-linejoin="round"/>
</g>
<polyline points="29.3,96.8 30.8,96.3 32.8,95.6 35.2,94.9 37.9,94.0 40.8,93.0 43.7,92.1 46.7,91.2 49.6,90.3 52.5,89.5 55.5,88.7 58.6,87.8 61.7,87.0 64.9,86.2 68.0,85.4 71.1,84.6 74.0,83.8 76.8,83.0 79.6,82.3 82.4,81.5 85.2,80.8 87.8,80.1 90.4,79.4 92.8,78.7 95.1,78.1 97.3,77.5 99.3,77.0 101.3,76.4 103.1,75.9 104.9,75.4 106.5,75.0 108.2,74.5 109.8,74.0 111.2,73.6 112.5,73.1 113.7,72.7 114.9,72.3 116.0,71.9 117.3,71.5 118.6,71.1 120.2,70.8 122.0,70.5 123.9,70.2 125.9,70.0 128.0,69.7 130.1,69.5 132.3,69.4 134.4,69.2 136.5,69.2 138.5,69.1 140.5,69.1 142.6,69.2 144.6,69.3 146.6,69.4 148.7,69.6 150.7,69.7 152.7,70.0 154.8,70.3 156.8,70.6 158.8,71.0 160.9,71.4 162.9,71.8 164.9,72.3 166.9,72.7 169.0,73.2 171.0,73.8 173.0,74.3 175.1,74.9 177.1,75.6 179.1,76.2 181.2,76.9 183.2,77.5 185.2,78.1 187.2,78.7 189.1,79.3 191.0,79.8 192.9,80.4 194.9,81.0 196.9,81.6 199.1,82.3 201.5,83.0 204.2,83.8 207.1,84.7 210.2,85.6 213.4,86.6 216.5,87.6 219.6,88.6 222.5,89.5 225.2,90.3 227.5,91.1 229.6,91.8 231.5,92.4 233.3,93.1 235.1,93.7 237.0,94.3 239.1,95.0 241.5,95.7 244.1,96.4 247.0,97.2 250.0,97.9 253.1,98.7 256.3,99.5 259.6,100.3 262.7,101.0 265.9,101.7 268.9,102.4 272.0,103.0 275.1,103.7 278.1,104.3 281.2,104.9 284.3,105.5 287.3,106.0 290.2,106.6 293.3,107.1 296.4,107.7 299.5,108.2 302.6,108.7 305.6,109.2 308.4,109.6 310.9,110.0 313.0,110.3 314.8,110.5 316.3,110.7 317.5,110.8 318.5,110.9 319.3,110.9 320.0,110.9 320.6,110.9 321.1,111.0" fill="none" stroke="#0d1a12" stroke-width="0.90" stroke-linejoin="round"/><polyline points="61.8,125.3 63.1,124.5 64.9,123.5 67.0,122.4 69.3,121.1 71.8,119.7 74.2,118.2 76.6,116.8 78.9,115.5 80.9,114.2 83.0,112.9 85.1,111.5 87.1,110.1 89.2,108.7 91.2,107.4 93.2,106.1 95.1,104.9 97.1,103.8 99.0,102.8 100.9,101.8 102.8,100.8 104.6,99.9 106.4,99.1 108.1,98.3 109.8,97.6 111.2,97.0 112.6,96.5 113.9,96.1 115.1,95.7 116.3,95.4 117.5,95.1 118.8,94.8 120.2,94.4 121.7,93.9 123.3,93.5 124.9,93.0 126.5,92.5 128.2,92.1 129.9,91.7 131.6,91.4 133.2,91.1 134.8,90.9 136.4,90.8 138.0,90.7 139.6,90.7 141.2,90.7 142.8,90.8 144.5,90.9 146.2,91.1 148.0,91.4 149.7,91.7 151.5,92.1 153.3,92.6 155.2,93.1 157.0,93.7 158.9,94.4 160.9,95.2 162.8,96.1 164.8,97.1 166.8,98.1 168.9,99.3 170.9,100.5 173.0,101.7 175.1,102.9 177.1,104.1 179.1,105.3 181.1,106.5 183.1,107.8 185.1,109.0 187.2,110.3 189.2,111.5 191.3,112.7 193.4,113.9 195.6,115.1 198.1,116.3 200.6,117.6 203.1,118.8 205.5,120.0 207.7,121.1 209.7,122.0 211.3,122.8 212.5,123.5 213.3,124.0 214.0,124.3 214.4,124.6 214.7,124.8 214.9,125.0 215.1,125.1 215.3,125.3" fill="none" stroke="#0d1a12" stroke-width="0.90" stroke-linejoin="round"/>
</g></g>
<path d="M380.40 330.53V447.12H673.20V330.53M380.40 330.53h-2.50M673.20 330.53h2.50M380.40 345.10h-5.50M673.20 345.10h5.50M380.40 359.68h-2.50M673.20 359.68h2.50M380.40 374.25h-2.50M673.20 374.25h2.50M380.40 388.83h-5.50M673.20 388.83h5.50M380.40 403.40h-2.50M673.20 403.40h2.50M380.40 417.98h-2.50M673.20 417.98h2.50M380.40 432.55h-5.50M673.20 432.55h5.50M380.40 447.12h-2.50M673.20 447.12h2.50M380.40 447.12v5.30M395.04 447.12v2.60M409.68 447.12v2.60M424.32 447.12v2.60M438.96 447.12v2.60M453.60 447.12v5.30M468.24 447.12v2.60M482.88 447.12v2.60M497.52 447.12v2.60M512.16 447.12v2.60M526.80 447.12v5.30M541.44 447.12v2.60M556.08 447.12v2.60M570.72 447.12v2.60M585.36 447.12v2.60M600.00 447.12v5.30M614.64 447.12v2.60M629.28 447.12v2.60M643.92 447.12v2.60M658.56 447.12v2.60M673.20 447.12v5.30" fill="none" stroke="#111" stroke-width="1.05"/>
<text x="371.2" y="348.5" text-anchor="end" class="t">0</text>
<text x="371.2" y="392.2" text-anchor="end" class="t">15</text>
<text x="371.2" y="435.9" text-anchor="end" class="t">30</text>
<text x="371.3" y="449.8" text-anchor="end" class="t">(km)</text>
<text x="379.8" y="463.3" text-anchor="middle" class="t">200</text>
<text x="453.0" y="463.3" text-anchor="middle" class="t">225</text>
<text x="526.2" y="463.3" text-anchor="middle" class="t">250</text>
<text x="599.4" y="463.3" text-anchor="middle" class="t">275</text>
<text x="672.6" y="463.3" text-anchor="middle" class="t">300</text>
<text x="352.6" y="330.7" style="font-weight:bold;font-size:13.6px">g</text>
<text x="385.6" y="335.5">70 Myr</text>
<clipPath id="c03"><rect x="28.6" y="490.8" width="292.0" height="116.6"/></clipPath>
<g clip-path="url(#c03)">
<g transform="translate(0.00,482.55)">
<clipPath id="td"><polygon points="25.7,31.1 29.3,31.1 38.2,30.8 46.3,30.3 57.7,30.8 65.9,33.5 74.0,35.2 87.0,36.0 98.4,37.6 109.8,39.2 119.5,39.6 120.2,39.2 136.5,39.6 152.7,39.2 169.0,38.9 177.1,39.2 185.2,38.4 191.7,36.0 198.2,34.4 204.8,35.7 211.3,35.2 225.2,32.7 230.1,33.5 233.3,35.2 239.8,32.4 248.0,34.4 257.7,30.3 267.5,30.8 277.2,31.1 283.7,28.7 291.9,26.2 298.4,22.2 306.5,23.0 314.6,25.4 321.1,23.8 323.7,23.8 323.7,127.3 25.7,127.3"/></clipPath>
<g clip-path="url(#td)">
<rect x="26.7" y="5.7" width="296.0" height="120.6" fill="#74c386"/>
<polygon points="43.4,125.4 47.6,120.5 56.9,112.4 65.9,101.0 78.9,91.3 90.2,79.9 98.4,70.1 106.5,62.0 113.0,53.9 119.5,47.4 125.2,42.5 130.0,41.7 152.7,40.5 172.2,40.9 175.5,52.2 182.0,63.6 186.1,72.6 193.4,83.1 201.5,96.2 208.8,105.9 217.8,115.7 225.2,118.9 231.7,125.4" fill="#6aa0cc"/>
<polygon points="25.7,2.7 25.7,70.9 29.3,70.9 38.2,66.9 46.3,63.6 54.5,62.8 59.3,65.3 65.9,68.2 70.7,62.0 75.6,53.9 80.5,46.6 85.4,44.1 90.2,45.7 95.1,46.9 101.6,44.6 109.8,44.4 117.9,42.8 120.2,40.9 136.5,40.9 177.1,40.2 185.2,41.7 193.4,46.6 198.2,48.2 206.4,46.6 212.9,49.8 225.2,56.3 235.0,58.4 244.7,59.6 249.6,66.1 257.7,67.7 267.5,69.3 278.9,70.1 290.2,71.8 296.7,75.0 303.2,84.8 308.1,90.5 314.6,92.9 321.1,95.3 323.7,95.3 323.7,2.7" fill="#c58473"/>
<polygon points="25.7,2.7 25.7,57.5 29.3,57.5 38.2,56.3 46.3,56.3 52.8,53.1 57.7,46.6 65.9,44.1 74.0,44.9 78.9,45.7 82.1,44.1 90.2,44.9 95.1,46.6 101.6,44.1 109.8,44.1 117.9,42.5 120.2,40.5 136.5,40.5 176.3,39.9 185.2,40.9 191.7,41.7 198.2,44.1 204.8,43.3 211.3,41.7 225.2,52.6 233.3,53.9 244.7,55.5 252.8,53.1 262.6,52.2 272.4,48.2 280.5,47.0 288.6,51.4 296.7,54.7 306.5,53.9 314.6,53.1 321.1,53.9 323.7,53.9 323.7,2.7" fill="#e3b28f"/>
<polygon points="25.7,2.7 25.7,43.8 29.3,43.8 36.6,41.7 44.7,37.6 54.5,36.8 62.6,36.0 69.1,38.4 74.0,41.7 80.5,42.5 90.2,40.9 96.7,42.5 106.5,40.9 116.3,40.9 120.2,40.2 136.5,40.2 175.5,39.6 185.2,40.1 191.7,38.4 198.2,39.2 204.8,40.9 211.3,39.2 225.2,45.7 231.7,44.9 238.2,48.2 246.3,50.6 254.5,47.4 261.0,40.9 267.5,37.6 277.2,39.2 283.7,43.3 290.2,46.6 298.4,44.1 309.8,40.1 321.1,36.0 323.7,36.0 323.7,2.7" fill="#b1977a"/>
<polygon points="81.9,46.3 96.5,56.1 90.0,69.1 78.7,77.2 67.3,78.9 72.2,62.6 77.0,52.0" fill="#74c386"/>
<polygon points="120.0,50.4 128.1,45.5 134.6,43.9 137.9,47.2 128.1,53.7" fill="#74c386"/>
<polygon points="154.1,44.7 160.7,42.3 173.7,41.5 185.0,43.9 196.4,50.4 207.8,56.1 220.0,59.4 225.7,61.0 225.7,115.5 217.6,116.8 208.6,106.8 201.3,97.1 196.4,87.0 189.9,74.0 181.8,65.9 172.0,57.7 157.4,52.8" fill="#74c386"/>
<polygon points="90.0,71.5 96.5,61.0 103.0,53.7 111.2,50.4 117.7,47.2 122.6,50.4 116.1,57.7 109.6,64.2 101.4,69.1" fill="#c4e8f2"/>
<polygon points="94.9,50.4 103.0,47.2 106.3,50.4 99.8,54.5" fill="#74c386"/>
<polygon points="106.3,49.6 112.8,46.3 115.2,48.8 109.6,53.7" fill="#74c386"/>
<polygon points="120.9,50.4 125.0,48.8 125.0,54.5" fill="#74c386"/>
<polyline points="101.4,69.1 106.3,61.0 112.8,53.7" fill="none" stroke="#8cc4ea" stroke-width="1.62" stroke-linecap="round" stroke-linejoin="round"/>
<polygon points="62.4,31.7 73.8,34.6 86.8,35.8 98.2,37.4 109.6,39.0 125.0,39.5 136.3,39.8 152.5,39.0 168.8,38.5 185.0,38.2 194.8,35.0 204.6,35.8 211.1,36.6 220.0,34.1 220.0,54.5 211.1,52.0 201.3,48.0 193.2,44.7 185.0,43.1 173.7,43.4 162.3,42.8 152.5,42.8 141.1,45.0 129.8,42.8 120.0,44.4 117.7,44.4 109.6,47.2 98.2,48.8 90.0,47.2 80.3,47.2 72.2,43.1 65.7,37.4" fill="#93cbec"/>
<polygon points="194.5,37.4 195.1,36.6 196.1,35.4 197.2,34.6 198.8,34.4 200.7,34.5 202.1,35.0 202.9,35.9 203.4,37.1 203.3,38.2 202.4,39.0 201.1,39.7 199.7,40.2 198.2,40.2 196.7,40.0 195.6,39.8" fill="#b1977a"/>
<polygon points="215.6,39.8 216.3,39.1 217.3,38.1 218.4,37.4 219.5,37.3 220.8,37.5 221.6,38.2 222.0,39.8 222.0,41.9 221.6,43.4 220.4,43.8 218.8,43.6 217.6,43.4" fill="#b1977a"/>
<polygon points="186.7,43.1 187.9,42.5 189.7,41.8 191.5,41.5 193.4,41.8 195.3,42.5 196.4,43.4 196.6,44.5 196.1,45.7 195.1,46.7 193.2,47.1 190.8,47.1 189.1,47.2" fill="#c58473"/>
<polygon points="207.5,43.9 208.1,43.5 209.0,43.0 209.8,42.8 210.5,43.2 211.1,44.0 211.4,44.7 210.9,45.4 210.1,46.2 209.4,46.7" fill="#c58473"/>
<polygon points="212.4,48.3 213.1,47.8 214.2,47.2 215.1,47.0 216.0,47.4 216.7,48.1 217.1,48.8 216.6,49.4 215.8,50.1 215.1,50.6" fill="#c58473"/>
<polygon points="72.2,36.3 73.2,35.6 74.7,34.7 76.2,34.3 77.9,34.7 79.5,35.4 80.6,36.3 80.8,37.1 80.3,37.9 79.5,38.5 77.9,38.7 76.0,38.6 74.6,38.5" fill="#b1977a"/>
<polygon points="87.6,38.5 88.4,37.9 89.6,37.0 90.9,36.6 92.3,36.8 93.9,37.4 94.9,38.2 95.1,39.3 94.8,40.6 94.1,41.5 92.7,41.7 91.0,41.6 89.7,41.5" fill="#b1977a"/>
<polyline points="31.5,30.9 44.5,30.4 57.5,30.9 67.3,33.7 80.3,35.8 93.3,37.4 109.6,39.5 125.0,39.8" fill="none" stroke="#b0e0f1" stroke-width="2.43" stroke-linecap="round" stroke-linejoin="round"/><polyline points="31.5,30.9 44.5,30.4 57.5,30.9 67.3,33.7 80.3,35.8 93.3,37.4 109.6,39.5 125.0,39.8" fill="none" stroke="#93cbec" stroke-width="1.22" stroke-linecap="round" stroke-linejoin="round"/>
<polyline points="57.5,39.8 57.5,48.0 52.6,56.1 49.4,61.8" fill="none" stroke="#b0e0f1" stroke-width="2.16" stroke-linecap="round" stroke-linejoin="round"/><polyline points="57.5,39.8 57.5,48.0 52.6,56.1 49.4,61.8" fill="none" stroke="#93cbec" stroke-width="1.08" stroke-linecap="round" stroke-linejoin="round"/>
<polyline points="64.0,36.6 59.1,44.7" fill="none" stroke="#b0e0f1" stroke-width="2.03" stroke-linecap="round" stroke-linejoin="round"/><polyline points="64.0,36.6 59.1,44.7" fill="none" stroke="#93cbec" stroke-width="1.01" stroke-linecap="round" stroke-linejoin="round"/>
<polyline points="29.1,48.0 39.6,46.3 46.1,41.5" fill="none" stroke="#b0e0f1" stroke-width="1.89" stroke-linecap="round" stroke-linejoin="round"/>
<polyline points="34.8,52.8 44.5,56.1 52.6,56.1" fill="none" stroke="#b0e0f1" stroke-width="1.89" stroke-linecap="round" stroke-linejoin="round"/>
<polyline points="29.1,71.5 38.0,70.7 46.1,65.9 52.6,62.6" fill="none" stroke="#b0e0f1" stroke-width="2.97" stroke-linecap="round" stroke-linejoin="round"/><polyline points="29.1,71.5 38.0,70.7 46.1,65.9 52.6,62.6" fill="none" stroke="#93cbec" stroke-width="1.49" stroke-linecap="round" stroke-linejoin="round"/><polyline points="29.1,71.5 38.0,70.7 46.1,65.9 52.6,62.6" fill="none" stroke="#86c0ea" stroke-width="1.84" stroke-linecap="round" stroke-linejoin="round"/><polyline points="29.1,71.5 38.0,70.7 46.1,65.9 52.6,62.6" fill="none" stroke="#609fe3" stroke-width="1.22" stroke-linecap="round" stroke-linejoin="round"/><polyline points="29.1,71.5 38.0,70.7 46.1,65.9 52.6,62.6" fill="none" stroke="#2f6ad0" stroke-width="0.61" stroke-linecap="round" stroke-linejoin="round"/>
<polygon points="49.4,74.8 67.3,72.4 65.7,79.7 57.5,81.3" fill="#c4e8f2"/>
<polyline points="29.1,72.4 41.3,75.6 52.6,78.1 62.4,78.9 67.3,70.7" fill="none" stroke="#b0e0f1" stroke-width="3.51" stroke-linecap="round" stroke-linejoin="round"/><polyline points="29.1,72.4 41.3,75.6 52.6,78.1 62.4,78.9 67.3,70.7" fill="none" stroke="#93cbec" stroke-width="1.76" stroke-linecap="round" stroke-linejoin="round"/><polyline points="29.1,72.4 41.3,75.6 52.6,78.1 62.4,78.9 67.3,70.7" fill="none" stroke="#86c0ea" stroke-width="2.10" stroke-linecap="round" stroke-linejoin="round"/><polyline points="29.1,72.4 41.3,75.6 52.6,78.1 62.4,78.9 67.3,70.7" fill="none" stroke="#609fe3" stroke-width="1.40" stroke-linecap="round" stroke-linejoin="round"/><polyline points="29.1,72.4 41.3,75.6 52.6,78.1 62.4,78.9 67.3,70.7" fill="none" stroke="#2f6ad0" stroke-width="0.70" stroke-linecap="round" stroke-linejoin="round"/>
<polygon points="42.9,69.1 52.6,63.4 57.5,69.1 49.4,73.2" fill="#74c386"/>
<polyline points="29.1,56.9 38.0,58.5 49.4,61.8 57.5,65.9 64.0,67.5 70.5,61.0 75.4,52.8 80.3,46.3" fill="none" stroke="#c3e8f4" stroke-width="6.66" stroke-linecap="round" stroke-linejoin="round"/><polyline points="29.1,56.9 38.0,58.5 49.4,61.8 57.5,65.9 64.0,67.5 70.5,61.0 75.4,52.8 80.3,46.3" fill="none" stroke="#b0e0f1" stroke-width="4.59" stroke-linecap="round" stroke-linejoin="round"/><polyline points="29.1,56.9 38.0,58.5 49.4,61.8 57.5,65.9 64.0,67.5 70.5,61.0 75.4,52.8 80.3,46.3" fill="none" stroke="#93cbec" stroke-width="2.29" stroke-linecap="round" stroke-linejoin="round"/><polyline points="29.1,56.9 38.0,58.5 49.4,61.8 57.5,65.9 64.0,67.5 70.5,61.0 75.4,52.8 80.3,46.3" fill="none" stroke="#86c0ea" stroke-width="3.15" stroke-linecap="round" stroke-linejoin="round"/><polyline points="29.1,56.9 38.0,58.5 49.4,61.8 57.5,65.9 64.0,67.5 70.5,61.0 75.4,52.8 80.3,46.3" fill="none" stroke="#609fe3" stroke-width="2.10" stroke-linecap="round" stroke-linejoin="round"/><polyline points="29.1,56.9 38.0,58.5 49.4,61.8 57.5,65.9 64.0,67.5 70.5,61.0 75.4,52.8 80.3,46.3" fill="none" stroke="#2f6ad0" stroke-width="1.05" stroke-linecap="round" stroke-linejoin="round"/>
<polyline points="29.1,36.6 38.0,38.2 46.1,35.8 55.9,37.4 64.0,33.3 72.2,39.8 80.3,43.9 90.0,43.9 98.2,45.5 109.6,43.9 117.7,41.5 125.0,41.5" fill="none" stroke="#c3e8f4" stroke-width="7.05" stroke-linecap="round" stroke-linejoin="round"/><polyline points="29.1,36.6 38.0,38.2 46.1,35.8 55.9,37.4 64.0,33.3 72.2,39.8 80.3,43.9 90.0,43.9 98.2,45.5 109.6,43.9 117.7,41.5 125.0,41.5" fill="none" stroke="#b0e0f1" stroke-width="4.86" stroke-linecap="round" stroke-linejoin="round"/><polyline points="29.1,36.6 38.0,38.2 46.1,35.8 55.9,37.4 64.0,33.3 72.2,39.8 80.3,43.9 90.0,43.9 98.2,45.5 109.6,43.9 117.7,41.5 125.0,41.5" fill="none" stroke="#93cbec" stroke-width="2.43" stroke-linecap="round" stroke-linejoin="round"/><polyline points="29.1,36.6 38.0,38.2 46.1,35.8 55.9,37.4 64.0,33.3 72.2,39.8 80.3,43.9 90.0,43.9 98.2,45.5 109.6,43.9 117.7,41.5 125.0,41.5" fill="none" stroke="#86c0ea" stroke-width="3.41" stroke-linecap="round" stroke-linejoin="round"/><polyline points="29.1,36.6 38.0,38.2 46.1,35.8 55.9,37.4 64.0,33.3 72.2,39.8 80.3,43.9 90.0,43.9 98.2,45.5 109.6,43.9 117.7,41.5 125.0,41.5" fill="none" stroke="#609fe3" stroke-width="2.27" stroke-linecap="round" stroke-linejoin="round"/><polyline points="29.1,36.6 38.0,38.2 46.1,35.8 55.9,37.4 64.0,33.3 72.2,39.8 80.3,43.9 90.0,43.9 98.2,45.5 109.6,43.9 117.7,41.5 125.0,41.5" fill="none" stroke="#2f6ad0" stroke-width="1.14" stroke-linecap="round" stroke-linejoin="round"/>
<polyline points="80.3,44.7 90.0,41.5 101.4,41.5 112.8,42.3" fill="none" stroke="#b0e0f1" stroke-width="2.70" stroke-linecap="round" stroke-linejoin="round"/><polyline points="80.3,44.7 90.0,41.5 101.4,41.5 112.8,42.3" fill="none" stroke="#93cbec" stroke-width="1.35" stroke-linecap="round" stroke-linejoin="round"/><polyline points="80.3,44.7 90.0,41.5 101.4,41.5 112.8,42.3" fill="none" stroke="#86c0ea" stroke-width="1.58" stroke-linecap="round" stroke-linejoin="round"/><polyline points="80.3,44.7 90.0,41.5 101.4,41.5 112.8,42.3" fill="none" stroke="#609fe3" stroke-width="1.05" stroke-linecap="round" stroke-linejoin="round"/><polyline points="80.3,44.7 90.0,41.5 101.4,41.5 112.8,42.3" fill="none" stroke="#2f6ad0" stroke-width="0.52" stroke-linecap="round" stroke-linejoin="round"/>
<polyline points="185.0,39.8 196.4,38.2 207.8,39.8 220.0,36.6" fill="none" stroke="#b0e0f1" stroke-width="2.97" stroke-linecap="round" stroke-linejoin="round"/><polyline points="185.0,39.8 196.4,38.2 207.8,39.8 220.0,36.6" fill="none" stroke="#93cbec" stroke-width="1.49" stroke-linecap="round" stroke-linejoin="round"/><polyline points="185.0,39.8 196.4,38.2 207.8,39.8 220.0,36.6" fill="none" stroke="#86c0ea" stroke-width="1.58" stroke-linecap="round" stroke-linejoin="round"/><polyline points="185.0,39.8 196.4,38.2 207.8,39.8 220.0,36.6" fill="none" stroke="#609fe3" stroke-width="1.05" stroke-linecap="round" stroke-linejoin="round"/><polyline points="185.0,39.8 196.4,38.2 207.8,39.8 220.0,36.6" fill="none" stroke="#2f6ad0" stroke-width="0.52" stroke-linecap="round" stroke-linejoin="round"/>
<polyline points="120.0,41.5 129.8,39.8 141.1,42.3 152.5,39.8 162.3,39.8 173.7,40.7 185.0,39.8 193.2,42.3 201.3,45.5 211.1,48.8 220.0,52.0" fill="none" stroke="#c3e8f4" stroke-width="6.26" stroke-linecap="round" stroke-linejoin="round"/><polyline points="120.0,41.5 129.8,39.8 141.1,42.3 152.5,39.8 162.3,39.8 173.7,40.7 185.0,39.8 193.2,42.3 201.3,45.5 211.1,48.8 220.0,52.0" fill="none" stroke="#b0e0f1" stroke-width="4.32" stroke-linecap="round" stroke-linejoin="round"/><polyline points="120.0,41.5 129.8,39.8 141.1,42.3 152.5,39.8 162.3,39.8 173.7,40.7 185.0,39.8 193.2,42.3 201.3,45.5 211.1,48.8 220.0,52.0" fill="none" stroke="#93cbec" stroke-width="2.16" stroke-linecap="round" stroke-linejoin="round"/><polyline points="120.0,41.5 129.8,39.8 141.1,42.3 152.5,39.8 162.3,39.8 173.7,40.7 185.0,39.8 193.2,42.3 201.3,45.5 211.1,48.8 220.0,52.0" fill="none" stroke="#86c0ea" stroke-width="2.62" stroke-linecap="round" stroke-linejoin="round"/><polyline points="120.0,41.5 129.8,39.8 141.1,42.3 152.5,39.8 162.3,39.8 173.7,40.7 185.0,39.8 193.2,42.3 201.3,45.5 211.1,48.8 220.0,52.0" fill="none" stroke="#609fe3" stroke-width="1.75" stroke-linecap="round" stroke-linejoin="round"/><polyline points="120.0,41.5 129.8,39.8 141.1,42.3 152.5,39.8 162.3,39.8 173.7,40.7 185.0,39.8 193.2,42.3 201.3,45.5 211.1,48.8 220.0,52.0" fill="none" stroke="#2f6ad0" stroke-width="0.88" stroke-linecap="round" stroke-linejoin="round"/>
<polyline points="123.3,61.0 129.8,52.8 139.5,46.3 149.3,43.1" fill="none" stroke="#b0e0f1" stroke-width="2.70" stroke-linecap="round" stroke-linejoin="round"/><polyline points="123.3,61.0 129.8,52.8 139.5,46.3 149.3,43.1" fill="none" stroke="#93cbec" stroke-width="1.35" stroke-linecap="round" stroke-linejoin="round"/><polyline points="123.3,61.0 129.8,52.8 139.5,46.3 149.3,43.1" fill="none" stroke="#86c0ea" stroke-width="1.31" stroke-linecap="round" stroke-linejoin="round"/><polyline points="123.3,61.0 129.8,52.8 139.5,46.3 149.3,43.1" fill="none" stroke="#609fe3" stroke-width="0.88" stroke-linecap="round" stroke-linejoin="round"/><polyline points="123.3,61.0 129.8,52.8 139.5,46.3 149.3,43.1" fill="none" stroke="#2f6ad0" stroke-width="0.44" stroke-linecap="round" stroke-linejoin="round"/>
<polyline points="142.8,60.2 152.5,54.5 162.3,52.0 173.7,50.4 185.0,53.7 193.2,59.4 199.7,69.1 201.3,77.2" fill="none" stroke="#c4e8f2" stroke-width="1.35" stroke-linecap="round" stroke-linejoin="round"/>
<polyline points="163.9,62.6 173.7,61.0 185.0,64.2 191.5,67.5" fill="none" stroke="#c4e8f2" stroke-width="1.22" stroke-linecap="round" stroke-linejoin="round"/>
<polyline points="173.7,47.2 185.0,49.6 194.8,56.1 202.9,65.9 207.8,78.9" fill="none" stroke="#c4e8f2" stroke-width="1.35" stroke-linecap="round" stroke-linejoin="round"/>
<polyline points="204.6,65.9 214.3,62.6 220.0,61.8" fill="none" stroke="#c4e8f2" stroke-width="1.22" stroke-linecap="round" stroke-linejoin="round"/>
<polyline points="196.4,56.9 207.8,57.7 220.0,58.5" fill="none" stroke="#b0e0f1" stroke-width="2.16" stroke-linecap="round" stroke-linejoin="round"/><polyline points="196.4,56.9 207.8,57.7 220.0,58.5" fill="none" stroke="#93cbec" stroke-width="1.08" stroke-linecap="round" stroke-linejoin="round"/><polyline points="196.4,56.9 207.8,57.7 220.0,58.5" fill="none" stroke="#86c0ea" stroke-width="1.31" stroke-linecap="round" stroke-linejoin="round"/><polyline points="196.4,56.9 207.8,57.7 220.0,58.5" fill="none" stroke="#609fe3" stroke-width="0.88" stroke-linecap="round" stroke-linejoin="round"/><polyline points="196.4,56.9 207.8,57.7 220.0,58.5" fill="none" stroke="#2f6ad0" stroke-width="0.44" stroke-linecap="round" stroke-linejoin="round"/>
<polyline points="204.6,36.6 211.1,43.1 217.6,48.0" fill="none" stroke="#b0e0f1" stroke-width="2.16" stroke-linecap="round" stroke-linejoin="round"/><polyline points="204.6,36.6 211.1,43.1 217.6,48.0" fill="none" stroke="#93cbec" stroke-width="1.08" stroke-linecap="round" stroke-linejoin="round"/>
<polyline points="225.0,35.0 231.5,38.2 229.9,44.7 234.8,50.4" fill="none" stroke="#b0e0f1" stroke-width="2.16" stroke-linecap="round" stroke-linejoin="round"/><polyline points="225.0,35.0 231.5,38.2 229.9,44.7 234.8,50.4" fill="none" stroke="#93cbec" stroke-width="1.08" stroke-linecap="round" stroke-linejoin="round"/>
<polyline points="233.1,36.6 242.9,32.5 255.9,30.9 264.0,36.6" fill="none" stroke="#b0e0f1" stroke-width="2.03" stroke-linecap="round" stroke-linejoin="round"/><polyline points="233.1,36.6 242.9,32.5 255.9,30.9 264.0,36.6" fill="none" stroke="#93cbec" stroke-width="1.01" stroke-linecap="round" stroke-linejoin="round"/>
<polyline points="242.9,41.5 257.5,38.2" fill="none" stroke="#b0e0f1" stroke-width="1.89" stroke-linecap="round" stroke-linejoin="round"/>
<polyline points="298.2,22.8 290.0,28.5 281.9,35.0 277.0,39.8" fill="none" stroke="#b0e0f1" stroke-width="2.29" stroke-linecap="round" stroke-linejoin="round"/><polyline points="298.2,22.8 290.0,28.5 281.9,35.0 277.0,39.8" fill="none" stroke="#93cbec" stroke-width="1.15" stroke-linecap="round" stroke-linejoin="round"/>
<polyline points="299.8,22.8 309.6,31.7" fill="none" stroke="#b0e0f1" stroke-width="2.03" stroke-linecap="round" stroke-linejoin="round"/><polyline points="299.8,22.8 309.6,31.7" fill="none" stroke="#93cbec" stroke-width="1.01" stroke-linecap="round" stroke-linejoin="round"/>
<polyline points="320.1,23.6 316.1,31.7" fill="none" stroke="#b0e0f1" stroke-width="1.76" stroke-linecap="round" stroke-linejoin="round"/>
<polyline points="320.1,53.7 309.6,54.5 294.9,56.9" fill="none" stroke="#b0e0f1" stroke-width="2.03" stroke-linecap="round" stroke-linejoin="round"/><polyline points="320.1,53.7 309.6,54.5 294.9,56.9" fill="none" stroke="#93cbec" stroke-width="1.01" stroke-linecap="round" stroke-linejoin="round"/>
<polyline points="311.2,61.8 298.2,66.7" fill="none" stroke="#c4e8f2" stroke-width="1.08" stroke-linecap="round" stroke-linejoin="round"/>
<polyline points="225.0,69.9 228.3,80.5 231.5,87.0" fill="none" stroke="#b0e0f1" stroke-width="2.16" stroke-linecap="round" stroke-linejoin="round"/><polyline points="225.0,69.9 228.3,80.5 231.5,87.0" fill="none" stroke="#93cbec" stroke-width="1.08" stroke-linecap="round" stroke-linejoin="round"/>
<polyline points="233.1,82.9 238.0,80.5" fill="none" stroke="#c4e8f2" stroke-width="0.94" stroke-linecap="round" stroke-linejoin="round"/>
<polyline points="264.0,77.2 268.9,74.8" fill="none" stroke="#c4e8f2" stroke-width="0.94" stroke-linecap="round" stroke-linejoin="round"/>
<polyline points="320.1,96.8 312.8,93.5" fill="none" stroke="#b0e0f1" stroke-width="1.76" stroke-linecap="round" stroke-linejoin="round"/>
<polyline points="269.7,30.9 262.4,38.2 252.6,46.3 242.9,52.0 234.8,54.5 225.0,56.1" fill="none" stroke="#b0e0f1" stroke-width="2.97" stroke-linecap="round" stroke-linejoin="round"/><polyline points="269.7,30.9 262.4,38.2 252.6,46.3 242.9,52.0 234.8,54.5 225.0,56.1" fill="none" stroke="#93cbec" stroke-width="1.49" stroke-linecap="round" stroke-linejoin="round"/><polyline points="269.7,30.9 262.4,38.2 252.6,46.3 242.9,52.0 234.8,54.5 225.0,56.1" fill="none" stroke="#86c0ea" stroke-width="1.84" stroke-linecap="round" stroke-linejoin="round"/><polyline points="269.7,30.9 262.4,38.2 252.6,46.3 242.9,52.0 234.8,54.5 225.0,56.1" fill="none" stroke="#609fe3" stroke-width="1.22" stroke-linecap="round" stroke-linejoin="round"/><polyline points="269.7,30.9 262.4,38.2 252.6,46.3 242.9,52.0 234.8,54.5 225.0,56.1" fill="none" stroke="#2f6ad0" stroke-width="0.61" stroke-linecap="round" stroke-linejoin="round"/>
<polyline points="225.0,56.1 234.8,56.1 242.9,58.5 247.8,62.9" fill="none" stroke="#c3e8f4" stroke-width="6.26" stroke-linecap="round" stroke-linejoin="round"/><polyline points="225.0,56.1 234.8,56.1 242.9,58.5 247.8,62.9" fill="none" stroke="#b0e0f1" stroke-width="4.32" stroke-linecap="round" stroke-linejoin="round"/><polyline points="225.0,56.1 234.8,56.1 242.9,58.5 247.8,62.9" fill="none" stroke="#93cbec" stroke-width="2.16" stroke-linecap="round" stroke-linejoin="round"/><polyline points="225.0,56.1 234.8,56.1 242.9,58.5 247.8,62.9" fill="none" stroke="#86c0ea" stroke-width="2.89" stroke-linecap="round" stroke-linejoin="round"/><polyline points="225.0,56.1 234.8,56.1 242.9,58.5 247.8,62.9" fill="none" stroke="#609fe3" stroke-width="1.92" stroke-linecap="round" stroke-linejoin="round"/><polyline points="225.0,56.1 234.8,56.1 242.9,58.5 247.8,62.9" fill="none" stroke="#2f6ad0" stroke-width="0.96" stroke-linecap="round" stroke-linejoin="round"/>
<polyline points="273.8,45.5 264.0,52.0 255.9,58.5 247.8,63.4" fill="none" stroke="#c3e8f4" stroke-width="6.66" stroke-linecap="round" stroke-linejoin="round"/><polyline points="273.8,45.5 264.0,52.0 255.9,58.5 247.8,63.4" fill="none" stroke="#b0e0f1" stroke-width="4.59" stroke-linecap="round" stroke-linejoin="round"/><polyline points="273.8,45.5 264.0,52.0 255.9,58.5 247.8,63.4" fill="none" stroke="#93cbec" stroke-width="2.29" stroke-linecap="round" stroke-linejoin="round"/><polyline points="273.8,45.5 264.0,52.0 255.9,58.5 247.8,63.4" fill="none" stroke="#86c0ea" stroke-width="3.41" stroke-linecap="round" stroke-linejoin="round"/><polyline points="273.8,45.5 264.0,52.0 255.9,58.5 247.8,63.4" fill="none" stroke="#609fe3" stroke-width="2.27" stroke-linecap="round" stroke-linejoin="round"/><polyline points="273.8,45.5 264.0,52.0 255.9,58.5 247.8,63.4" fill="none" stroke="#2f6ad0" stroke-width="1.14" stroke-linecap="round" stroke-linejoin="round"/>
<polyline points="246.1,61.0 249.4,72.4 254.3,83.7 259.1,93.5 264.0,100.8" fill="none" stroke="#b0e0f1" stroke-width="3.24" stroke-linecap="round" stroke-linejoin="round"/><polyline points="246.1,61.0 249.4,72.4 254.3,83.7 259.1,93.5 264.0,100.8" fill="none" stroke="#93cbec" stroke-width="1.62" stroke-linecap="round" stroke-linejoin="round"/><polyline points="246.1,61.0 249.4,72.4 254.3,83.7 259.1,93.5" fill="none" stroke="#86c0ea" stroke-width="2.10" stroke-linecap="round" stroke-linejoin="round"/><polyline points="246.1,61.0 249.4,72.4 254.3,83.7 259.1,93.5" fill="none" stroke="#609fe3" stroke-width="1.40" stroke-linecap="round" stroke-linejoin="round"/><polyline points="246.1,61.0 249.4,72.4 254.3,83.7 259.1,93.5" fill="none" stroke="#2f6ad0" stroke-width="0.70" stroke-linecap="round" stroke-linejoin="round"/>
<polyline points="320.1,35.0 309.6,39.8 298.2,43.9 288.4,46.3" fill="none" stroke="#c3e8f4" stroke-width="6.26" stroke-linecap="round" stroke-linejoin="round"/><polyline points="320.1,35.0 309.6,39.8 298.2,43.9 288.4,46.3" fill="none" stroke="#b0e0f1" stroke-width="4.32" stroke-linecap="round" stroke-linejoin="round"/><polyline points="320.1,35.0 309.6,39.8 298.2,43.9 288.4,46.3" fill="none" stroke="#93cbec" stroke-width="2.16" stroke-linecap="round" stroke-linejoin="round"/><polyline points="320.1,35.0 309.6,39.8 298.2,43.9 288.4,46.3" fill="none" stroke="#86c0ea" stroke-width="2.89" stroke-linecap="round" stroke-linejoin="round"/><polyline points="320.1,35.0 309.6,39.8 298.2,43.9 288.4,46.3" fill="none" stroke="#609fe3" stroke-width="1.92" stroke-linecap="round" stroke-linejoin="round"/><polyline points="320.1,35.0 309.6,39.8 298.2,43.9 288.4,46.3" fill="none" stroke="#2f6ad0" stroke-width="0.96" stroke-linecap="round" stroke-linejoin="round"/>
<polyline points="272.2,33.3 278.7,41.5 285.2,51.2 291.7,62.6 298.2,75.6 303.0,87.0 307.9,98.4 312.8,103.3" fill="none" stroke="#b0e0f1" stroke-width="3.51" stroke-linecap="round" stroke-linejoin="round"/><polyline points="272.2,33.3 278.7,41.5 285.2,51.2 291.7,62.6 298.2,75.6 303.0,87.0 307.9,98.4 312.8,103.3" fill="none" stroke="#93cbec" stroke-width="1.76" stroke-linecap="round" stroke-linejoin="round"/><polyline points="278.7,41.5 285.2,51.2 291.7,62.6 298.2,75.6 303.0,87.0 307.9,98.4" fill="none" stroke="#86c0ea" stroke-width="2.10" stroke-linecap="round" stroke-linejoin="round"/><polyline points="278.7,41.5 285.2,51.2 291.7,62.6 298.2,75.6 303.0,87.0 307.9,98.4" fill="none" stroke="#609fe3" stroke-width="1.40" stroke-linecap="round" stroke-linejoin="round"/><polyline points="278.7,41.5 285.2,51.2 291.7,62.6 298.2,75.6 303.0,87.0 307.9,98.4" fill="none" stroke="#2f6ad0" stroke-width="0.70" stroke-linecap="round" stroke-linejoin="round"/>
<polyline points="298.2,102.4 320.1,103.3" fill="none" stroke="#c4e8f2" stroke-width="2.70" stroke-linecap="round" stroke-linejoin="round"/>
<polyline points="29.3,32.0 38.2,31.7 46.3,31.2 57.7,31.7 65.9,34.4 74.0,36.1 87.0,36.9 98.4,38.5 109.8,40.1 119.5,40.5 120.2,40.1 136.5,40.5 152.7,40.1 169.0,39.8 177.1,40.1 185.2,39.3 191.7,36.9 198.2,35.3 204.8,36.6 211.3,36.1 225.2,33.6 230.1,34.4 233.3,36.1 239.8,33.3 248.0,35.3 257.7,31.2 267.5,31.7 277.2,32.0 283.7,29.6 291.9,27.1 298.4,23.1 306.5,23.9 314.6,26.3" fill="none" stroke="#b0e0f1" stroke-width="1.70" stroke-linecap="round" stroke-linejoin="round"/>
</g>
<polyline points="29.3,92.6 30.8,92.1 32.8,91.5 35.2,90.8 37.9,89.9 40.8,89.1 43.7,88.2 46.7,87.3 49.6,86.4 52.5,85.5 55.5,84.6 58.6,83.7 61.8,82.8 64.9,81.8 68.1,80.9 71.1,80.0 74.0,79.1 76.8,78.2 79.5,77.3 82.2,76.4 84.8,75.6 87.3,74.7 89.8,73.9 92.2,73.0 94.5,72.2 96.8,71.5 98.9,70.7 101.0,69.9 103.0,69.2 105.0,68.5 106.9,67.8 108.9,67.1 110.9,66.5 112.9,66.0 115.0,65.4 117.0,64.9 119.1,64.5 121.1,64.1 123.2,63.7 125.2,63.3 127.2,63.0 129.3,62.8 131.3,62.5 133.4,62.3 135.4,62.2 137.5,62.1 139.5,62.0 141.6,62.0 143.6,62.0 145.6,62.1 147.7,62.3 149.7,62.5 151.8,62.7 153.8,63.0 155.9,63.3 157.9,63.7 159.9,64.1 162.0,64.5 164.0,65.0 166.1,65.5 168.1,66.1 170.2,66.7 172.2,67.3 174.3,67.9 176.3,68.6 178.3,69.2 180.4,69.9 182.4,70.6 184.5,71.3 186.5,72.1 188.6,72.8 190.6,73.6 192.6,74.3 194.7,75.0 196.7,75.7 198.8,76.5 200.8,77.2 202.9,77.9 204.9,78.6 207.0,79.3 209.0,80.0 211.0,80.6 213.1,81.3 215.1,81.9 217.1,82.4 219.1,83.0 221.1,83.6 223.2,84.2 225.2,84.8 227.2,85.4 229.1,85.9 230.9,86.5 232.8,87.0 234.8,87.6 236.8,88.3 239.0,88.9 241.5,89.6 244.1,90.5 247.0,91.3 250.0,92.2 253.1,93.2 256.3,94.2 259.6,95.1 262.7,96.1 265.9,97.0 268.9,97.8 271.8,98.7 274.7,99.5 277.6,100.4 280.6,101.2 283.7,102.0 286.9,102.7 290.2,103.5 294.0,104.2 298.2,104.9 302.7,105.6 307.2,106.3 311.5,106.9 315.4,107.5 318.7,108.0 321.1,108.3" fill="none" stroke="#0d1a12" stroke-width="0.90" stroke-linejoin="round"/><polyline points="43.9,125.4 44.9,124.9 46.3,124.1 48.0,123.3 49.8,122.3 51.8,121.3 53.8,120.2 55.8,119.1 57.7,118.1 59.6,117.1 61.5,116.0 63.4,115.0 65.4,113.9 67.5,112.8 69.6,111.6 71.7,110.4 74.0,109.2 76.4,107.8 78.9,106.5 81.6,105.0 84.3,103.6 87.0,102.1 89.6,100.6 92.2,99.2 94.5,97.8 96.8,96.4 99.0,95.1 101.1,93.7 103.1,92.4 105.1,91.1 107.1,89.8 109.0,88.6 110.9,87.6 112.8,86.6 114.6,85.7 116.4,84.8 118.2,84.0 119.9,83.3 121.7,82.6 123.4,82.0 125.2,81.4 127.0,80.9 128.8,80.4 130.6,80.0 132.4,79.7 134.1,79.3 135.9,79.1 137.7,78.9 139.5,78.8 141.3,78.7 143.1,78.7 144.9,78.7 146.7,78.8 148.5,79.0 150.2,79.2 152.0,79.6 153.8,80.0 155.6,80.6 157.3,81.2 159.1,82.0 160.8,82.8 162.6,83.7 164.4,84.6 166.2,85.6 168.1,86.5 170.1,87.6 172.1,88.6 174.1,89.8 176.2,90.9 178.3,92.1 180.3,93.3 182.4,94.5 184.5,95.7 186.5,97.0 188.5,98.3 190.6,99.5 192.6,100.9 194.6,102.2 196.7,103.5 198.7,104.7 200.8,106.0 203.0,107.2 205.3,108.5 207.7,109.7 210.1,111.0 212.4,112.2 214.6,113.3 216.5,114.3 218.2,115.2 219.6,115.9 220.6,116.4 221.5,116.8 222.2,117.2 222.9,117.5 223.6,117.9 224.3,118.4 225.2,118.9 226.3,119.6 227.5,120.5 228.8,121.4 230.1,122.4 231.4,123.3 232.5,124.2 233.4,124.9 234.1,125.4" fill="none" stroke="#0d1a12" stroke-width="0.90" stroke-linejoin="round"/><polyline points="133.0,125.8 134.0,125.3 135.4,124.6 137.0,123.9 138.5,123.3 139.8,123.0 141.1,122.8 142.3,122.7 143.6,122.7 144.9,122.7 146.2,122.8 147.5,123.0 148.7,123.3 150.0,123.9 151.4,124.6 152.6,125.3 153.4,125.8" fill="none" stroke="#0d1a12" stroke-width="1.00" stroke-linejoin="round"/>
</g></g>
<path d="M28.60 490.77V607.38H320.60V490.77M28.60 490.77h-2.50M320.60 490.77h2.50M28.60 505.35h-5.50M320.60 505.35h5.50M28.60 519.92h-2.50M320.60 519.92h2.50M28.60 534.50h-2.50M320.60 534.50h2.50M28.60 549.07h-5.50M320.60 549.07h5.50M28.60 563.65h-2.50M320.60 563.65h2.50M28.60 578.22h-2.50M320.60 578.22h2.50M28.60 592.80h-5.50M320.60 592.80h5.50M28.60 607.38h-2.50M320.60 607.38h2.50M28.60 607.38v5.30M43.20 607.38v2.60M57.80 607.38v2.60M72.40 607.38v2.60M87.00 607.38v2.60M101.60 607.38v5.30M116.20 607.38v2.60M130.80 607.38v2.60M145.40 607.38v2.60M160.00 607.38v2.60M174.60 607.38v5.30M189.20 607.38v2.60M203.80 607.38v2.60M218.40 607.38v2.60M233.00 607.38v2.60M247.60 607.38v5.30M262.20 607.38v2.60M276.80 607.38v2.60M291.40 607.38v2.60M306.00 607.38v2.60M320.60 607.38v5.30" fill="none" stroke="#111" stroke-width="1.05"/>
<text x="19.4" y="508.7" text-anchor="end" class="t">0</text>
<text x="19.4" y="552.5" text-anchor="end" class="t">15</text>
<text x="19.4" y="596.2" text-anchor="end" class="t">30</text>
<text x="21.6" y="610.4" text-anchor="end" class="t">(km)</text>
<text x="28.0" y="624.8" text-anchor="middle" class="t">200</text>
<text x="101.0" y="624.8" text-anchor="middle" class="t">225</text>
<text x="174.0" y="624.8" text-anchor="middle" class="t">250</text>
<text x="247.0" y="624.8" text-anchor="middle" class="t">275</text>
<text x="320.0" y="624.8" text-anchor="middle" class="t">300</text>
<text x="2.2" y="491.5" style="font-weight:bold;font-size:13.6px">d</text>
<text x="33.8" y="495.7">74 Myr</text>
<clipPath id="c13"><rect x="380.4" y="491.4" width="292.8" height="116.6"/></clipPath>
<g clip-path="url(#c13)">
<g transform="translate(351.80,483.15)">
<clipPath id="th"><polygon points="25.7,31.1 29.3,31.1 38.2,30.8 46.3,30.3 57.7,30.8 65.9,33.5 74.0,35.2 87.0,36.0 98.4,37.6 109.8,39.2 119.5,39.6 120.2,39.2 136.5,39.6 152.7,39.2 169.0,38.9 177.1,39.2 185.2,38.4 191.7,36.0 198.2,34.4 204.8,35.7 211.3,35.2 225.2,32.7 230.1,33.5 233.3,35.2 239.8,32.4 248.0,34.4 257.7,30.3 267.5,30.8 277.2,31.1 283.7,28.7 291.9,26.2 298.4,22.2 306.5,23.0 314.6,25.4 321.1,23.8 323.7,23.8 323.7,127.3 25.7,127.3"/></clipPath>
<g clip-path="url(#th)">
<rect x="26.7" y="5.7" width="296.0" height="120.6" fill="#74c386"/>
<polygon points="43.4,125.4 47.6,120.5 56.9,112.4 65.9,101.0 78.9,91.3 90.2,79.9 98.4,70.1 106.5,62.0 113.0,53.9 119.5,47.4 125.2,42.5 130.0,41.7 152.7,40.5 172.2,40.9 175.5,52.2 182.0,63.6 186.1,72.6 193.4,83.1 201.5,96.2 208.8,105.9 217.8,115.7 225.2,118.9 231.7,125.4" fill="#6aa0cc"/>
<polygon points="25.7,2.7 25.7,70.9 29.3,70.9 38.2,66.9 46.3,63.6 54.5,62.8 59.3,65.3 65.9,68.2 70.7,62.0 75.6,53.9 80.5,46.6 85.4,44.1 90.2,45.7 95.1,46.9 101.6,44.6 109.8,44.4 117.9,42.8 120.2,40.9 136.5,40.9 177.1,40.2 185.2,41.7 193.4,46.6 198.2,48.2 206.4,46.6 212.9,49.8 225.2,56.3 235.0,58.4 244.7,59.6 249.6,66.1 257.7,67.7 267.5,69.3 278.9,70.1 290.2,71.8 296.7,75.0 303.2,84.8 308.1,90.5 314.6,92.9 321.1,95.3 323.7,95.3 323.7,2.7" fill="#c58473"/>
<polygon points="25.7,2.7 25.7,57.5 29.3,57.5 38.2,56.3 46.3,56.3 52.8,53.1 57.7,46.6 65.9,44.1 74.0,44.9 78.9,45.7 82.1,44.1 90.2,44.9 95.1,46.6 101.6,44.1 109.8,44.1 117.9,42.5 120.2,40.5 136.5,40.5 176.3,39.9 185.2,40.9 191.7,41.7 198.2,44.1 204.8,43.3 211.3,41.7 225.2,52.6 233.3,53.9 244.7,55.5 252.8,53.1 262.6,52.2 272.4,48.2 280.5,47.0 288.6,51.4 296.7,54.7 306.5,53.9 314.6,53.1 321.1,53.9 323.7,53.9 323.7,2.7" fill="#e3b28f"/>
<polygon points="25.7,2.7 25.7,43.8 29.3,43.8 36.6,41.7 44.7,37.6 54.5,36.8 62.6,36.0 69.1,38.4 74.0,41.7 80.5,42.5 90.2,40.9 96.7,42.5 106.5,40.9 116.3,40.9 120.2,40.2 136.5,40.2 175.5,39.6 185.2,40.1 191.7,38.4 198.2,39.2 204.8,40.9 211.3,39.2 225.2,45.7 231.7,44.9 238.2,48.2 246.3,50.6 254.5,47.4 261.0,40.9 267.5,37.6 277.2,39.2 283.7,43.3 290.2,46.6 298.4,44.1 309.8,40.1 321.1,36.0 323.7,36.0 323.7,2.7" fill="#b1977a"/>
<polygon points="172.2,40.5 177.1,40.2 185.2,41.7 193.4,46.6 198.2,48.2 206.4,46.6 212.9,49.8 220.2,53.1 220.2,118.9 217.8,115.7 208.8,105.9 201.5,96.2 193.4,83.1 186.1,72.6 182.0,63.6 175.5,52.2" fill="#74c386"/>
<polygon points="125.3,45.4 132.9,40.9 138.7,46.1 131.1,53.1 120.3,55.6" fill="#74c386"/>
<g clip-path="url(#bl3)"><g filter="url(#fbl3)"><rect x="82.5" y="29.4" width="124.3" height="106.1" fill="#fffbd8"/><polygon points="94.1,127.4 96.2,122.3 101.7,110.1 107.8,96.8 114.0,84.5 118.1,75.3 119.1,66.5 124.1,69.8 127.6,61.9 132.9,54.0 139.9,46.1 146.0,38.4 170.5,38.4 172.6,47.9 177.2,54.9 180.7,61.9 183.3,70.6 185.1,79.4 186.0,86.8 186.5,87.6 189.6,99.8 192.6,112.1 195.1,127.4" fill="#fff03c"/>
<polygon points="122.1,76.3 132.4,77.4 127.2,94.7 122.1,127.4 103.7,127.4 111.9,104.9 118.1,88.6" fill="url(#pho)"/>
<polygon points="133.8,80.4 138.7,80.4 133.4,102.9 131.7,127.4 124.4,127.4 127.2,102.9" fill="#fffde6"/>
<polygon points="136.7,127.4 139.1,104.9 143.6,92.7 148.9,104.9 151.0,127.4" fill="#fffde6"/>
<polygon points="158.3,80.4 163.0,80.4 168.1,102.9 171.4,127.4 164.9,127.4 162.4,102.9" fill="#fffde6"/>
<polygon points="173.8,79.4 180.4,79.4 185.5,102.9 190.2,127.4 180.4,127.4 178.3,102.9" fill="url(#phr)"/></g></g>
<polygon points="140.8,46.5 142.7,45.0 145.5,43.1 148.3,42.3 150.9,43.4 153.5,45.6 155.6,47.5 157.4,48.7 158.7,49.7 158.6,51.0 156.6,53.0 153.2,55.3 149.9,57.7 147.0,60.0 144.1,62.3 141.5,64.7 139.1,67.4 137.0,70.2 135.2,72.8 133.6,75.1 132.3,77.2 131.1,78.5 129.8,79.0 128.5,78.6 127.6,77.7 127.1,75.8 126.8,73.3 127.1,70.6 128.1,67.8 129.6,64.8 131.1,61.9 132.8,59.1 134.6,56.4 135.9,54.5" fill="#6aa0cc"/>
<polygon points="149.5,61.4 152.8,59.2 157.4,56.1 161.8,53.5 165.7,51.6 169.3,50.2 172.3,49.6 174.6,50.2 176.2,51.5 176.1,53.1 173.7,54.8 169.5,56.6 165.3,58.7 161.2,61.2 157.0,64.0 153.4,66.4 150.4,68.6 147.9,70.5 146.0,71.5 144.9,71.1 144.5,69.9 144.3,68.9" fill="#6aa0cc"/>
<polygon points="158.3,69.2 161.0,68.0 164.9,66.2 168.8,64.7 172.6,63.4 176.4,62.3 179.3,61.9 181.1,62.3 182.0,63.4 181.4,64.7 178.7,66.1 174.6,67.7 170.5,69.2 166.6,70.7 162.7,72.1 160.0,73.1" fill="#6aa0cc"/>
<polygon points="170.5,73.5 173.0,72.6 176.4,71.4 179.3,70.8 181.3,71.3 182.7,72.4 182.8,73.5 180.5,74.5 176.8,75.5 174.0,76.3" fill="#6aa0cc"/>
<ellipse cx="132.3" cy="77.3" rx="1.1" ry="1.8" fill="#6aa0cc"/>
<ellipse cx="141.6" cy="76.3" rx="1.1" ry="1.6" fill="#6aa0cc"/>
<ellipse cx="152.3" cy="74.5" rx="1.1" ry="1.4" fill="#6aa0cc"/>
<ellipse cx="165.3" cy="77.1" rx="1.1" ry="1.2" fill="#6aa0cc"/>
<ellipse cx="177.2" cy="79.4" rx="1.1" ry="1.6" fill="#6aa0cc"/>
<ellipse cx="183.7" cy="83.3" rx="1.1" ry="1.8" fill="#6aa0cc"/>
<ellipse cx="157.4" cy="78.0" rx="0.9" ry="1.1" fill="#6aa0cc"/>
<polygon points="136.0,127.4 136.2,126.1 136.3,124.1 136.6,122.1 137.1,120.3 137.8,118.8 138.6,117.5 139.6,116.4 140.5,115.6 141.4,115.0 142.3,114.7 143.1,114.5 144.0,114.5 144.9,114.7 145.9,114.9 146.8,115.3 147.7,116.0 148.6,116.9 149.4,118.1 150.2,119.5 150.8,120.9 151.1,122.6 151.3,124.5 151.3,126.2 151.4,127.4" fill="#6aa0cc"/>
<polyline points="139.0,45.4 137.7,43.9 135.8,41.7 134.1,40.2 132.9,39.4 131.7,39.3 130.2,39.8 128.1,41.3 125.7,43.6 123.2,46.1 120.8,48.9 118.4,52.0 116.2,54.9 114.5,57.3 113.0,59.5 111.9,61.9 111.1,64.7 110.6,67.8 110.1,70.6 109.5,73.5 108.8,76.2 108.3,78.0" fill="none" stroke="#fdf4a0" stroke-width="2.17" stroke-linecap="round" stroke-linejoin="round"/><polyline points="139.0,45.4 137.7,43.9 135.8,41.7 134.1,40.2 132.9,39.4 131.7,39.3 130.2,39.8 128.1,41.3 125.7,43.6 123.2,46.1 120.8,48.9 118.4,52.0 116.2,54.9 114.5,57.3 113.0,59.5 111.9,61.9 111.1,64.7 110.6,67.8 110.1,70.6 109.5,73.5 108.8,76.2 108.3,78.0" fill="none" stroke="#ffe53a" stroke-width="1.09" stroke-linecap="round" stroke-linejoin="round"/>
<polyline points="110.1,70.6 108.3,78.0" fill="none" stroke="#fff6a8" stroke-width="2.03" stroke-linecap="round" stroke-linejoin="round"/>
<polyline points="181.1,67.1 179.1,67.8 176.3,68.6 173.3,69.6 170.5,70.6 168.2,71.7 165.9,72.8 163.8,74.0 161.8,75.0 159.7,76.0 157.7,77.1 156.0,77.9 154.8,78.5" fill="none" stroke="#ffe838" stroke-width="2.60" stroke-linecap="round" stroke-linejoin="round"/><polyline points="181.1,67.1 179.1,67.8 176.3,68.6 173.3,69.6 170.5,70.6 168.2,71.7 165.9,72.8 163.8,74.0 161.8,75.0 159.7,76.0 157.7,77.1 156.0,77.9 154.8,78.5" fill="none" stroke="#ff960c" stroke-width="1.17" stroke-linecap="round" stroke-linejoin="round"/>
<polyline points="175.8,56.6 173.9,57.5 171.2,58.8 168.2,60.3 165.3,61.9 162.6,63.5 159.9,65.3 157.3,67.2 154.8,68.9 152.4,70.5 150.1,72.1 147.9,73.6 146.0,75.0 144.3,76.3 142.8,77.6 141.6,78.7 140.8,79.4" fill="none" stroke="#ffe030" stroke-width="3.30" stroke-linecap="round" stroke-linejoin="round"/><polyline points="175.8,56.6 173.9,57.5 171.2,58.8 168.2,60.3 165.3,61.9 162.6,63.5 159.9,65.3 157.3,67.2 154.8,68.9 152.4,70.5 150.1,72.1 147.9,73.6 146.0,75.0 144.3,76.3 142.8,77.6 141.6,78.7 140.8,79.4" fill="none" stroke="#ffa412" stroke-width="2.25" stroke-linecap="round" stroke-linejoin="round"/><polyline points="175.8,56.6 173.9,57.5 171.2,58.8 168.2,60.3 165.3,61.9 162.6,63.5 159.9,65.3 157.3,67.2 154.8,68.9 152.4,70.5 150.1,72.1 147.9,73.6 146.0,75.0 144.3,76.3 142.8,77.6 141.6,78.7 140.8,79.4" fill="none" stroke="#ee4a08" stroke-width="1.20" stroke-linecap="round" stroke-linejoin="round"/>
<polyline points="148.6,39.8 150.0,40.8 151.8,42.2 153.9,43.8 155.6,45.2 157.1,46.6 158.5,47.9 159.6,49.1 160.4,50.0" fill="none" stroke="#ffe030" stroke-width="3.08" stroke-linecap="round" stroke-linejoin="round"/><polyline points="148.6,39.8 150.0,40.8 151.8,42.2 153.9,43.8 155.6,45.2 157.1,46.6 158.5,47.9 159.6,49.1 160.4,50.0" fill="none" stroke="#ffa412" stroke-width="2.10" stroke-linecap="round" stroke-linejoin="round"/><polyline points="148.6,39.8 150.0,40.8 151.8,42.2 153.9,43.8 155.6,45.2 157.1,46.6 158.5,47.9 159.6,49.1 160.4,50.0" fill="none" stroke="#ee4a08" stroke-width="1.12" stroke-linecap="round" stroke-linejoin="round"/>
<polyline points="170.9,39.1 169.2,40.7 166.9,43.1 164.2,45.6 161.8,47.9 159.6,49.7 157.4,51.5 155.2,53.2 153.0,54.9 150.8,56.6 148.5,58.3 146.3,60.0 144.3,61.9 142.5,64.0 140.9,66.2 139.5,68.5 138.1,70.6 136.9,72.8 135.7,74.9 134.8,76.7 134.1,78.0" fill="none" stroke="#ffe030" stroke-width="5.29" stroke-linecap="round" stroke-linejoin="round"/><polyline points="170.9,39.1 169.2,40.7 166.9,43.1 164.2,45.6 161.8,47.9 159.6,49.7 157.4,51.5 155.2,53.2 153.0,54.9 150.8,56.6 148.5,58.3 146.3,60.0 144.3,61.9 142.5,64.0 140.9,66.2 139.5,68.5 138.1,70.6 136.9,72.8 135.7,74.9 134.8,76.7 134.1,78.0" fill="none" stroke="#ff9a10" stroke-width="3.91" stroke-linecap="round" stroke-linejoin="round"/><polyline points="170.9,39.1 169.2,40.7 166.9,43.1 164.2,45.6 161.8,47.9 159.6,49.7 157.4,51.5 155.2,53.2 153.0,54.9 150.8,56.6 148.5,58.3 146.3,60.0 144.3,61.9 142.5,64.0 140.9,66.2 139.5,68.5 138.1,70.6 136.9,72.8 135.7,74.9 134.8,76.7 134.1,78.0" fill="none" stroke="#e83208" stroke-width="2.88" stroke-linecap="round" stroke-linejoin="round"/><polyline points="170.9,39.1 169.2,40.7 166.9,43.1 164.2,45.6 161.8,47.9 159.6,49.7 157.4,51.5 155.2,53.2 153.0,54.9 150.8,56.6 148.5,58.3 146.3,60.0 144.3,61.9 142.5,64.0 140.9,66.2 139.5,68.5 138.1,70.6 136.9,72.8 135.7,74.9 134.8,76.7 134.1,78.0" fill="none" stroke="#8a0e0a" stroke-width="1.38" stroke-linecap="round" stroke-linejoin="round"/>
<polyline points="146.9,39.5 145.5,40.6 143.4,42.3 141.1,44.2 139.0,46.1 137.2,48.0 135.3,50.0 133.6,52.0 132.0,54.0 130.5,56.0 129.2,57.9 127.9,59.9 126.7,61.9 125.7,63.9 124.8,65.9 124.0,67.9 123.2,69.8 122.6,71.6 122.1,73.5 121.8,75.1 121.5,76.3" fill="none" stroke="#ffe030" stroke-width="4.83" stroke-linecap="round" stroke-linejoin="round"/><polyline points="146.9,39.5 145.5,40.6 143.4,42.3 141.1,44.2 139.0,46.1 137.2,48.0 135.3,50.0 133.6,52.0 132.0,54.0 130.5,56.0 129.2,57.9 127.9,59.9 126.7,61.9 125.7,63.9 124.8,65.9 124.0,67.9 123.2,69.8 122.6,71.6 122.1,73.5 121.8,75.1 121.5,76.3" fill="none" stroke="#ff9a10" stroke-width="3.57" stroke-linecap="round" stroke-linejoin="round"/><polyline points="146.9,39.5 145.5,40.6 143.4,42.3 141.1,44.2 139.0,46.1 137.2,48.0 135.3,50.0 133.6,52.0 132.0,54.0 130.5,56.0 129.2,57.9 127.9,59.9 126.7,61.9 125.7,63.9 124.8,65.9 124.0,67.9 123.2,69.8 122.6,71.6 122.1,73.5 121.8,75.1 121.5,76.3" fill="none" stroke="#e83208" stroke-width="2.62" stroke-linecap="round" stroke-linejoin="round"/><polyline points="146.9,39.5 145.5,40.6 143.4,42.3 141.1,44.2 139.0,46.1 137.2,48.0 135.3,50.0 133.6,52.0 132.0,54.0 130.5,56.0 129.2,57.9 127.9,59.9 126.7,61.9 125.7,63.9 124.8,65.9 124.0,67.9 123.2,69.8 122.6,71.6 122.1,73.5 121.8,75.1 121.5,76.3" fill="none" stroke="#8a0e0a" stroke-width="1.26" stroke-linecap="round" stroke-linejoin="round"/>
<polyline points="111.4,61.2 116.3,62.8" fill="none" stroke="#fff6a8" stroke-width="1.16" stroke-linecap="round" stroke-linejoin="round"/>
<polyline points="99.2,47.4 98.4,52.2" fill="none" stroke="#fff9d8" stroke-width="0.93" stroke-linecap="round" stroke-linejoin="round"/>
</g>
<polyline points="29.3,92.6 30.8,92.1 32.8,91.5 35.2,90.8 37.9,89.9 40.8,89.1 43.7,88.2 46.7,87.3 49.6,86.4 52.5,85.5 55.5,84.6 58.6,83.7 61.8,82.8 64.9,81.8 68.1,80.9 71.1,80.0 74.0,79.1 76.8,78.2 79.5,77.3 82.2,76.4 84.8,75.6 87.3,74.7 89.8,73.9 92.2,73.0 94.5,72.2 96.8,71.5 98.9,70.7 101.0,69.9 103.0,69.2 105.0,68.5 106.9,67.8 108.9,67.1 110.9,66.5 112.9,66.0 115.0,65.4 117.0,64.9 119.1,64.5 121.1,64.1 123.2,63.7 125.2,63.3 127.2,63.0 129.3,62.8 131.3,62.5 133.4,62.3 135.4,62.2 137.5,62.1 139.5,62.0 141.6,62.0 143.6,62.0 145.6,62.1 147.7,62.3 149.7,62.5 151.8,62.7 153.8,63.0 155.9,63.3 157.9,63.7 159.9,64.1 162.0,64.5 164.0,65.0 166.1,65.5 168.1,66.1 170.2,66.7 172.2,67.3 174.3,67.9 176.3,68.6 178.3,69.2 180.4,69.9 182.4,70.6 184.5,71.3 186.5,72.1 188.6,72.8 190.6,73.6 192.6,74.3 194.7,75.0 196.7,75.7 198.8,76.5 200.8,77.2 202.9,77.9 204.9,78.6 207.0,79.3 209.0,80.0 211.0,80.6 213.1,81.3 215.1,81.9 217.1,82.4 219.1,83.0 221.1,83.6 223.2,84.2 225.2,84.8 227.2,85.4 229.1,85.9 230.9,86.5 232.8,87.0 234.8,87.6 236.8,88.3 239.0,88.9 241.5,89.6 244.1,90.5 247.0,91.3 250.0,92.2 253.1,93.2 256.3,94.2 259.6,95.1 262.7,96.1 265.9,97.0 268.9,97.8 271.8,98.7 274.7,99.5 277.6,100.4 280.6,101.2 283.7,102.0 286.9,102.7 290.2,103.5 294.0,104.2 298.2,104.9 302.7,105.6 307.2,106.3 311.5,106.9 315.4,107.5 318.7,108.0 321.1,108.3" fill="none" stroke="#0d1a12" stroke-width="0.90" stroke-linejoin="round"/><polyline points="43.9,125.4 44.9,124.9 46.3,124.1 48.0,123.3 49.8,122.3 51.8,121.3 53.8,120.2 55.8,119.1 57.7,118.1 59.6,117.1 61.5,116.0 63.4,115.0 65.4,113.9 67.5,112.8 69.6,111.6 71.7,110.4 74.0,109.2 76.4,107.8 78.9,106.5 81.6,105.0 84.3,103.6 87.0,102.1 89.6,100.6 92.2,99.2 94.5,97.8 96.8,96.4 99.0,95.1 101.1,93.7 103.1,92.4 105.1,91.1 107.1,89.8 109.0,88.6 110.9,87.6 112.8,86.6 114.6,85.7 116.4,84.8 118.2,84.0 119.9,83.3 121.7,82.6 123.4,82.0 125.2,81.4 127.0,80.9 128.8,80.4 130.6,80.0 132.4,79.7 134.1,79.3 135.9,79.1 137.7,78.9 139.5,78.8 141.3,78.7 143.1,78.7 144.9,78.7 146.7,78.8 148.5,79.0 150.2,79.2 152.0,79.6 153.8,80.0 155.6,80.6 157.3,81.2 159.1,82.0 160.8,82.8 162.6,83.7 164.4,84.6 166.2,85.6 168.1,86.5 170.1,87.6 172.1,88.6 174.1,89.8 176.2,90.9 178.3,92.1 180.3,93.3 182.4,94.5 184.5,95.7 186.5,97.0 188.5,98.3 190.6,99.5 192.6,100.9 194.6,102.2 196.7,103.5 198.7,104.7 200.8,106.0 203.0,107.2 205.3,108.5 207.7,109.7 210.1,111.0 212.4,112.2 214.6,113.3 216.5,114.3 218.2,115.2 219.6,115.9 220.6,116.4 221.5,116.8 222.2,117.2 222.9,117.5 223.6,117.9 224.3,118.4 225.2,118.9 226.3,119.6 227.5,120.5 228.8,121.4 230.1,122.4 231.4,123.3 232.5,124.2 233.4,124.9 234.1,125.4" fill="none" stroke="#0d1a12" stroke-width="0.90" stroke-linejoin="round"/><polyline points="133.0,125.8 134.0,125.3 135.4,124.6 137.0,123.9 138.5,123.3 139.8,123.0 141.1,122.8 142.3,122.7 143.6,122.7 144.9,122.7 146.2,122.8 147.5,123.0 148.7,123.3 150.0,123.9 151.4,124.6 152.6,125.3 153.4,125.8" fill="none" stroke="#0d1a12" stroke-width="1.00" stroke-linejoin="round"/>
</g></g>
<path d="M380.40 491.38V607.98H673.20V491.38M380.40 491.38h-2.50M673.20 491.38h2.50M380.40 505.95h-5.50M673.20 505.95h5.50M380.40 520.52h-2.50M673.20 520.52h2.50M380.40 535.10h-2.50M673.20 535.10h2.50M380.40 549.67h-5.50M673.20 549.67h5.50M380.40 564.25h-2.50M673.20 564.25h2.50M380.40 578.83h-2.50M673.20 578.83h2.50M380.40 593.40h-5.50M673.20 593.40h5.50M380.40 607.98h-2.50M673.20 607.98h2.50M380.40 607.98v5.30M395.04 607.98v2.60M409.68 607.98v2.60M424.32 607.98v2.60M438.96 607.98v2.60M453.60 607.98v5.30M468.24 607.98v2.60M482.88 607.98v2.60M497.52 607.98v2.60M512.16 607.98v2.60M526.80 607.98v5.30M541.44 607.98v2.60M556.08 607.98v2.60M570.72 607.98v2.60M585.36 607.98v2.60M600.00 607.98v5.30M614.64 607.98v2.60M629.28 607.98v2.60M643.92 607.98v2.60M658.56 607.98v2.60M673.20 607.98v5.30" fill="none" stroke="#111" stroke-width="1.05"/>
<text x="371.2" y="509.3" text-anchor="end" class="t">0</text>
<text x="371.2" y="553.1" text-anchor="end" class="t">15</text>
<text x="371.2" y="596.8" text-anchor="end" class="t">30</text>
<text x="371.7" y="611.2" text-anchor="end" class="t">(km)</text>
<text x="379.8" y="624.2" text-anchor="middle" class="t">200</text>
<text x="453.0" y="624.2" text-anchor="middle" class="t">225</text>
<text x="526.2" y="624.2" text-anchor="middle" class="t">250</text>
<text x="599.4" y="624.2" text-anchor="middle" class="t">275</text>
<text x="672.6" y="624.2" text-anchor="middle" class="t">300</text>
<text x="352.6" y="491.5" style="font-weight:bold;font-size:13.6px">h</text>
<text x="385.6" y="496.3">74 Myr</text>
<text x="174.7" y="11.9" text-anchor="middle">Brittle strain</text>
<text x="529.5" y="12.5" text-anchor="middle">Total strain−rate</text>
<rect x="28.60" y="631.30" width="13.00" height="9.70" fill="rgb(178,231,245)"/>
<rect x="41.30" y="631.30" width="13.00" height="9.70" fill="rgb(168,222,243)"/>
<rect x="53.99" y="631.30" width="13.00" height="9.70" fill="rgb(158,213,241)"/>
<rect x="66.69" y="631.30" width="13.00" height="9.70" fill="rgb(147,203,239)"/>
<rect x="79.38" y="631.30" width="13.00" height="9.70" fill="rgb(133,192,238)"/>
<rect x="92.08" y="631.30" width="13.00" height="9.70" fill="rgb(119,181,237)"/>
<rect x="104.77" y="631.30" width="13.00" height="9.70" fill="rgb(105,170,236)"/>
<rect x="117.47" y="631.30" width="13.00" height="9.70" fill="rgb(92,160,233)"/>
<rect x="130.17" y="631.30" width="13.00" height="9.70" fill="rgb(79,151,230)"/>
<rect x="142.86" y="631.30" width="13.00" height="9.70" fill="rgb(66,141,227)"/>
<rect x="155.56" y="631.30" width="13.00" height="9.70" fill="rgb(58,133,223)"/>
<rect x="168.25" y="631.30" width="13.00" height="9.70" fill="rgb(52,127,220)"/>
<rect x="180.95" y="631.30" width="13.00" height="9.70" fill="rgb(45,120,216)"/>
<rect x="193.64" y="631.30" width="13.00" height="9.70" fill="rgb(41,112,211)"/>
<rect x="206.34" y="631.30" width="13.00" height="9.70" fill="rgb(39,103,205)"/>
<rect x="219.03" y="631.30" width="13.00" height="9.70" fill="rgb(37,94,199)"/>
<rect x="231.73" y="631.30" width="13.00" height="9.70" fill="rgb(35,85,193)"/>
<rect x="244.43" y="631.30" width="13.00" height="9.70" fill="rgb(32,76,185)"/>
<rect x="257.12" y="631.30" width="13.00" height="9.70" fill="rgb(29,67,177)"/>
<rect x="269.82" y="631.30" width="13.00" height="9.70" fill="rgb(26,57,169)"/>
<rect x="282.51" y="631.30" width="13.00" height="9.70" fill="rgb(23,47,160)"/>
<rect x="295.21" y="631.30" width="13.00" height="9.70" fill="rgb(19,37,151)"/>
<rect x="307.90" y="631.30" width="13.00" height="9.70" fill="rgb(15,27,142)"/>
<rect x="28.60" y="631.30" width="292.00" height="9.70" fill="none" stroke="#111" stroke-width="1.1"/>
<text x="28.6" y="657.0" text-anchor="middle" class="t">1.0</text>
<text x="70.3" y="657.0" text-anchor="middle" class="t">2.0</text>
<text x="112.0" y="657.0" text-anchor="middle" class="t">3.0</text>
<text x="153.7" y="657.0" text-anchor="middle" class="t">4.0</text>
<text x="195.5" y="657.0" text-anchor="middle" class="t">5.0</text>
<text x="237.2" y="657.0" text-anchor="middle" class="t">6.0</text>
<text x="278.9" y="657.0" text-anchor="middle" class="t">7.0</text>
<text x="320.6" y="657.0" text-anchor="middle" class="t">8.0</text>
<path d="M28.60 641.00v4.2M70.31 641.00v4.2M112.03 641.00v4.2M153.74 641.00v4.2M195.46 641.00v4.2M237.17 641.00v4.2M278.89 641.00v4.2M320.60 641.00v4.2" stroke="#111" stroke-width="1" fill="none"/>
<text x="174.7" y="671.6" text-anchor="middle">Accumulated plastic strain (<tspan style="font-style:italic">ε</tspan><tspan dy="2.5" style="font-size:6.5px">p</tspan><tspan dy="-2.5">)</tspan></text>
<rect x="380.40" y="631.90" width="292.80" height="9.70" fill="url(#hot)" stroke="#111" stroke-width="1.1"/>
<text x="380.4" y="657.6" text-anchor="middle" class="t">−14.5</text>
<text x="478.0" y="657.6" text-anchor="middle" class="t">−14.0</text>
<text x="575.6" y="657.6" text-anchor="middle" class="t">−13.5</text>
<text x="673.2" y="657.6" text-anchor="middle" class="t">−13.0</text>
<path d="M380.40 641.60v4.2M478.00 641.60v4.2M575.60 641.60v4.2M673.20 641.60v4.2" stroke="#111" stroke-width="1" fill="none"/>
<text x="527.5" y="672.2" text-anchor="middle">Logarithmic strain rate (s<tspan dy="-3.5" style="font-size:6.5px">−1</tspan><tspan dy="3.5">)</tspan></text>
</svg></body></html>
